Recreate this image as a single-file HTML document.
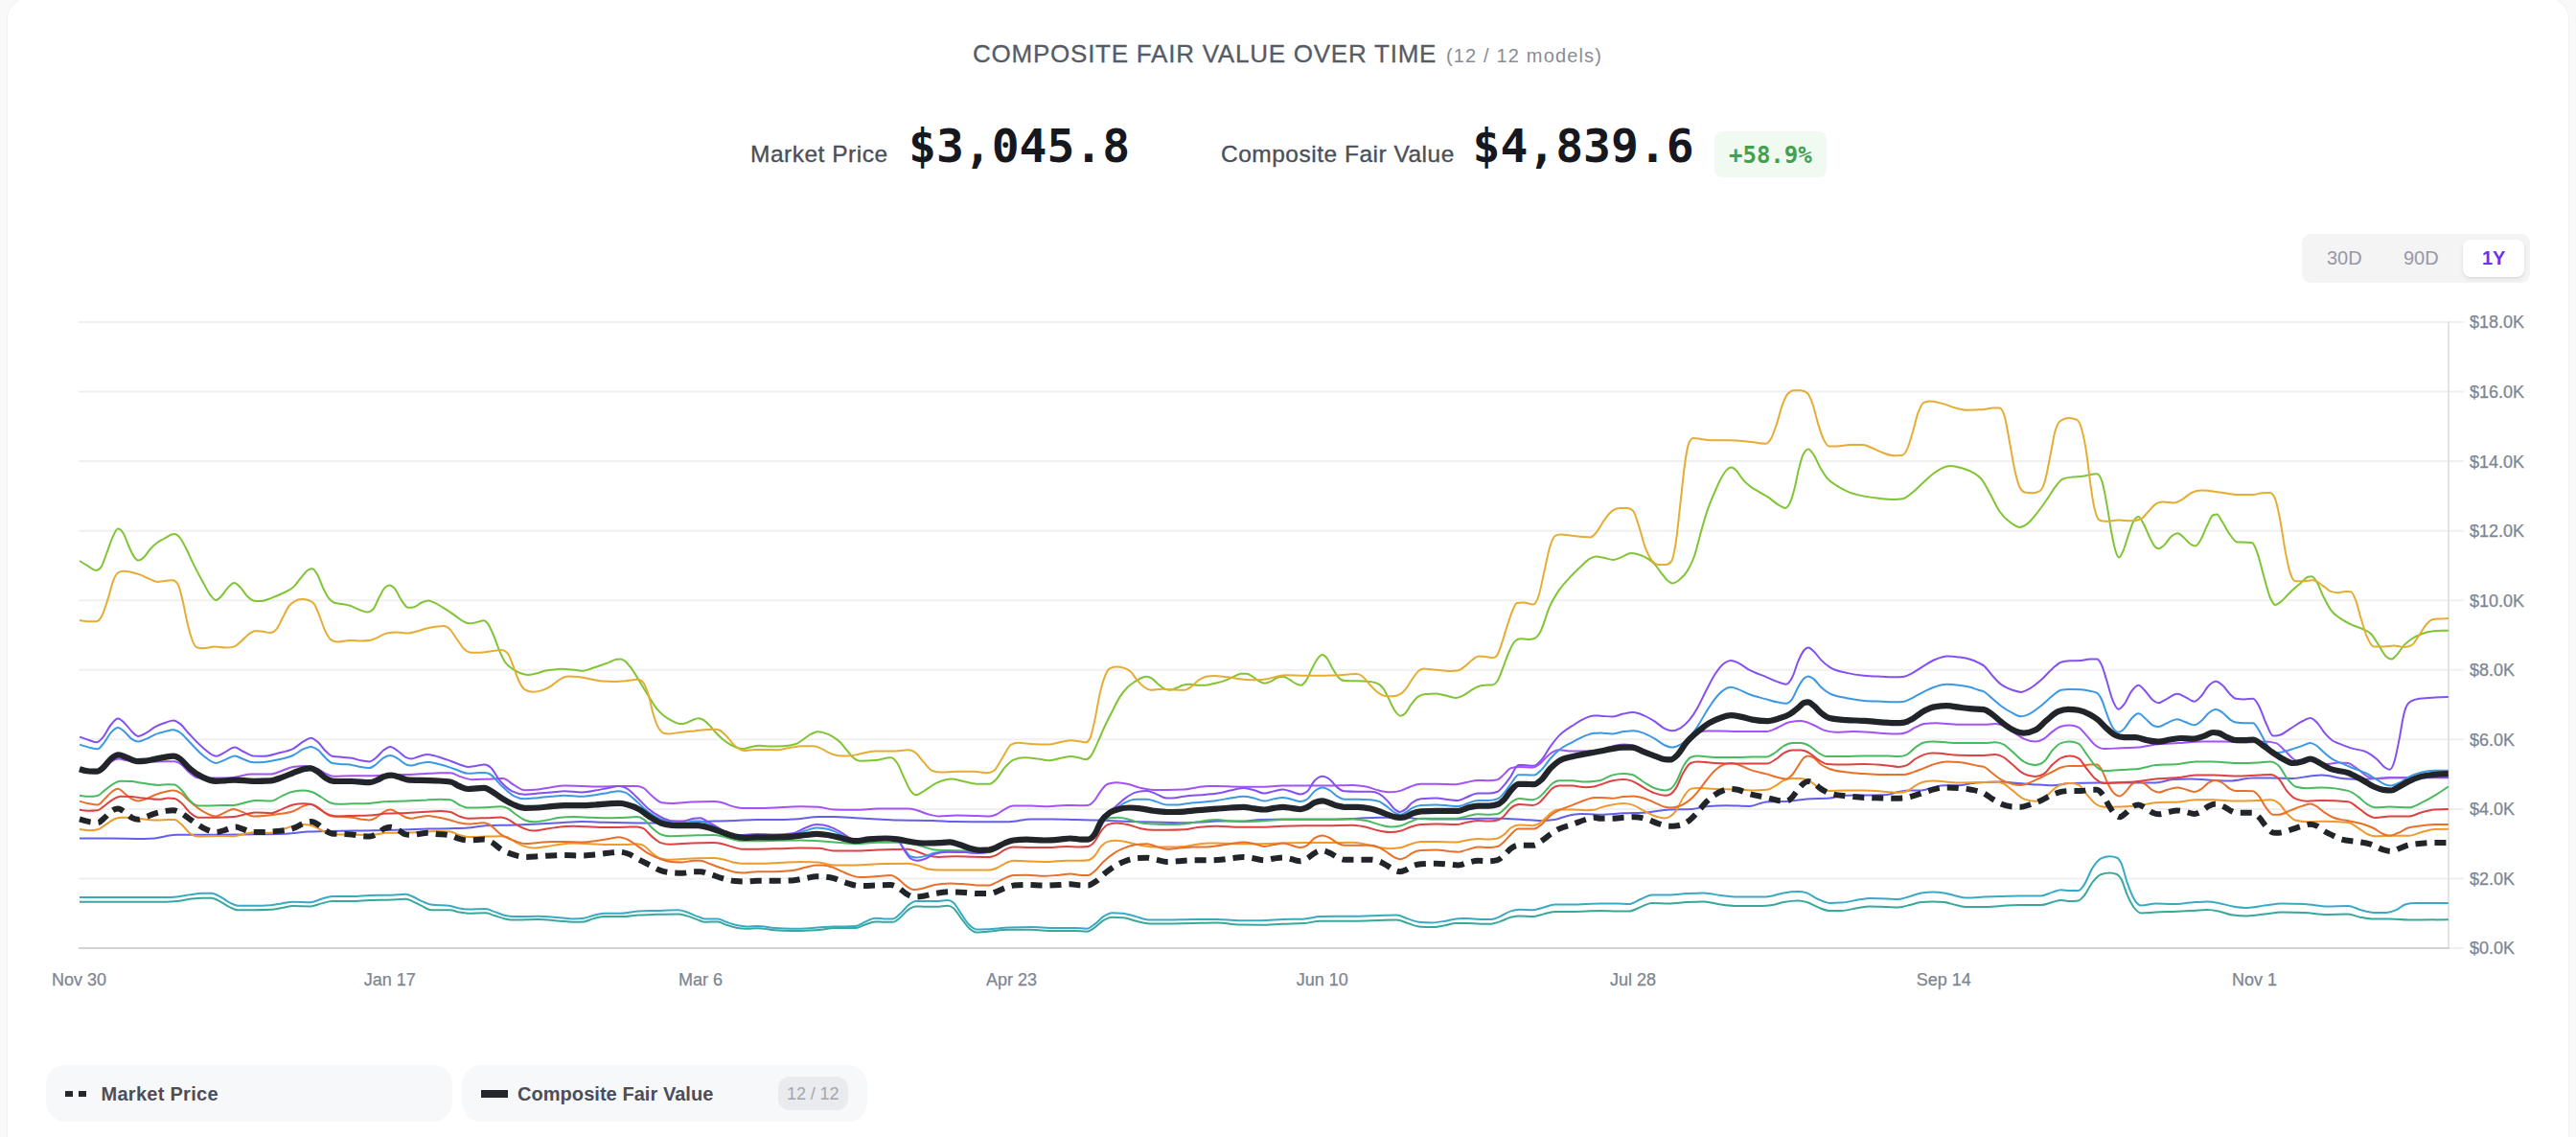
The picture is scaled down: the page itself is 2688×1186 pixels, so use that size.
<!DOCTYPE html><html lang="en"><head><meta charset="utf-8"><title>Composite Fair Value Over Time</title>
<style>
html,body{margin:0;padding:0}
h2,p,button,ul,li{margin:0;padding:0;border:0;background:none;font:inherit;color:inherit;font-weight:400;list-style:none;text-align:left}
body{width:2688px;height:1186px;overflow:hidden;background:#f9f9fa;font-family:"Liberation Sans",Arial,sans-serif;position:relative}
.card{position:absolute;left:8px;top:-2px;width:2672px;height:1300px;background:#fff;border-radius:22px;box-shadow:0 0 0 1px #f2f2f3}
.chart{position:absolute;left:0;top:0}
.t{position:absolute;white-space:nowrap;line-height:1}
.title{left:1015px;top:43px;font-size:26px;color:#555c66;letter-spacing:0.76px;-webkit-text-stroke:0.3px #555c66}
.sub{left:1509px;top:48px;font-size:20px;color:#878d96;letter-spacing:1.16px}
.lbl{font-size:24.5px;color:#4b4f5b;top:148.7px;letter-spacing:0.5px;-webkit-text-stroke:0.35px #4b4f5b}
.big{font-family:"DejaVu Sans Mono","Liberation Mono",monospace;font-weight:700;font-size:48px;color:#17181d;top:128px}
.badge{position:absolute;left:1788.5px;top:137px;width:117.5px;height:47.5px;border-radius:8px;background:#f0faf1}
.pct{font-family:"DejaVu Sans Mono","Liberation Mono",monospace;font-weight:700;font-size:24px;color:#43a050;left:1804px;top:149.5px}
.toggle{position:absolute;left:2402px;top:244px;width:238px;height:51px;border-radius:9px;background:#f4f4f5}
.act{position:absolute;left:2570px;top:250px;width:64px;height:39px;border-radius:8px;background:#fff;box-shadow:0 2px 5px rgba(0,0,0,.08),0 1px 2px rgba(0,0,0,.05)}
.tg{font-size:20px;color:#9898a5;top:259px}
.tga{font-size:20px;color:#6c33e5;font-weight:700;top:259px}
.pill{position:absolute;top:1111px;height:59px;border-radius:20px;background:#f7f8fa}
.lg{font-size:20px;font-weight:700;color:#4b4e5a;top:1131px}
.lg1{letter-spacing:0.28px}
.lg2{letter-spacing:0.05px}
.cnt{position:absolute;left:812px;top:1123px;width:73px;height:35px;border-radius:12px;background:#eaebee}
.cntt{font-size:18px;color:#a3a6af;left:821px;top:1132px;letter-spacing:-0.1px}
.bar{position:absolute;background:#25272d}
</style></head><body>
<main><div class="card"></div>
<svg class="chart" width="2688" height="1186" viewBox="0 0 2688 1186">
<g stroke="#f0f0f0" stroke-width="2" fill="none">
<line x1="82.0" y1="916.4" x2="2571" y2="916.4"/>
<line x1="82.0" y1="843.9" x2="2571" y2="843.9"/>
<line x1="82.0" y1="771.3" x2="2571" y2="771.3"/>
<line x1="82.0" y1="698.8" x2="2571" y2="698.8"/>
<line x1="82.0" y1="626.2" x2="2571" y2="626.2"/>
<line x1="82.0" y1="553.7" x2="2571" y2="553.7"/>
<line x1="82.0" y1="481.1" x2="2571" y2="481.1"/>
<line x1="82.0" y1="408.6" x2="2571" y2="408.6"/>
<line x1="82.0" y1="336.0" x2="2571" y2="336.0"/>
</g>
<g stroke-width="2" fill="none"><line x1="2556" y1="989.0" x2="2571" y2="989.0" stroke="#f0f0f0"/><line x1="2555" y1="335.0" x2="2555" y2="990.0" stroke="#e3e3e3"/><line x1="82.0" y1="989.0" x2="2556" y2="989.0" stroke="#d2d2d2"/></g>
<g fill="none" stroke-linejoin="round" stroke-linecap="butt">
<path d="M83.0,940.8C101.5,940.8,120.1,940.8,138.6,940.8C150.0,940.8,161.5,940.8,172.9,940.8C176.7,940.8,180.5,940.5,184.4,940.1C188.9,939.6,193.5,938.4,198.1,937.8C202.6,937.3,207.2,936.7,211.8,936.7C214.8,936.7,217.9,936.7,220.9,936.7C224.0,936.7,227.0,939.0,230.1,940.6C233.1,942.1,236.2,944.4,239.2,945.8C242.3,947.3,245.3,949.3,248.4,949.3C253.7,949.3,259.1,949.3,264.4,949.3C270.5,949.3,276.6,949.1,282.7,948.8C286.5,948.6,290.3,947.6,294.1,947.0C297.9,946.4,301.8,945.1,305.6,945.1C311.7,945.1,317.8,945.4,323.9,945.4C327.7,945.4,331.5,943.3,335.3,942.4C339.1,941.5,342.9,940.1,346.7,940.1C353.6,940.1,360.5,940.1,367.3,940.1C373.4,940.1,379.5,939.2,385.6,939.0C393.2,938.7,400.9,938.8,408.5,938.5C413.4,938.3,418.4,937.8,423.3,937.8C426.0,937.8,428.7,939.5,431.3,940.6C434.4,941.8,437.4,943.7,440.5,945.1C443.5,946.6,446.6,949.3,449.6,949.3C456.4,949.3,463.2,949.3,470.0,949.3C473.0,949.3,476.1,951.0,479.1,951.5C482.2,952.1,485.2,952.7,488.3,952.7C494.4,952.7,500.5,952.2,506.6,952.2C509.6,952.2,512.7,954.1,515.7,955.0C519.6,956.1,523.4,957.6,527.2,958.4C530.2,959.0,533.3,959.6,536.3,959.6C544.7,959.6,553.1,958.9,561.5,958.9C569.1,958.9,576.7,960.1,584.4,960.7C588.9,961.1,593.5,961.8,598.1,961.8C601.9,961.8,605.7,961.7,609.5,961.4C612.6,961.1,615.6,959.2,618.7,958.4C622.5,957.4,626.3,956.1,630.1,956.1C636.2,956.1,642.3,956.1,648.4,956.1C654.5,956.1,660.6,954.9,666.7,954.5C672.8,954.1,678.9,954.0,685.0,953.8C692.6,953.6,700.2,953.4,707.9,953.4C710.9,953.4,713.9,954.6,717.0,955.4C720.8,956.5,724.6,958.2,728.4,959.6C730.7,960.3,733.0,961.8,735.3,961.8C739.9,961.8,744.4,961.4,749.0,961.4C752.1,961.4,755.1,963.8,758.2,964.8C762.0,966.1,765.8,967.4,769.6,968.0C772.6,968.5,775.7,968.7,778.7,968.7C782.6,968.7,786.4,968.2,790.2,968.2C796.3,968.2,802.4,969.8,808.5,970.3C814.6,970.8,820.7,971.0,826.8,971.0C832.9,971.0,839.0,970.8,845.1,970.5C849.6,970.3,854.2,969.9,858.8,969.4C862.5,969.0,866.3,968.0,870.0,968.0C873.8,968.0,877.6,968.0,881.4,968.0C885.2,968.0,889.1,968.0,892.9,968.0C895.9,968.0,899.0,965.8,902.0,964.8C905.8,963.6,909.6,961.4,913.5,961.4C916.5,961.4,919.6,961.8,922.6,961.8C925.7,961.8,928.7,961.8,931.7,961.8C934.0,961.8,936.3,959.5,938.6,957.7C941.7,955.4,944.7,950.9,947.8,948.8C950.4,947.0,953.1,945.4,955.8,945.4C959.2,945.4,962.6,945.8,966.1,945.8C969.9,945.8,973.7,945.8,977.5,945.8C981.3,945.8,985.1,944.7,988.9,944.7C990.8,944.7,992.7,945.5,994.6,947.0C997.3,949.0,1000.0,953.9,1002.6,957.3C1005.7,961.1,1008.7,966.1,1011.8,968.7C1014.1,970.7,1016.4,972.6,1018.7,972.6C1022.5,972.6,1026.3,972.0,1030.1,971.7C1037.7,971.1,1045.3,969.8,1053.0,969.8C1060.6,969.8,1068.2,969.8,1075.8,969.8C1083.5,969.8,1091.1,971.0,1098.7,971.0C1106.3,971.0,1113.9,971.0,1121.6,971.0C1125.8,971.0,1130.0,971.7,1134.2,971.7C1136.8,971.7,1139.5,969.3,1142.2,967.6C1145.2,965.6,1148.3,962.0,1151.3,960.2C1154.4,958.4,1157.4,956.8,1160.5,956.8C1164.3,956.8,1168.1,957.0,1171.9,957.3C1176.5,957.6,1181.0,959.7,1185.6,960.7C1190.2,961.7,1194.8,963.4,1199.3,963.4C1205.4,963.4,1211.5,963.4,1217.6,963.4C1226.8,963.4,1235.9,963.1,1245.1,963.0C1253.4,962.8,1261.7,962.5,1270.0,962.5C1277.6,962.5,1285.2,964.4,1292.9,964.6C1300.5,964.7,1308.1,964.8,1315.7,964.8C1323.4,964.8,1331.0,964.0,1338.6,963.7C1346.2,963.4,1353.9,963.4,1361.5,963.0C1366.8,962.7,1372.2,960.7,1377.5,960.7C1382.8,960.7,1388.2,960.7,1393.5,960.7C1401.1,960.7,1408.7,960.7,1416.4,960.7C1424.0,960.7,1431.6,960.2,1439.2,960.0C1445.3,959.8,1451.4,959.6,1457.5,959.6C1461.3,959.6,1465.2,961.8,1469.0,963.0C1472.8,964.1,1476.6,966.0,1480.4,966.4C1485.0,966.9,1489.6,967.1,1494.1,967.1C1498.7,967.1,1503.3,966.0,1507.9,965.3C1511.7,964.6,1515.5,963.0,1519.3,963.0C1523.1,963.0,1526.9,963.0,1530.7,963.0C1535.3,963.0,1539.9,963.7,1544.4,963.7C1548.3,963.7,1552.1,963.7,1555.9,963.7C1558.9,963.7,1562.0,962.3,1565.0,961.4C1568.8,960.2,1572.6,957.8,1576.5,956.8C1579.5,956.0,1582.6,955.4,1585.6,955.4C1590.2,955.4,1594.8,956.1,1599.3,956.1C1603.1,956.1,1607.0,954.3,1610.8,953.4C1614.6,952.5,1618.4,950.9,1622.2,950.9C1628.3,950.9,1634.4,950.9,1640.5,950.9C1650.3,950.9,1660.2,950.0,1670.0,950.0C1676.0,950.0,1682.0,950.6,1687.9,950.6C1691.9,950.6,1695.9,950.6,1699.9,950.6C1703.9,950.6,1707.9,947.5,1711.9,946.1C1715.8,944.7,1719.8,941.9,1723.8,941.9C1729.8,941.9,1735.8,942.5,1741.7,942.5C1747.7,942.5,1753.7,941.4,1759.7,941.0C1765.7,940.7,1771.6,940.4,1777.6,940.4C1783.6,940.4,1789.6,942.7,1795.6,943.4C1801.5,944.2,1807.5,944.9,1813.5,944.9C1821.5,944.9,1829.4,944.9,1837.4,944.9C1841.4,944.9,1845.4,944.6,1849.4,944.0C1853.4,943.4,1857.3,941.7,1861.3,941.0C1866.3,940.1,1871.3,939.5,1876.3,939.5C1879.3,939.5,1882.3,940.2,1885.2,941.0C1889.2,942.2,1893.2,944.9,1897.2,946.4C1901.2,947.9,1905.2,950.0,1909.2,950.0C1913.1,950.0,1917.1,950.0,1921.1,950.0C1927.1,950.0,1933.1,947.8,1939.1,947.0C1943.0,946.4,1947.0,945.5,1951.0,945.5C1957.0,945.5,1963.0,945.9,1969.0,946.1C1972.9,946.2,1976.9,946.4,1980.9,946.4C1984.9,946.4,1988.9,944.9,1992.9,944.0C1996.9,943.1,2000.8,941.4,2004.8,941.0C2008.8,940.6,2012.8,940.4,2016.8,940.4C2020.8,940.4,2024.8,940.6,2028.7,941.0C2032.7,941.4,2036.7,943.2,2040.7,944.0C2044.7,944.9,2048.7,946.1,2052.7,946.1C2058.4,946.1,2064.2,946.1,2070.0,946.1C2076.0,946.1,2082.0,945.3,2087.9,944.9C2093.9,944.6,2099.9,944.0,2105.9,944.0C2113.8,944.0,2121.8,944.0,2129.8,944.0C2133.8,944.0,2137.8,942.0,2141.7,941.0C2144.7,940.3,2147.7,938.9,2150.7,938.9C2153.7,938.9,2156.7,940.1,2159.7,940.1C2162.7,940.1,2165.7,939.9,2168.7,939.5C2170.6,939.3,2172.6,936.7,2174.6,934.4C2177.6,931.0,2180.6,923.8,2183.6,920.1C2186.6,916.4,2189.6,913.0,2192.6,912.0C2195.6,911.0,2198.6,910.5,2201.5,910.5C2204.0,910.5,2206.5,911.0,2209.0,912.0C2210.5,912.6,2212.0,914.4,2213.5,917.1C2215.5,920.7,2217.5,928.3,2219.5,932.9C2222.0,938.7,2224.5,943.8,2227.0,947.0C2229.4,950.2,2231.9,952.4,2234.4,952.4C2239.4,952.4,2244.4,951.7,2249.4,951.5C2255.4,951.2,2261.3,951.1,2267.3,950.9C2273.3,950.6,2279.3,950.3,2285.2,950.0C2291.2,949.7,2297.2,949.1,2303.2,949.1C2307.2,949.1,2311.2,949.8,2315.1,950.6C2320.1,951.5,2325.1,953.9,2330.1,954.5C2335.1,955.1,2340.1,955.4,2345.0,955.4C2351.0,955.4,2357.0,954.2,2363.0,953.6C2369.0,952.9,2374.9,951.5,2380.9,951.5C2388.9,951.5,2396.9,951.7,2404.8,952.1C2412.8,952.5,2420.8,953.9,2428.7,953.9C2435.9,953.9,2443.0,953.6,2450.2,953.6C2454.6,953.6,2459.1,956.1,2463.6,956.9C2468.0,957.7,2472.5,958.6,2476.9,958.6C2482.5,958.6,2488.1,958.6,2493.6,958.6C2500.3,958.6,2507.0,959.6,2513.7,959.6C2527.4,959.6,2541.1,959.4,2554.8,959.2" stroke="#38a89d" stroke-width="2.0"/>
<path d="M83.0,936.0C101.5,936.0,120.1,936.0,138.6,936.0C150.0,936.0,161.5,936.0,172.9,936.0C176.7,936.0,180.5,935.8,184.4,935.5C188.9,935.2,193.5,933.9,198.1,933.3C202.6,932.6,207.2,931.7,211.8,931.7C214.8,931.7,217.9,931.7,220.9,931.7C224.0,931.7,227.0,933.9,230.1,935.5C233.1,937.1,236.2,939.7,239.2,941.3C242.3,942.8,245.3,944.7,248.4,944.7C253.7,944.7,259.1,944.7,264.4,944.7C270.5,944.7,276.6,944.5,282.7,944.2C286.5,944.0,290.3,943.0,294.1,942.4C297.9,941.8,301.8,940.8,305.6,940.8C311.7,940.8,317.8,941.3,323.9,941.3C327.7,941.3,331.5,938.9,335.3,937.8C339.1,936.8,342.9,935.1,346.7,935.1C353.6,935.1,360.5,935.1,367.3,935.1C373.4,935.1,379.5,934.1,385.6,933.9C393.2,933.8,400.9,933.9,408.5,933.7C413.4,933.6,418.4,932.8,423.3,932.8C426.0,932.8,428.7,934.4,431.3,935.5C434.4,936.8,437.4,938.8,440.5,940.1C443.5,941.4,446.6,943.1,449.6,943.5C456.4,944.6,463.2,944.1,470.0,945.1C473.0,945.6,476.1,946.9,479.1,947.4C482.2,948.0,485.2,948.6,488.3,948.6C494.4,948.6,500.5,948.1,506.6,948.1C509.6,948.1,512.7,949.9,515.7,950.9C519.6,952.1,523.4,954.1,527.2,955.0C530.2,955.7,533.3,956.1,536.3,956.1C544.7,956.1,553.1,955.7,561.5,955.7C569.1,955.7,576.7,956.7,584.4,957.3C588.9,957.6,593.5,958.4,598.1,958.4C601.9,958.4,605.7,958.2,609.5,957.7C612.6,957.4,615.6,955.8,618.7,955.0C622.5,954.0,626.3,952.7,630.1,952.7C636.2,952.7,642.3,952.7,648.4,952.7C654.5,952.7,660.6,950.7,666.7,950.4C672.8,950.1,678.9,950.1,685.0,949.9C692.6,949.7,700.2,949.3,707.9,949.3C710.9,949.3,713.9,950.6,717.0,951.5C720.8,952.8,724.6,954.8,728.4,956.1C730.7,956.9,733.0,958.4,735.3,958.4C739.9,958.4,744.4,958.4,749.0,958.4C752.1,958.4,755.1,960.8,758.2,961.8C762.0,963.1,765.8,964.5,769.6,965.3C772.6,965.9,775.7,966.4,778.7,966.4C782.6,966.4,786.4,966.0,790.2,966.0C796.3,966.0,802.4,967.6,808.5,968.0C814.6,968.5,820.7,968.7,826.8,968.7C832.9,968.7,839.0,968.5,845.1,968.2C849.6,968.0,854.2,967.4,858.8,967.1C862.5,966.8,866.3,966.4,870.0,966.4C873.8,966.4,877.6,966.4,881.4,966.4C885.2,966.4,889.1,966.3,892.9,966.0C895.9,965.7,899.0,963.1,902.0,961.8C905.8,960.3,909.6,957.7,913.5,957.7C916.5,957.7,919.6,958.4,922.6,958.4C925.7,958.4,928.7,958.4,931.7,958.4C934.0,958.4,936.3,955.7,938.6,953.8C941.7,951.3,944.7,946.6,947.8,944.2C950.4,942.2,953.1,940.1,955.8,940.1C959.2,940.1,962.6,940.1,966.1,940.1C969.9,940.1,973.7,940.1,977.5,940.1C981.3,940.1,985.1,939.0,988.9,939.0C990.8,939.0,992.7,939.7,994.6,941.3C997.3,943.4,1000.0,948.9,1002.6,952.7C1005.7,957.0,1008.7,962.4,1011.8,965.3C1014.1,967.4,1016.4,969.4,1018.7,969.4C1022.5,969.4,1026.3,969.3,1030.1,969.2C1037.7,968.9,1045.3,967.9,1053.0,967.6C1060.6,967.3,1068.2,967.1,1075.8,967.1C1083.5,967.1,1091.1,968.0,1098.7,968.0C1106.3,968.0,1113.9,968.0,1121.6,968.0C1125.8,968.0,1130.0,968.7,1134.2,968.7C1136.8,968.7,1139.5,966.0,1142.2,964.1C1145.2,962.0,1148.3,958.1,1151.3,956.1C1154.4,954.1,1157.4,952.2,1160.5,952.2C1164.3,952.2,1168.1,952.4,1171.9,952.7C1176.5,953.1,1181.0,955.0,1185.6,956.1C1190.2,957.3,1194.8,959.6,1199.3,959.6C1205.4,959.6,1211.5,959.6,1217.6,959.6C1226.8,959.6,1235.9,959.2,1245.1,959.1C1253.4,959.0,1261.7,958.9,1270.0,958.9C1277.6,958.9,1285.2,960.2,1292.9,960.2C1300.5,960.2,1308.1,960.2,1315.7,960.2C1323.4,960.2,1331.0,959.4,1338.6,959.1C1346.2,958.8,1353.9,958.9,1361.5,958.4C1366.8,958.1,1372.2,956.4,1377.5,956.1C1382.8,955.8,1388.2,955.7,1393.5,955.7C1401.1,955.7,1408.7,955.7,1416.4,955.7C1424.0,955.7,1431.6,955.2,1439.2,955.0C1445.3,954.8,1451.4,954.5,1457.5,954.5C1461.3,954.5,1465.2,957.2,1469.0,958.4C1472.8,959.6,1476.6,961.5,1480.4,961.8C1485.0,962.3,1489.6,962.5,1494.1,962.5C1498.7,962.5,1503.3,961.5,1507.9,960.7C1511.7,960.1,1515.5,958.7,1519.3,958.4C1523.1,958.1,1526.9,958.0,1530.7,958.0C1535.3,958.0,1539.9,958.9,1544.4,958.9C1548.3,958.9,1552.1,958.9,1555.9,958.9C1558.9,958.9,1562.0,957.3,1565.0,956.1C1568.8,954.6,1572.6,951.6,1576.5,950.4C1579.5,949.4,1582.6,948.8,1585.6,948.8C1590.2,948.8,1594.8,949.3,1599.3,949.3C1603.1,949.3,1607.0,947.5,1610.8,946.5C1614.6,945.6,1618.4,943.5,1622.2,943.5C1628.3,943.5,1634.4,943.5,1640.5,943.5C1650.3,943.5,1660.2,942.5,1670.0,942.5C1676.0,942.5,1682.0,942.5,1687.9,942.5C1691.9,942.5,1695.9,943.1,1699.9,943.1C1703.9,943.1,1707.9,939.6,1711.9,938.0C1715.8,936.4,1719.8,933.5,1723.8,933.5C1729.8,933.5,1735.8,933.5,1741.7,933.5C1747.7,933.5,1753.7,932.4,1759.7,932.0C1765.7,931.7,1771.6,931.4,1777.6,931.4C1783.6,931.4,1789.6,933.4,1795.6,934.1C1801.5,934.8,1807.5,935.6,1813.5,935.6C1821.5,935.6,1829.4,935.6,1837.4,935.6C1841.4,935.6,1845.4,935.1,1849.4,934.4C1853.4,933.7,1857.3,932.2,1861.3,931.4C1866.3,930.5,1871.3,930.0,1876.3,930.0C1879.3,930.0,1882.3,930.5,1885.2,931.4C1889.2,932.8,1893.2,936.3,1897.2,938.0C1901.2,939.8,1905.2,941.9,1909.2,941.9C1913.1,941.9,1917.1,941.8,1921.1,941.6C1927.1,941.3,1933.1,939.5,1939.1,938.6C1943.0,938.1,1947.0,937.1,1951.0,937.1C1957.0,937.1,1963.0,937.2,1969.0,937.4C1972.9,937.6,1976.9,938.0,1980.9,938.0C1984.9,938.0,1988.9,936.1,1992.9,935.0C1996.9,933.9,2000.8,932.0,2004.8,931.4C2008.8,930.9,2012.8,930.6,2016.8,930.6C2020.8,930.6,2024.8,930.9,2028.7,931.4C2032.7,932.0,2036.7,933.6,2040.7,934.4C2044.7,935.3,2048.7,936.5,2052.7,936.5C2058.4,936.5,2064.2,935.9,2070.0,935.6C2076.0,935.4,2082.0,935.2,2087.9,935.0C2093.9,934.8,2099.9,934.4,2105.9,934.4C2113.8,934.4,2121.8,934.4,2129.8,934.4C2133.8,934.4,2137.8,931.7,2141.7,930.6C2144.7,929.7,2147.7,928.2,2150.7,928.2C2153.7,928.2,2156.7,929.1,2159.7,929.1C2162.7,929.1,2165.7,929.1,2168.7,929.1C2170.6,929.1,2172.6,925.9,2174.6,923.1C2177.6,918.9,2180.6,909.8,2183.6,905.1C2186.6,900.5,2189.6,896.7,2192.6,895.3C2195.6,893.9,2198.6,893.2,2201.5,893.2C2204.0,893.2,2206.5,893.7,2209.0,894.7C2210.5,895.3,2212.0,897.4,2213.5,900.7C2215.5,905.0,2217.5,914.4,2219.5,920.1C2222.0,927.2,2224.5,933.9,2227.0,938.0C2229.4,942.1,2231.9,944.6,2234.4,944.6C2239.4,944.6,2244.4,942.5,2249.4,942.5C2255.4,942.5,2261.3,943.1,2267.3,943.1C2273.3,943.1,2279.3,942.1,2285.2,941.6C2291.2,941.2,2297.2,940.4,2303.2,940.4C2307.2,940.4,2311.2,941.2,2315.1,941.9C2320.1,942.8,2325.1,944.7,2330.1,945.5C2335.1,946.3,2340.1,947.0,2345.0,947.0C2351.0,947.0,2357.0,945.4,2363.0,944.6C2369.0,943.9,2374.9,942.5,2380.9,942.5C2388.9,942.5,2396.9,942.7,2404.8,943.1C2412.8,943.5,2420.8,945.5,2428.7,945.5C2435.9,945.5,2443.0,944.9,2450.2,944.9C2454.6,944.9,2459.1,948.0,2463.6,949.2C2468.0,950.4,2472.5,951.9,2476.9,951.9C2481.4,951.9,2485.8,951.9,2490.3,951.9C2493.6,951.9,2497.0,950.7,2500.3,949.2C2503.7,947.8,2507.0,944.1,2510.3,943.2C2513.7,942.3,2517.0,941.9,2520.4,941.9C2531.8,941.9,2543.3,941.9,2554.8,941.9" stroke="#3aa9c4" stroke-width="2.0"/>
<path d="M83.0,585.0C86.1,587.0,89.2,588.9,92.2,590.7C94.9,592.2,97.6,595.1,100.3,595.1C102.0,595.1,103.7,594.0,105.4,591.7C107.4,588.9,109.4,581.7,111.5,576.5C113.5,571.3,115.5,564.6,117.5,560.3C119.4,556.5,121.2,551.6,123.0,551.6C124.9,551.6,126.8,553.4,128.7,556.3C130.7,559.4,132.7,566.1,134.7,570.5C136.4,574.1,138.1,578.2,139.8,580.6C141.3,582.8,142.9,584.6,144.4,584.6C146.3,584.6,148.1,583.2,149.9,581.6C152.3,579.5,154.6,575.1,157.0,572.5C159.3,569.9,161.7,567.8,164.1,566.0C166.4,564.3,168.8,563.3,171.1,562.0C173.5,560.6,175.9,558.8,178.2,557.9C179.6,557.4,180.9,556.9,182.3,556.9C183.9,556.9,185.6,558.4,187.3,560.3C189.3,562.6,191.4,566.7,193.4,570.5C196.1,575.5,198.8,582.2,201.5,587.6C204.8,594.5,208.2,600.7,211.6,606.9C214.3,611.8,217.0,617.7,219.7,621.0C221.6,623.4,223.5,626.1,225.3,626.1C227.2,626.1,229.0,623.8,230.8,622.0C233.2,619.7,235.5,615.3,237.9,612.9C240.0,610.7,242.2,607.9,244.4,607.9C246.6,607.9,248.8,610.7,251.0,612.9C253.4,615.3,255.7,619.7,258.1,622.0C260.5,624.3,262.8,626.4,265.2,626.7C267.5,627.0,269.9,627.1,272.3,627.1C275.6,627.1,279.0,625.2,282.4,624.1C286.4,622.6,290.5,621.0,294.5,619.0C298.6,617.0,302.6,615.9,306.7,611.9C309.3,609.3,312.0,604.9,314.7,601.8C317.1,599.1,319.5,595.5,321.8,594.3C323.2,593.6,324.5,593.3,325.9,593.3C327.6,593.3,329.2,596.0,330.9,598.8C332.9,602.1,335.0,608.7,337.0,612.9C339.0,617.1,341.0,621.4,343.1,624.1C345.1,626.7,347.1,628.0,349.1,628.7C351.8,629.6,354.5,629.6,357.2,630.1C359.9,630.6,362.6,630.9,365.3,631.7C368.7,632.8,372.0,635.0,375.4,636.2C378.1,637.2,380.8,638.6,383.5,638.6C385.5,638.6,387.6,637.5,389.6,635.2C391.6,632.9,393.6,626.8,395.6,623.0C397.7,619.3,399.7,614.9,401.7,612.9C403.4,611.3,405.1,610.5,406.8,610.5C408.5,610.5,410.1,612.1,411.8,613.9C414.2,616.6,416.5,622.8,418.9,626.1C421.3,629.4,423.6,633.8,426.0,633.8C428.0,633.8,430.0,633.6,432.1,633.2C434.8,632.6,437.4,629.6,440.1,628.5C442.5,627.5,444.9,626.5,447.2,626.5C449.6,626.5,451.9,628.0,454.3,629.1C457.7,630.7,461.0,633.1,464.4,635.2C467.8,637.3,471.2,639.5,474.5,641.9C477.2,643.7,479.9,646.3,482.6,647.7C485.0,649.0,487.3,650.3,489.7,650.3C492.1,650.3,494.4,649.8,496.8,649.3C499.5,648.8,502.2,647.3,504.9,647.3C506.2,647.3,507.6,648.7,508.9,650.3C510.9,652.9,513.0,657.8,515.0,662.5C517.0,667.2,519.0,673.9,521.1,678.7C523.1,683.4,525.1,687.7,527.1,690.8C529.8,694.9,532.5,696.0,535.2,697.9C537.9,699.8,540.6,701.3,543.3,702.3C546.0,703.3,548.7,703.9,551.4,703.9C554.1,703.9,556.8,703.2,559.5,702.5C562.9,701.8,566.2,700.2,569.6,699.5C573.0,698.8,576.3,698.6,579.7,698.3C581.9,698.1,584.2,697.7,586.4,697.7C590.8,697.7,595.2,698.4,599.6,698.8C602.7,699.1,605.8,699.7,608.8,699.7C611.0,699.7,613.2,698.6,615.4,698.0C619.0,696.9,622.5,695.4,626.0,694.2C629.1,693.1,632.2,692.3,635.2,691.1C637.9,690.1,640.5,688.3,643.2,687.8C644.7,687.6,646.2,687.4,647.8,687.4C649.3,687.4,650.9,688.6,652.4,689.8C654.2,691.2,655.9,693.5,657.7,695.7C659.9,698.6,662.1,702.2,664.3,705.6C666.9,709.8,669.6,714.5,672.2,718.8C674.4,722.4,676.6,726.0,678.8,729.4C681.0,732.8,683.2,736.5,685.4,739.3C687.6,742.0,689.8,744.0,692.0,745.9C695.1,748.5,698.2,750.3,701.2,751.8C704.3,753.4,707.4,755.1,710.5,755.1C712.2,755.1,714.0,754.7,715.8,754.2C718.0,753.5,720.2,752.0,722.4,751.2C724.6,750.3,726.8,749.2,729.0,749.2C730.7,749.2,732.5,750.1,734.2,751.2C736.4,752.5,738.6,754.9,740.8,757.1C743.0,759.4,745.2,762.5,747.4,764.8C749.6,767.1,751.8,769.1,754.0,771.0C756.7,773.2,759.3,775.1,762.0,776.7C764.6,778.2,767.2,779.7,769.9,780.2C772.1,780.7,774.3,780.9,776.5,780.9C779.1,780.9,781.8,779.4,784.4,778.9C787.0,778.4,789.7,777.8,792.3,777.8C796.3,777.8,800.2,778.6,804.2,778.6C808.6,778.6,813.0,778.5,817.4,778.2C821.8,778.0,826.2,777.5,830.6,776.0C833.2,775.1,835.9,772.7,838.5,771.0C841.2,769.3,843.8,767.0,846.4,765.7C848.6,764.6,850.8,763.3,853.0,763.3C855.2,763.3,857.4,763.8,859.6,764.4C862.7,765.2,865.8,766.5,868.9,768.3C871.5,769.9,874.1,771.6,876.8,774.3C879.0,776.5,881.2,779.6,883.4,782.2C885.6,784.8,887.8,788.2,890.0,790.1C892.5,792.3,895.0,793.7,897.4,793.7C902.8,793.7,908.1,793.5,913.5,793.1C918.8,792.6,924.1,790.3,929.5,790.3C931.7,790.3,934.0,792.6,936.3,796.0C938.6,799.5,940.9,806.1,943.2,810.9C945.5,815.7,947.8,821.5,950.0,824.6C952.0,827.2,953.9,829.2,955.8,829.2C958.4,829.2,961.1,826.7,963.8,825.3C968.3,822.8,972.9,818.7,977.5,816.6C982.8,814.2,988.2,812.5,993.5,812.5C998.1,812.5,1002.6,814.6,1007.2,815.5C1011.8,816.3,1016.4,817.8,1020.9,817.8C1024.8,817.8,1028.6,817.8,1032.4,817.8C1034.7,817.8,1037.0,815.4,1039.2,813.2C1042.3,810.2,1045.3,804.0,1048.4,800.6C1051.4,797.2,1054.5,793.8,1057.5,792.6C1061.3,791.1,1065.2,790.3,1069.0,790.3C1073.5,790.3,1078.1,790.9,1082.7,791.5C1086.5,791.9,1090.3,793.3,1094.1,793.3C1098.8,793.3,1103.4,791.3,1108.1,790.5C1111.1,789.9,1114.1,788.9,1117.2,788.9C1120.2,788.9,1123.2,789.9,1126.2,790.5C1128.6,791.0,1131.0,792.1,1133.3,792.1C1135.0,792.1,1136.7,790.6,1138.4,788.5C1140.7,785.5,1143.1,779.4,1145.4,774.3C1147.8,769.3,1150.1,763.2,1152.5,758.2C1155.2,752.4,1157.9,747.2,1160.6,742.0C1163.2,736.8,1165.9,731.1,1168.6,726.9C1171.3,722.7,1174.0,719.5,1176.7,716.8C1179.4,714.1,1182.1,712.5,1184.8,710.7C1187.1,709.2,1189.5,707.5,1191.8,706.7C1193.5,706.1,1195.2,705.7,1196.9,705.7C1198.6,705.7,1200.3,706.7,1201.9,707.7C1204.0,709.0,1206.0,711.5,1208.0,713.2C1210.0,714.8,1212.0,716.7,1214.0,717.8C1216.1,718.9,1218.1,719.8,1220.1,719.8C1222.5,719.8,1224.8,718.6,1227.2,717.8C1229.5,717.0,1231.9,715.5,1234.2,714.8C1236.6,714.1,1238.9,713.8,1241.3,713.8C1244.0,713.8,1246.7,714.8,1249.4,714.8C1252.1,714.8,1254.8,714.8,1257.4,714.8C1260.8,714.8,1264.2,713.5,1267.5,712.8C1270.9,712.0,1274.3,711.3,1277.6,710.1C1281.0,709.0,1284.4,707.2,1287.7,705.7C1290.1,704.7,1292.4,702.7,1294.8,702.7C1296.8,702.7,1298.8,702.7,1300.8,702.7C1302.9,702.7,1304.9,704.5,1306.9,705.7C1309.3,707.1,1311.6,709.5,1314.0,710.7C1316.0,711.8,1318.0,712.8,1320.0,712.8C1322.0,712.8,1324.1,711.6,1326.1,710.7C1328.4,709.7,1330.8,707.5,1333.1,706.7C1335.2,706.0,1337.2,705.7,1339.2,705.7C1341.2,705.7,1343.2,707.6,1345.3,708.7C1347.6,710.0,1350.0,712.1,1352.3,713.2C1354.0,713.9,1355.7,714.8,1357.4,714.8C1359.0,714.8,1360.7,713.0,1362.4,710.7C1364.4,708.0,1366.5,702.5,1368.5,698.6C1370.5,694.8,1372.5,690.2,1374.5,687.5C1376.2,685.3,1377.9,683.1,1379.6,683.1C1381.3,683.1,1382.9,684.5,1384.6,686.5C1386.6,689.0,1388.7,694.3,1390.7,697.6C1392.7,701.0,1394.7,704.6,1396.7,706.7C1398.7,708.8,1400.8,710.1,1402.8,710.1C1406.8,710.3,1410.9,710.2,1414.9,710.3C1418.9,710.4,1423.0,710.5,1427.0,710.7C1430.0,710.9,1433.1,711.3,1436.1,712.4C1438.4,713.2,1440.8,714.6,1443.2,717.8C1445.2,720.5,1447.2,725.0,1449.2,728.9C1451.2,732.8,1453.2,738.1,1455.3,741.0C1457.3,744.0,1459.3,746.7,1461.3,746.7C1463.0,746.7,1464.7,745.7,1466.4,744.0C1468.4,742.1,1470.4,737.7,1472.4,735.0C1474.8,731.8,1477.1,728.7,1479.5,726.9C1482.2,724.9,1484.9,724.1,1487.6,723.9C1490.9,723.6,1494.3,723.5,1497.7,723.5C1501.0,723.5,1504.4,724.6,1507.8,725.3C1511.5,726.0,1515.2,727.9,1518.9,727.9C1521.2,727.9,1523.6,726.9,1525.9,725.9C1528.6,724.7,1531.3,722.5,1534.0,720.8C1536.7,719.2,1539.4,717.2,1542.1,716.2C1544.4,715.3,1546.8,715.0,1549.1,714.8C1551.8,714.5,1554.5,714.6,1557.2,714.4C1558.9,714.2,1560.6,713.2,1562.3,710.7C1564.3,707.8,1566.3,701.7,1568.3,696.6C1570.3,691.6,1572.3,685.0,1574.4,680.5C1576.4,675.9,1578.4,671.4,1580.4,669.4C1582.4,667.3,1584.5,666.3,1586.5,666.3C1589.2,666.3,1591.9,666.9,1594.5,666.9C1596.6,666.9,1598.6,666.7,1600.6,666.3C1602.6,665.9,1604.6,663.5,1606.7,660.3C1610.2,654.7,1613.7,640.0,1617.2,632.4C1620.2,625.8,1623.3,621.0,1626.3,616.4C1630.1,610.7,1633.9,606.9,1637.7,602.7C1641.6,598.5,1645.4,594.8,1649.2,591.2C1652.2,588.4,1655.3,585.1,1658.3,583.2C1660.6,581.9,1662.9,580.5,1665.2,580.5C1668.2,580.5,1671.3,581.5,1674.3,582.1C1677.4,582.7,1680.4,583.9,1683.5,583.9C1686.5,583.9,1689.6,582.1,1692.6,580.9C1695.7,579.8,1698.7,577.1,1701.8,577.1C1704.8,577.1,1707.9,577.6,1710.9,578.7C1714.0,579.7,1717.0,581.1,1720.1,583.2C1722.4,584.8,1724.6,586.5,1726.9,588.9C1729.2,591.4,1731.5,595.2,1733.8,598.1C1735.7,600.5,1737.6,603.2,1739.5,605.0C1741.4,606.7,1743.3,608.4,1745.2,608.4C1747.5,608.4,1749.8,606.7,1752.1,605.0C1755.1,602.6,1758.2,599.9,1761.2,594.7C1763.5,590.7,1765.8,586.5,1768.1,579.8C1770.4,573.1,1772.7,562.7,1775.0,554.6C1777.2,546.6,1779.5,538.4,1781.8,531.8C1784.1,525.1,1786.4,520.0,1788.7,514.6C1791.0,509.3,1793.2,504.0,1795.5,499.8C1797.4,496.2,1799.3,492.6,1801.3,490.6C1803.0,488.8,1804.8,487.6,1806.5,487.6C1808.2,487.6,1809.9,489.1,1811.5,490.6C1813.8,492.7,1816.1,497.1,1818.4,499.8C1820.7,502.4,1823.0,504.7,1825.3,506.6C1828.3,509.2,1831.4,510.5,1834.4,512.3C1838.2,514.7,1842.0,516.6,1845.8,519.2C1848.9,521.3,1851.9,524.2,1855.0,526.1C1857.7,527.7,1860.3,529.9,1863.0,529.9C1864.5,529.9,1866.0,528.0,1867.6,524.9C1869.1,521.8,1870.6,516.9,1872.1,511.2C1873.7,505.5,1875.2,496.7,1876.7,490.6C1878.2,484.5,1879.8,477.9,1881.3,474.6C1883.2,470.5,1885.1,468.4,1887.0,468.4C1888.9,468.4,1890.8,471.8,1892.7,474.6C1895.0,478.0,1897.3,484.3,1899.6,488.3C1901.9,492.3,1904.2,495.9,1906.4,498.6C1909.9,502.8,1913.3,504.3,1916.7,506.6C1920.5,509.2,1924.4,511.2,1928.2,512.8C1932.7,514.8,1937.3,515.8,1941.9,516.9C1948.0,518.4,1954.1,519.0,1960.2,519.7C1965.5,520.3,1970.9,521.0,1976.2,521.0C1979.2,521.0,1982.3,520.8,1985.3,520.3C1988.4,519.9,1991.4,516.9,1994.5,514.6C1998.3,511.8,2002.1,507.8,2005.9,504.3C2009.7,500.9,2013.5,496.9,2017.4,494.0C2020.4,491.8,2023.4,489.7,2026.5,488.3C2029.5,487.0,2032.6,486.0,2035.6,486.0C2039.5,486.0,2043.3,487.2,2047.1,488.3C2050.9,489.5,2054.7,490.6,2058.5,492.9C2061.6,494.7,2064.6,496.0,2067.7,499.8C2070.4,503.1,2073.1,508.7,2075.8,513.5C2079.3,519.7,2082.9,528.1,2086.4,533.2C2089.9,538.4,2093.4,541.6,2096.9,544.3C2100.5,547.1,2104.0,549.9,2107.5,549.9C2110.1,549.9,2112.8,548.4,2115.4,546.4C2118.9,543.9,2122.4,539.0,2126.0,534.6C2129.5,530.2,2133.0,525.1,2136.5,520.1C2139.2,516.2,2141.8,511.6,2144.4,508.2C2147.1,504.8,2149.7,500.8,2152.3,499.7C2155.9,498.3,2159.4,498.1,2162.9,497.6C2166.4,497.1,2169.9,497.4,2173.5,496.8C2176.1,496.4,2178.7,495.4,2181.4,495.0C2183.6,494.6,2185.8,494.2,2188.0,494.2C2189.7,494.2,2191.5,496.7,2193.2,501.6C2195.0,506.5,2196.8,517.2,2198.5,526.6C2200.3,536.1,2202.0,549.4,2203.8,558.3C2205.1,565.0,2206.4,571.6,2207.8,575.5C2208.9,578.8,2210.0,581.5,2211.2,581.5C2212.7,581.5,2214.2,577.5,2215.7,574.1C2217.4,570.2,2219.2,563.4,2220.9,558.3C2222.7,553.3,2224.5,547.0,2226.2,543.8C2228.0,540.6,2229.7,539.1,2231.5,539.1C2233.3,539.1,2235.0,543.3,2236.8,546.4C2239.0,550.3,2241.2,556.7,2243.4,560.9C2245.1,564.4,2246.9,568.3,2248.7,570.2C2250.0,571.6,2251.3,572.3,2252.6,572.3C2254.4,572.3,2256.1,570.4,2257.9,568.9C2260.5,566.6,2263.2,561.8,2265.8,559.6C2268.0,557.8,2270.2,556.2,2272.4,556.2C2274.6,556.2,2276.8,559.1,2279.0,560.9C2281.2,562.8,2283.4,566.1,2285.6,567.5C2287.4,568.7,2289.1,569.4,2290.9,569.4C2292.6,569.4,2294.4,566.4,2296.1,563.6C2298.3,560.1,2300.5,553.5,2302.7,549.1C2304.9,544.7,2307.1,538.1,2309.3,537.2C2310.7,536.7,2312.0,536.4,2313.3,536.4C2315.1,536.4,2316.8,541.1,2318.6,543.8C2321.2,547.8,2323.9,553.4,2326.5,557.0C2329.1,560.6,2331.8,565.3,2334.4,565.4C2337.9,565.6,2341.4,565.5,2345.0,565.7C2346.7,565.8,2348.5,565.9,2350.2,566.2C2352.0,566.6,2353.8,572.0,2355.5,576.8C2357.7,582.7,2359.9,592.8,2362.1,600.5C2364.3,608.2,2366.5,617.8,2368.7,623.0C2370.5,627.1,2372.2,630.9,2374.0,630.9C2375.7,630.9,2377.5,629.4,2379.3,628.2C2382.8,625.9,2386.3,621.0,2389.8,617.7C2393.3,614.4,2396.9,611.4,2400.4,608.4C2403.0,606.2,2405.6,602.6,2408.3,601.8C2409.6,601.5,2410.9,601.3,2412.2,601.3C2414.0,601.3,2415.8,604.3,2417.5,607.1C2419.7,610.6,2421.9,617.2,2424.1,621.6C2426.8,627.0,2429.4,632.4,2432.0,636.1C2435.5,641.2,2439.1,642.8,2442.6,645.4C2447.0,648.6,2451.4,650.5,2455.8,652.5C2459.3,654.1,2462.8,654.7,2466.3,656.5C2469.0,657.8,2471.6,658.4,2474.2,661.2C2476.9,664.0,2479.5,669.1,2482.2,673.1C2484.8,677.0,2487.4,682.6,2490.1,685.0C2491.8,686.5,2493.6,687.6,2495.4,687.6C2497.1,687.6,2498.9,685.4,2500.6,683.6C2503.3,681.0,2505.9,675.9,2508.5,673.1C2511.2,670.2,2513.8,668.3,2516.5,666.5C2520.0,664.1,2523.5,662.5,2527.0,661.2C2530.5,659.9,2534.1,659.1,2537.6,658.6C2541.1,658.0,2544.6,657.8,2548.1,657.8C2550.4,657.8,2552.7,657.8,2555.0,657.8" stroke="#7fc534" stroke-width="2.0"/>
<path d="M83.0,646.9C86.1,647.6,89.2,648.3,92.2,648.3C94.9,648.3,97.6,648.3,100.3,648.3C102.4,648.3,104.4,646.1,106.4,642.3C108.4,638.4,110.5,631.3,112.5,625.1C114.5,618.8,116.5,609.6,118.5,604.8C120.2,600.9,121.9,598.1,123.6,597.2C125.3,596.2,127.0,595.7,128.7,595.7C131.4,595.7,134.1,596.2,136.7,596.7C139.8,597.4,142.8,598.3,145.8,599.4C148.9,600.5,151.9,602.2,155.0,603.4C158.0,604.7,161.0,606.9,164.1,606.9C167.1,606.9,170.1,606.1,173.2,605.8C175.5,605.6,177.9,605.2,180.2,605.2C181.9,605.2,183.6,606.5,185.3,608.9C187.0,611.3,188.7,618.3,190.3,625.1C192.0,631.8,193.7,642.3,195.4,649.3C197.1,656.4,198.8,663.2,200.5,667.5C202.1,671.9,203.8,674.7,205.5,675.2C207.5,675.9,209.6,676.2,211.6,676.2C215.6,676.2,219.7,674.6,223.7,674.6C227.8,674.6,231.8,675.6,235.9,675.6C238.6,675.6,241.3,675.3,243.9,674.6C246.6,673.9,249.3,670.8,252.0,668.6C254.7,666.3,257.4,662.8,260.1,661.1C262.5,659.5,264.8,658.0,267.2,658.0C269.6,658.0,271.9,658.5,274.3,658.8C277.0,659.2,279.7,660.1,282.4,660.1C284.4,660.1,286.4,658.8,288.4,656.4C290.5,654.0,292.5,649.0,294.5,645.3C296.9,640.9,299.2,635.2,301.6,632.1C303.6,629.5,305.6,628.2,307.7,627.1C310.0,625.7,312.4,625.1,314.7,625.1C317.4,625.1,320.1,625.5,322.8,626.5C324.5,627.1,326.2,627.7,327.9,630.1C329.6,632.5,331.3,637.2,332.9,641.2C335.0,646.1,337.0,653.1,339.0,657.4C341.0,661.7,343.1,665.7,345.1,667.1C347.4,668.8,349.8,669.6,352.2,669.6C356.5,669.6,360.9,667.9,365.3,667.9C369.4,667.9,373.4,668.6,377.4,668.6C380.1,668.6,382.8,668.4,385.5,668.1C388.2,667.9,390.9,666.2,393.6,665.1C397.0,663.7,400.4,661.1,403.7,660.5C407.1,659.8,410.5,659.4,413.9,659.4C417.9,659.4,421.9,660.5,426.0,660.5C428.7,660.5,431.4,659.5,434.1,658.8C437.4,658.0,440.8,656.7,444.2,655.8C447.6,655.0,450.9,654.3,454.3,653.8C457.3,653.4,460.4,653.0,463.4,653.0C465.4,653.0,467.5,654.5,469.5,656.4C471.8,658.7,474.2,663.3,476.6,666.5C479.3,670.3,481.9,674.9,484.6,677.2C487.0,679.3,489.4,680.7,491.7,680.7C494.8,680.7,497.8,680.7,500.8,680.7C504.9,680.7,508.9,679.8,513.0,679.3C516.3,678.9,519.7,678.1,523.1,678.1C525.1,678.1,527.1,678.9,529.1,680.7C531.2,682.4,533.2,688.9,535.2,693.8C537.2,698.7,539.3,705.8,541.3,710.0C543.3,714.2,545.3,717.8,547.3,719.1C550.0,720.9,552.7,721.7,555.4,721.7C558.8,721.7,562.2,721.2,565.6,720.1C568.9,719.1,572.3,717.3,575.7,715.1C577.5,713.9,579.3,712.2,581.1,710.9C583.3,709.4,585.5,707.6,587.7,706.7C589.9,705.8,592.1,705.4,594.3,705.4C597.4,705.4,600.5,705.7,603.6,706.0C607.5,706.5,611.5,707.6,615.4,708.3C619.8,709.1,624.2,710.3,628.6,710.5C633.0,710.8,637.4,710.9,641.8,710.9C645.4,710.9,648.9,710.6,652.4,710.3C655.0,710.0,657.7,709.5,660.3,709.2C662.1,709.0,663.8,708.7,665.6,708.7C666.9,708.7,668.2,709.2,669.6,710.3C670.9,711.3,672.2,713.2,673.5,716.2C674.8,719.2,676.2,723.5,677.5,728.1C678.8,732.7,680.1,739.3,681.4,743.9C682.8,748.5,684.1,752.7,685.4,755.8C686.7,758.9,688.0,760.9,689.4,762.4C690.7,763.9,692.0,764.8,693.3,765.0C695.1,765.3,696.8,765.4,698.6,765.4C702.1,765.4,705.6,764.4,709.2,764.0C714.4,763.3,719.7,762.9,725.0,762.4C729.4,762.0,733.8,761.4,738.2,761.1C740.8,760.9,743.5,760.7,746.1,760.7C747.9,760.7,749.6,761.1,751.4,762.0C753.6,763.1,755.8,765.4,758.0,767.7C760.2,769.9,762.4,773.4,764.6,775.6C766.8,777.8,769.0,779.9,771.2,781.1C773.0,782.1,774.7,782.9,776.5,782.9C780.0,782.9,783.5,781.9,787.0,781.9C790.6,781.9,794.1,781.9,797.6,781.9C802.0,781.9,806.4,782.2,810.8,782.2C815.2,782.2,819.6,780.6,824.0,780.0C828.4,779.3,832.8,778.2,837.2,778.2C840.7,778.2,844.2,778.2,847.8,778.2C850.0,778.2,852.2,778.8,854.4,779.6C857.0,780.5,859.6,782.5,862.3,783.8C864.9,785.1,867.6,786.5,870.2,787.2C873.3,788.1,876.3,788.5,879.4,788.5C882.9,788.5,886.5,788.3,890.0,787.9C891.7,787.7,893.4,787.2,895.2,786.9C901.3,785.7,907.4,783.5,913.5,783.5C919.6,783.5,925.7,783.5,931.7,783.5C937.1,783.5,942.4,782.3,947.8,782.3C950.0,782.3,952.3,783.1,954.6,784.6C957.7,786.6,960.7,791.6,963.8,794.9C966.8,798.1,969.9,803.0,972.9,804.0C976.0,805.1,979.0,805.6,982.1,805.6C987.4,805.6,992.7,804.7,998.1,804.7C1004.2,804.7,1010.3,804.7,1016.4,804.7C1020.9,804.7,1025.5,806.3,1030.1,806.3C1032.4,806.3,1034.7,805.6,1037.0,804.0C1040.0,802.0,1043.1,794.9,1046.1,790.3C1049.1,785.7,1052.2,778.2,1055.2,776.6C1057.5,775.4,1059.8,774.8,1062.1,774.8C1066.7,774.8,1071.3,775.6,1075.8,775.9C1081.9,776.3,1088.0,776.6,1094.1,776.6C1098.8,776.6,1103.4,774.5,1108.1,773.7C1111.1,773.2,1114.1,772.3,1117.2,772.3C1120.2,772.3,1123.2,772.9,1126.2,773.3C1128.6,773.6,1131.0,774.3,1133.3,774.3C1134.7,774.3,1136.0,773.0,1137.3,770.3C1139.0,766.9,1140.7,758.7,1142.4,751.1C1144.1,743.5,1145.8,732.3,1147.4,724.9C1149.1,717.5,1150.8,711.2,1152.5,706.7C1154.2,702.2,1155.8,698.6,1157.5,697.6C1159.9,696.3,1162.2,695.6,1164.6,695.6C1167.3,695.6,1170.0,695.9,1172.7,696.6C1175.0,697.2,1177.4,698.5,1179.7,700.6C1182.1,702.8,1184.4,707.0,1186.8,709.7C1189.2,712.4,1191.5,715.1,1193.9,716.8C1196.2,718.5,1198.6,719.8,1200.9,719.8C1205.0,719.8,1209.0,718.8,1213.0,718.8C1217.1,718.8,1221.1,719.2,1225.2,719.4C1228.5,719.6,1231.9,719.8,1235.2,719.8C1237.6,719.8,1240.0,718.3,1242.3,716.8C1245.0,715.1,1247.7,711.6,1250.4,709.7C1253.1,707.9,1255.8,706.1,1258.5,705.7C1261.5,705.3,1264.5,705.1,1267.5,705.1C1272.3,705.1,1277.0,705.8,1281.7,706.3C1287.1,706.9,1292.4,708.3,1297.8,708.7C1302.5,709.1,1307.2,709.3,1311.9,709.3C1315.3,709.3,1318.7,708.9,1322.0,708.3C1325.4,707.7,1328.8,706.4,1332.1,705.7C1335.5,705.0,1338.9,704.3,1342.2,704.3C1349.0,704.3,1355.7,704.7,1362.4,704.7C1369.1,704.7,1375.9,704.7,1382.6,704.7C1388.0,704.7,1393.4,704.6,1398.7,704.3C1402.1,704.1,1405.5,703.5,1408.8,703.3C1411.2,703.1,1413.6,703.1,1415.9,703.1C1417.9,703.1,1419.9,704.2,1422.0,705.7C1424.3,707.5,1426.7,711.2,1429.0,713.8C1431.7,716.7,1434.4,719.8,1437.1,721.8C1439.8,723.9,1442.5,725.6,1445.2,725.9C1447.9,726.2,1450.6,726.3,1453.2,726.3C1455.9,726.3,1458.6,725.5,1461.3,723.9C1463.3,722.7,1465.4,720.3,1467.4,717.8C1469.4,715.3,1471.4,711.6,1473.4,708.7C1475.5,705.9,1477.5,702.5,1479.5,700.6C1481.5,698.8,1483.5,697.6,1485.5,697.6C1488.2,697.6,1490.9,698.0,1493.6,698.2C1497.0,698.5,1500.3,698.9,1503.7,699.2C1507.1,699.5,1510.4,700.0,1513.8,700.0C1516.2,700.0,1518.5,699.9,1520.9,699.6C1523.2,699.4,1525.6,697.3,1527.9,695.6C1530.6,693.7,1533.3,690.5,1536.0,688.5C1538.4,686.9,1540.7,684.5,1543.1,684.5C1545.4,684.5,1547.8,684.7,1550.1,684.9C1552.8,685.2,1555.5,686.1,1558.2,686.1C1559.6,686.1,1560.9,685.2,1562.3,683.5C1563.9,681.3,1565.6,675.2,1567.3,670.4C1569.0,665.5,1570.7,659.4,1572.3,654.2C1574.3,648.2,1576.3,641.4,1578.3,637.0C1579.8,633.5,1581.3,629.2,1582.9,629.0C1585.2,628.7,1587.4,628.5,1589.7,628.5C1593.2,628.5,1596.6,630.6,1600.0,630.6C1601.9,630.6,1603.8,626.8,1605.7,621.0C1607.6,615.2,1609.5,604.2,1611.5,595.8C1613.4,587.4,1615.3,576.8,1617.2,570.7C1619.1,564.5,1621.0,559.7,1622.9,558.8C1624.8,557.8,1626.7,557.4,1628.6,557.4C1632.4,557.4,1636.2,558.3,1640.0,558.8C1643.8,559.2,1647.7,559.6,1651.5,559.9C1654.1,560.1,1656.8,560.4,1659.5,560.4C1661.8,560.4,1664.0,557.3,1666.3,554.6C1669.0,551.5,1671.7,545.7,1674.3,542.1C1677.0,538.4,1679.7,534.9,1682.3,532.9C1685.0,530.9,1687.7,529.9,1690.3,529.9C1693.0,529.9,1695.7,529.9,1698.3,529.9C1700.3,529.9,1702.2,530.9,1704.1,532.9C1706.0,534.9,1707.9,542.2,1709.8,547.8C1712.1,554.5,1714.4,564.6,1716.6,570.7C1718.9,576.8,1721.2,581.3,1723.5,584.4C1725.8,587.4,1728.1,588.9,1730.4,588.9C1733.0,588.9,1735.7,588.9,1738.4,588.9C1740.3,588.9,1742.2,587.8,1744.1,585.5C1745.6,583.7,1747.1,575.8,1748.7,566.1C1750.2,556.4,1751.7,540.5,1753.2,527.2C1754.8,513.9,1756.3,496.9,1757.8,486.0C1759.3,475.2,1760.9,465.4,1762.4,462.0C1763.9,458.7,1765.4,457.0,1767.0,457.0C1769.6,457.0,1772.3,457.6,1775.0,457.9C1778.0,458.3,1781.1,459.3,1784.1,459.3C1790.2,459.3,1796.3,459.3,1802.4,459.3C1809.3,459.3,1816.1,459.7,1823.0,460.4C1826.8,460.9,1830.6,461.6,1834.4,462.0C1837.1,462.3,1839.7,462.7,1842.4,462.7C1844.3,462.7,1846.2,460.8,1848.1,457.5C1850.0,454.1,1851.9,448.3,1853.8,442.6C1855.8,436.9,1857.7,428.4,1859.6,423.2C1861.5,417.9,1863.4,413.2,1865.3,411.0C1867.6,408.4,1869.9,407.2,1872.1,407.2C1874.4,407.2,1876.7,407.2,1879.0,407.2C1881.3,407.2,1883.6,408.1,1885.9,410.1C1887.8,411.8,1889.7,416.6,1891.6,422.0C1893.5,427.4,1895.4,436.5,1897.3,442.6C1899.2,448.7,1901.1,454.8,1903.0,458.6C1904.9,462.4,1906.8,465.5,1908.7,465.5C1911.4,465.5,1914.1,465.5,1916.7,465.5C1921.3,465.5,1925.9,463.9,1930.5,463.9C1935.0,463.9,1939.6,463.9,1944.2,463.9C1947.2,463.9,1950.3,466.1,1953.3,467.3C1957.1,468.8,1960.9,471.0,1964.8,472.3C1968.6,473.7,1972.4,475.3,1976.2,475.3C1978.9,475.3,1981.5,475.2,1984.2,475.1C1986.1,475.0,1988.0,472.8,1989.9,468.9C1991.8,465.0,1993.7,458.0,1995.6,451.7C1997.5,445.5,1999.4,436.4,2001.3,431.2C2003.3,425.9,2005.2,421.1,2007.1,420.2C2009.3,419.1,2011.6,418.6,2013.9,418.6C2018.1,418.6,2022.3,419.8,2026.5,420.9C2031.1,422.0,2035.6,424.3,2040.2,425.4C2044.0,426.4,2047.8,427.7,2051.7,427.7C2056.2,427.7,2060.8,427.5,2065.4,427.3C2067.1,427.2,2068.8,427.1,2070.6,426.9C2073.6,426.6,2076.7,425.6,2079.8,425.6C2082.0,425.6,2084.2,425.6,2086.4,425.6C2088.1,425.6,2089.9,428.5,2091.7,434.3C2093.4,440.1,2095.2,451.5,2096.9,460.7C2098.7,469.9,2100.5,481.8,2102.2,489.7C2104.0,497.6,2105.7,504.7,2107.5,508.2C2109.3,511.7,2111.0,513.1,2112.8,513.5C2115.4,514.0,2118.0,514.2,2120.7,514.2C2123.3,514.2,2126.0,513.5,2128.6,512.1C2130.4,511.2,2132.1,507.5,2133.9,501.6C2135.6,495.6,2137.4,485.1,2139.2,476.5C2140.9,467.9,2142.7,456.4,2144.4,450.1C2146.6,442.3,2148.8,439.4,2151.0,438.3C2153.7,436.9,2156.3,436.1,2158.9,436.1C2161.6,436.1,2164.2,436.7,2166.9,437.7C2168.6,438.4,2170.4,441.5,2172.1,447.5C2173.9,453.5,2175.7,462.1,2177.4,473.9C2178.7,482.7,2180.1,496.3,2181.4,505.5C2182.7,514.8,2184.0,523.4,2185.3,529.3C2187.1,537.2,2188.8,541.8,2190.6,542.5C2192.8,543.4,2195.0,543.8,2197.2,543.8C2201.6,543.8,2206.0,542.5,2210.4,542.5C2214.8,542.5,2219.2,543.3,2223.6,543.3C2227.1,543.3,2230.6,542.6,2234.1,541.2C2236.8,540.1,2239.4,535.9,2242.1,533.2C2244.7,530.6,2247.3,526.8,2250.0,525.3C2252.2,524.1,2254.4,523.5,2256.6,523.5C2260.5,523.5,2264.5,524.5,2268.4,524.5C2271.1,524.5,2273.7,522.8,2276.4,521.4C2279.9,519.5,2283.4,515.6,2286.9,514.0C2290.4,512.4,2293.9,511.6,2297.5,511.6C2301.9,511.6,2306.3,512.1,2310.7,512.7C2315.1,513.2,2319.5,514.2,2323.9,514.8C2328.2,515.3,2332.6,516.1,2337.0,516.1C2341.4,516.1,2345.8,516.1,2350.2,516.1C2353.8,516.1,2357.3,514.5,2360.8,514.2C2363.4,514.1,2366.1,514.0,2368.7,514.0C2370.5,514.0,2372.2,516.0,2374.0,520.1C2375.7,524.1,2377.5,533.5,2379.3,542.5C2381.0,551.5,2382.8,564.9,2384.5,574.1C2386.3,583.4,2388.1,592.5,2389.8,597.9C2391.6,603.3,2393.3,606.3,2395.1,606.3C2397.7,606.3,2400.4,606.3,2403.0,606.3C2406.5,606.3,2410.0,605.3,2413.6,605.3C2417.1,605.3,2420.6,608.8,2424.1,611.1C2426.8,612.8,2429.4,616.0,2432.0,616.9C2434.7,617.8,2437.3,618.2,2439.9,618.2C2442.6,618.2,2445.2,616.9,2447.9,616.9C2449.6,616.9,2451.4,617.0,2453.1,617.2C2454.9,617.3,2456.7,622.2,2458.4,626.9C2460.2,631.6,2461.9,639.6,2463.7,645.4C2465.9,652.6,2468.1,660.3,2470.3,665.2C2472.5,670.0,2474.7,674.4,2476.9,674.4C2480.4,674.4,2483.9,674.4,2487.4,674.4C2491.0,674.4,2494.5,673.6,2498.0,673.6C2501.5,673.6,2505.0,674.9,2508.5,674.9C2511.2,674.9,2513.8,674.3,2516.5,673.1C2519.1,671.9,2521.7,666.3,2524.4,662.5C2527.0,658.8,2529.7,653.5,2532.3,650.7C2534.5,648.3,2536.7,646.2,2538.9,645.9C2542.0,645.6,2545.0,645.6,2548.1,645.4C2550.4,645.2,2552.7,645.0,2555.0,644.9" stroke="#e5ad33" stroke-width="2.0"/>
<path d="M83.0,874.5C93.9,874.5,104.8,874.5,115.7,874.5C127.2,874.5,138.6,874.9,150.0,874.9C153.9,874.9,157.7,874.8,161.5,874.5C165.3,874.2,169.1,872.8,172.9,872.2C176.7,871.6,180.5,870.8,184.4,870.8C192.0,870.8,199.6,870.8,207.2,870.8C222.5,870.8,237.7,870.6,253.0,870.4C268.2,870.2,283.5,870.1,298.7,869.7C306.3,869.4,313.9,868.1,321.6,867.6C329.2,867.2,336.8,867.1,344.4,866.9C359.7,866.5,374.9,866.5,390.2,866.2C397.8,866.1,405.4,866.0,413.1,865.8C424.5,865.5,435.9,864.9,447.4,864.6C454.9,864.5,462.5,864.4,470.0,864.2C476.1,864.0,482.2,864.0,488.3,863.5C494.4,863.0,500.5,861.5,506.6,861.2C517.3,860.8,527.9,860.9,538.6,860.5C546.2,860.3,553.9,860.0,561.5,859.6C569.1,859.2,576.7,858.7,584.4,858.2C592.0,857.8,599.6,857.1,607.2,857.1C614.8,857.1,622.5,857.6,630.1,857.8C637.7,858.0,645.3,858.1,653.0,858.2C660.6,858.4,668.2,858.5,675.8,858.5C683.5,858.5,691.1,858.5,698.7,858.5C706.3,858.5,713.9,858.1,721.6,857.8C729.2,857.5,736.8,856.9,744.4,856.6C752.1,856.3,759.7,856.2,767.3,856.0C774.9,855.7,782.6,855.0,790.2,855.0C797.8,855.0,805.4,855.0,813.1,855.0C820.7,855.0,828.3,854.5,835.9,853.9C842.0,853.4,848.1,852.1,854.2,852.1C859.5,852.1,864.7,852.1,870.0,852.1C877.6,852.1,885.2,852.8,892.9,853.2C900.5,853.6,908.1,854.0,915.7,854.4C923.4,854.7,931.0,855.3,938.6,855.5C950.0,855.8,961.5,855.6,972.9,856.0C980.5,856.2,988.2,857.0,995.8,857.1C1007.2,857.2,1018.7,857.3,1030.1,857.3C1037.7,857.3,1045.3,857.3,1053.0,857.3C1060.6,857.3,1068.2,854.4,1075.8,854.4C1083.5,854.4,1091.1,854.4,1098.7,854.4C1106.3,854.4,1113.9,854.8,1121.6,855.0C1129.2,855.2,1136.8,855.2,1144.4,855.5C1152.1,855.8,1159.7,856.3,1167.3,856.6C1174.9,856.9,1182.6,857.1,1190.2,857.3C1197.8,857.5,1205.4,857.6,1213.1,857.8C1220.7,857.9,1228.3,858.2,1235.9,858.2C1243.5,858.2,1251.2,857.7,1258.8,857.3C1262.5,857.1,1266.3,856.6,1270.0,856.6C1277.6,856.6,1285.2,856.6,1292.9,856.6C1300.5,856.6,1308.1,855.4,1315.7,855.0C1323.4,854.7,1331.0,854.4,1338.6,854.4C1353.9,854.4,1369.1,854.4,1384.4,854.4C1395.0,854.4,1405.7,854.0,1416.4,853.7C1424.0,853.4,1431.6,852.8,1439.2,852.8C1447.6,852.8,1456.0,852.8,1464.4,852.8C1468.2,852.8,1472.0,853.4,1475.8,853.7C1483.5,854.1,1491.1,854.4,1498.7,854.4C1506.3,854.4,1513.9,854.4,1521.6,854.4C1529.2,854.4,1536.8,853.7,1544.4,853.7C1552.1,853.7,1559.7,853.7,1567.3,853.7C1574.9,853.7,1582.6,854.6,1590.2,855.0C1596.3,855.4,1602.4,856.0,1608.5,856.0C1613.1,856.0,1617.6,855.6,1622.2,855.0C1626.8,854.4,1631.3,851.9,1635.9,850.9C1640.5,849.9,1645.1,849.1,1649.6,849.1C1652.7,849.1,1655.7,849.2,1658.8,849.3C1662.5,849.4,1666.3,849.8,1670.0,849.8C1678.0,849.8,1685.9,848.7,1693.9,848.3C1701.9,847.9,1709.9,848.0,1717.8,847.4C1725.8,846.8,1733.8,844.9,1741.7,844.5C1749.7,844.1,1757.7,844.3,1765.7,843.9C1771.6,843.6,1777.6,841.3,1783.6,840.9C1789.6,840.5,1795.6,840.3,1801.5,840.3C1809.5,840.3,1817.5,840.9,1825.5,840.9C1831.4,840.9,1837.4,836.7,1843.4,836.4C1851.4,836.0,1859.3,836.2,1867.3,835.8C1873.3,835.5,1879.3,833.8,1885.2,833.4C1893.2,832.8,1901.2,833.1,1909.2,832.5C1914.1,832.1,1919.1,829.9,1924.1,829.8C1931.1,829.6,1938.1,829.6,1945.0,829.5C1953.0,829.4,1961.0,829.3,1969.0,828.9C1972.9,828.7,1976.9,826.7,1980.9,825.9C1984.9,825.2,1988.9,824.4,1992.9,824.4C1996.9,824.4,2000.8,824.4,2004.8,824.4C2008.8,824.4,2012.8,822.3,2016.8,821.4C2020.8,820.6,2024.8,819.3,2028.7,819.3C2033.7,819.3,2038.7,819.3,2043.7,819.3C2048.7,819.3,2053.7,817.5,2058.6,817.0C2062.4,816.5,2066.2,816.3,2070.0,816.1C2076.0,815.7,2082.0,815.5,2087.9,815.5C2093.9,815.5,2099.9,816.5,2105.9,817.0C2111.9,817.4,2117.8,818.0,2123.8,818.4C2129.8,818.8,2135.8,819.3,2141.7,819.3C2147.7,819.3,2153.7,817.2,2159.7,817.0C2169.7,816.6,2179.6,816.4,2189.6,816.4C2199.5,816.4,2209.5,816.4,2219.5,816.4C2229.4,816.4,2239.4,816.4,2249.4,816.4C2255.4,816.4,2261.3,813.5,2267.3,813.1C2273.3,812.7,2279.3,812.5,2285.2,812.5C2291.2,812.5,2297.2,813.1,2303.2,813.4C2311.2,813.8,2319.1,814.6,2327.1,814.6C2335.1,814.6,2343.0,811.6,2351.0,811.6C2357.0,811.6,2363.0,811.6,2369.0,811.6C2376.9,811.6,2384.9,811.9,2392.9,811.9C2398.8,811.9,2404.8,810.1,2410.8,809.5C2414.8,809.1,2418.8,808.6,2422.8,808.6C2430.8,808.6,2438.8,811.6,2446.8,812.2C2453.5,812.6,2460.2,812.8,2466.9,812.8C2475.8,812.8,2484.7,811.2,2493.6,811.2C2502.5,811.2,2511.5,811.2,2520.4,811.2C2531.8,811.2,2543.3,811.2,2554.8,811.2" stroke="#635fe9" stroke-width="2.0"/>
<path d="M83.0,865.1C86.3,865.7,89.6,866.2,92.9,866.2C95.9,866.2,99.0,865.9,102.0,865.3C104.3,864.9,106.6,862.7,108.9,861.2C111.9,859.3,115.0,856.5,118.0,855.0C120.7,853.8,123.4,852.8,126.0,852.8C129.5,852.8,132.9,852.8,136.3,852.8C140.9,852.8,145.5,853.9,150.0,854.4C155.4,854.9,160.7,855.5,166.1,855.5C169.1,855.5,172.2,855.0,175.2,855.0C177.5,855.0,179.8,855.0,182.1,855.0C184.4,855.0,186.6,857.7,188.9,859.6C192.0,862.1,195.0,867.0,198.1,869.2C201.1,871.4,204.2,872.6,207.2,872.6C213.3,872.6,219.4,872.0,225.5,872.0C231.6,872.0,237.7,872.2,243.8,872.2C248.4,872.2,253.0,870.0,257.5,869.2C260.6,868.7,263.6,868.1,266.7,868.1C272.0,868.1,277.4,868.8,282.7,868.8C286.5,868.8,290.3,866.5,294.1,865.3C297.9,864.2,301.8,862.8,305.6,861.9C309.4,861.0,313.2,860.1,317.0,860.1C319.3,860.1,321.6,860.3,323.9,860.8C326.9,861.4,330.0,863.2,333.0,864.6C336.1,866.1,339.1,868.6,342.2,869.2C346.0,870.0,349.8,870.4,353.6,870.4C358.2,870.4,362.7,870.4,367.3,870.4C373.4,870.4,379.5,871.0,385.6,871.0C391.7,871.0,397.8,868.9,403.9,868.8C410.8,868.6,417.6,868.7,424.5,868.5C431.3,868.4,438.2,867.9,445.1,867.6C449.6,867.4,454.2,866.9,458.8,866.9C462.5,866.9,466.3,867.2,470.0,867.6C473.0,868.0,476.1,870.1,479.1,871.0C482.2,872.0,485.2,873.1,488.3,873.1C494.4,873.1,500.5,872.8,506.6,872.6C511.9,872.5,517.3,872.2,522.6,872.2C524.9,872.2,527.2,872.6,529.5,873.3C532.5,874.3,535.6,877.2,538.6,878.8C541.7,880.4,544.7,882.0,547.8,882.9C550.8,883.9,553.9,884.5,556.9,884.5C561.5,884.5,566.1,883.6,570.6,882.9C575.2,882.3,579.8,881.2,584.4,880.7C588.9,880.1,593.5,879.5,598.1,879.5C604.2,879.5,610.3,879.9,616.4,880.2C622.5,880.5,628.6,881.1,634.7,881.1C640.8,881.1,646.9,881.1,653.0,881.1C656.8,881.1,660.6,880.2,664.4,880.2C666.7,880.2,669.0,880.7,671.3,881.8C674.3,883.2,677.4,887.5,680.4,889.8C683.5,892.1,686.5,894.8,689.6,895.5C692.6,896.3,695.7,896.7,698.7,896.7C706.3,896.7,713.9,895.8,721.6,895.5C729.2,895.3,736.8,895.1,744.4,895.1C747.5,895.1,750.5,895.6,753.6,896.2C757.4,896.9,761.2,898.6,765.0,899.4C768.1,900.0,771.1,900.8,774.2,900.8C779.5,900.8,784.8,900.8,790.2,900.8C797.8,900.8,805.4,900.4,813.1,900.1C820.7,899.8,828.3,898.9,835.9,898.9C842.0,898.9,848.1,899.2,854.2,899.6C859.5,900.0,864.7,902.4,870.0,902.4C877.6,902.4,885.2,902.4,892.9,902.4C900.5,902.4,908.1,901.5,915.7,901.2C926.4,900.9,937.1,900.8,947.8,900.8C950.8,900.8,953.9,901.6,956.9,902.4C960.7,903.4,964.5,905.7,968.3,906.5C972.2,907.3,976.0,907.6,979.8,907.6C985.9,907.6,992.0,907.4,998.1,907.4C1004.2,907.4,1010.3,907.6,1016.4,907.6C1021.7,907.6,1027.0,907.6,1032.4,907.6C1034.7,907.6,1037.0,906.7,1039.2,905.8C1042.3,904.6,1045.3,902.1,1048.4,900.8C1051.4,899.4,1054.5,897.8,1057.5,897.8C1063.6,897.8,1069.7,898.3,1075.8,898.5C1081.9,898.7,1088.0,898.9,1094.1,898.9C1100.2,898.9,1106.3,897.8,1112.4,897.8C1117.0,897.8,1121.6,897.8,1126.1,897.8C1129.2,897.8,1132.2,897.7,1135.3,897.3C1137.6,897.1,1139.9,895.2,1142.2,892.8C1144.4,890.4,1146.7,885.4,1149.0,882.9C1151.3,880.5,1153.6,878.5,1155.9,877.9C1158.9,877.1,1162.0,876.8,1165.0,876.8C1168.8,876.8,1172.6,877.6,1176.5,878.4C1181.0,879.2,1185.6,880.9,1190.2,881.8C1194.8,882.7,1199.3,883.6,1203.9,883.6C1208.5,883.6,1213.1,883.6,1217.6,883.6C1223.7,883.6,1229.8,883.4,1235.9,882.9C1240.5,882.6,1245.1,881.2,1249.6,880.7C1253.5,880.2,1257.3,879.5,1261.1,879.5C1264.1,879.5,1267.0,879.5,1270.0,879.5C1277.6,879.5,1285.2,880.2,1292.9,880.2C1300.5,880.2,1308.1,880.2,1315.7,880.2C1323.4,880.2,1331.0,879.7,1338.6,879.5C1346.2,879.3,1353.9,879.1,1361.5,879.1C1369.1,879.1,1376.7,879.1,1384.4,879.1C1393.5,879.1,1402.6,878.8,1411.8,878.8C1416.4,878.8,1420.9,879.8,1425.5,880.7C1430.1,881.5,1434.7,883.3,1439.2,884.1C1443.1,884.7,1446.9,885.2,1450.7,885.2C1454.5,885.2,1458.3,884.8,1462.1,884.1C1465.2,883.5,1468.2,881.6,1471.3,880.7C1475.1,879.5,1478.9,877.9,1482.7,877.9C1488.0,877.9,1493.4,877.9,1498.7,877.9C1505.6,877.9,1512.4,878.4,1519.3,878.4C1523.1,878.4,1526.9,877.1,1530.7,876.5C1534.5,876.0,1538.3,874.9,1542.2,874.9C1546.0,874.9,1549.8,875.6,1553.6,875.6C1556.6,875.6,1559.7,875.2,1562.7,874.5C1565.0,873.9,1567.3,872.2,1569.6,870.4C1571.9,868.5,1574.2,865.0,1576.5,863.5C1579.5,861.5,1582.6,860.5,1585.6,860.5C1590.2,860.5,1594.8,861.2,1599.3,861.2C1601.6,861.2,1603.9,860.3,1606.2,858.9C1608.5,857.5,1610.8,854.8,1613.1,852.8C1615.3,850.7,1617.6,848.2,1619.9,846.8C1622.2,845.4,1624.5,844.5,1626.8,844.5C1631.3,844.5,1635.9,844.5,1640.5,844.5C1645.1,844.5,1649.6,845.2,1654.2,845.2C1657.3,845.2,1660.3,845.1,1663.4,844.7C1665.6,844.5,1667.8,843.1,1670.0,842.4C1674.0,841.1,1678.0,840.1,1682.0,839.4C1685.9,838.6,1689.9,837.9,1693.9,837.9C1696.9,837.9,1699.9,838.4,1702.9,839.4C1706.9,840.6,1710.9,843.4,1714.8,845.4C1718.8,847.3,1722.8,850.0,1726.8,851.3C1730.3,852.5,1733.8,853.4,1737.3,853.4C1739.3,853.4,1741.3,852.7,1743.2,851.3C1745.2,850.0,1747.2,848.1,1749.2,845.4C1751.7,841.9,1754.2,835.0,1756.7,831.3C1759.2,827.6,1761.7,823.5,1764.2,822.9C1766.7,822.3,1769.2,822.0,1771.6,822.0C1777.6,822.0,1783.6,822.7,1789.6,822.9C1797.6,823.2,1805.5,823.2,1813.5,823.5C1818.5,823.8,1823.5,824.4,1828.4,824.4C1833.4,824.4,1838.4,824.2,1843.4,823.8C1846.4,823.6,1849.4,821.6,1852.4,819.9C1855.4,818.3,1858.3,815.3,1861.3,814.0C1864.3,812.6,1867.3,811.9,1870.3,811.9C1873.3,811.9,1876.3,811.9,1879.3,811.9C1882.3,811.9,1885.2,813.0,1888.2,814.6C1891.2,816.2,1894.2,819.7,1897.2,821.4C1900.2,823.2,1903.2,825.0,1906.2,825.0C1912.2,825.0,1918.1,824.4,1924.1,824.4C1931.1,824.4,1938.1,824.4,1945.0,824.4C1953.0,824.4,1961.0,825.4,1969.0,825.9C1972.9,826.2,1976.9,826.8,1980.9,826.8C1983.9,826.8,1986.9,826.3,1989.9,825.3C1992.9,824.3,1995.9,821.0,1998.8,819.3C2001.8,817.7,2004.8,816.1,2007.8,815.5C2010.8,814.9,2013.8,814.6,2016.8,814.6C2025.8,814.6,2034.7,816.4,2043.7,816.4C2052.5,816.4,2061.2,816.3,2070.0,816.1C2074.0,816.0,2078.0,815.5,2082.0,815.5C2084.9,815.5,2087.9,816.2,2090.9,817.5C2093.9,818.9,2096.9,822.2,2099.9,824.4C2103.9,827.5,2107.9,831.8,2111.9,833.4C2115.8,835.0,2119.8,835.8,2123.8,835.8C2126.8,835.8,2129.8,834.7,2132.8,832.8C2135.8,830.9,2138.8,826.8,2141.7,824.4C2144.7,822.0,2147.7,819.4,2150.7,818.4C2153.7,817.4,2156.7,817.0,2159.7,817.0C2162.7,817.0,2165.7,817.4,2168.7,818.4C2171.6,819.4,2174.6,825.6,2177.6,828.9C2180.6,832.2,2183.6,836.3,2186.6,838.5C2189.6,840.6,2192.6,841.8,2195.6,841.8C2201.5,841.8,2207.5,841.7,2213.5,841.5C2219.5,841.3,2225.5,841.0,2231.4,840.3C2237.4,839.6,2243.4,837.7,2249.4,837.3C2257.3,836.7,2265.3,837.0,2273.3,836.4C2279.3,835.9,2285.2,834.3,2291.2,834.3C2297.2,834.3,2303.2,834.3,2309.2,834.3C2317.1,834.3,2325.1,835.5,2333.1,835.5C2341.1,835.5,2349.0,835.2,2357.0,834.9C2361.0,834.7,2365.0,834.3,2369.0,834.3C2371.9,834.3,2374.9,835.5,2377.9,837.9C2380.9,840.3,2383.9,846.2,2386.9,849.2C2389.9,852.2,2392.9,855.1,2395.9,855.8C2399.8,856.8,2403.8,857.3,2407.8,857.3C2412.8,857.3,2417.8,856.7,2422.8,856.7C2431.9,856.7,2441.0,857.1,2450.2,858.0C2453.5,858.3,2456.9,861.3,2460.2,863.3C2463.6,865.3,2466.9,868.5,2470.2,870.0C2473.0,871.3,2475.8,872.3,2478.6,872.3C2483.6,872.3,2488.6,871.7,2493.6,871.7C2500.3,871.7,2507.0,871.7,2513.7,871.7C2518.1,871.7,2522.6,869.1,2527.1,868.0C2531.5,866.9,2536.0,865.2,2540.4,865.0C2545.2,864.8,2550.0,864.7,2554.8,864.7" stroke="#ee9a2d" stroke-width="2.0"/>
<path d="M83.0,835.6C86.3,836.6,89.6,837.7,92.9,838.3C95.9,838.9,99.0,839.5,102.0,839.5C104.3,839.5,106.6,835.8,108.9,833.8C111.5,831.3,114.2,827.7,116.9,825.8C118.9,824.3,121.0,822.8,123.1,822.8C125.6,822.8,128.1,826.2,130.6,828.1C132.9,829.7,135.2,832.1,137.5,833.3C139.8,834.5,142.0,835.4,144.3,835.4C147.0,835.4,149.7,834.2,152.3,833.3C155.4,832.3,158.4,830.4,161.5,829.2C165.3,827.7,169.1,826.6,172.9,825.8C175.6,825.2,178.3,824.6,180.9,824.6C183.2,824.6,185.5,825.6,187.8,826.9C191.2,828.8,194.6,833.2,198.1,836.1C202.6,839.8,207.2,843.8,211.8,846.3C216.4,848.9,220.9,851.4,225.5,851.4C228.6,851.4,231.6,848.7,234.7,847.5C237.7,846.3,240.8,844.1,243.8,844.1C246.9,844.1,249.9,846.0,253.0,847.0C256.8,848.4,260.6,851.4,264.4,851.4C268.2,851.4,272.0,851.2,275.8,850.9C280.4,850.6,285.0,850.0,289.6,849.3C294.9,848.5,300.2,848.3,305.6,846.3C309.4,844.9,313.2,841.9,317.0,840.6C319.5,839.8,322.0,838.8,324.5,838.8C327.0,838.8,329.4,840.7,331.9,842.2C334.5,843.9,337.2,847.0,339.9,848.6C342.2,850.0,344.4,851.4,346.7,851.6C350.5,851.9,354.4,851.8,358.2,852.1C361.2,852.2,364.3,852.4,367.3,852.8C370.4,853.1,373.4,853.9,376.5,854.4C379.5,854.8,382.6,855.5,385.6,855.5C387.9,855.5,390.2,854.0,392.5,852.8C395.1,851.3,397.8,848.2,400.5,846.8C402.8,845.6,405.0,844.5,407.3,844.5C410.0,844.5,412.7,846.6,415.3,847.9C418.0,849.3,420.7,851.6,423.3,852.5C425.3,853.2,427.2,853.7,429.1,853.7C432.1,853.7,435.2,852.5,438.2,852.1C440.9,851.6,443.5,850.9,446.2,850.9C449.6,850.9,453.1,851.9,456.5,852.5C461.0,853.3,465.5,854.3,470.0,855.5C473.0,856.3,476.1,857.6,479.1,858.2C482.2,858.9,485.2,859.6,488.3,859.6C491.3,859.6,494.4,859.2,497.4,858.9C500.1,858.7,502.8,858.2,505.4,858.2C507.4,858.2,509.3,859.5,511.2,860.5C515.0,862.6,518.8,867.8,522.6,870.4C527.2,873.5,531.7,875.1,536.3,876.8C540.1,878.2,543.9,880.0,547.8,880.0C552.3,880.0,556.9,879.4,561.5,879.1C566.1,878.7,570.6,877.9,575.2,877.9C579.8,877.9,584.4,877.9,588.9,877.9C595.0,877.9,601.1,878.4,607.2,878.4C611.8,878.4,616.4,877.8,620.9,877.2C625.5,876.6,630.1,875.6,634.7,874.9C638.5,874.4,642.3,873.3,646.1,873.3C648.4,873.3,650.7,874.1,653.0,874.9C656.8,876.3,660.6,879.3,664.4,881.8C668.2,884.3,672.0,887.5,675.8,889.8C680.4,892.5,685.0,894.6,689.6,896.2C693.4,897.5,697.2,898.6,701.0,898.9C704.8,899.3,708.6,899.4,712.4,899.4C716.2,899.4,720.0,897.8,723.9,897.8C726.1,897.8,728.4,897.8,730.7,897.8C733.8,897.8,736.8,899.7,739.9,900.8C744.4,902.3,749.0,904.3,753.6,905.8C758.2,907.3,762.7,909.0,767.3,909.7C770.4,910.2,773.4,910.4,776.5,910.4C781.0,910.4,785.6,909.2,790.2,909.2C796.3,909.2,802.4,909.2,808.5,909.2C814.6,909.2,820.7,908.9,826.8,908.1C831.3,907.5,835.9,905.7,840.5,904.7C844.3,903.8,848.1,902.4,851.9,902.4C854.2,902.4,856.5,902.4,858.8,902.4C862.5,902.4,866.3,903.8,870.0,905.1C873.0,906.2,876.1,907.9,879.1,909.2C882.2,910.6,885.2,912.2,888.3,913.1C891.3,914.1,894.4,915.0,897.4,915.0C902.8,915.0,908.1,914.6,913.5,914.3C918.8,914.0,924.1,913.1,929.5,913.1C931.7,913.1,934.0,914.7,936.3,916.1C939.4,918.0,942.4,922.1,945.5,924.1C948.1,925.9,950.8,928.0,953.5,928.0C956.1,928.0,958.8,927.6,961.5,927.1C966.1,926.2,970.6,923.9,975.2,923.0C980.5,921.9,985.9,921.4,991.2,921.4C996.5,921.4,1001.9,921.9,1007.2,922.3C1011.8,922.6,1016.4,923.4,1020.9,923.4C1024.8,923.4,1028.6,923.4,1032.4,923.4C1034.7,923.4,1037.0,921.7,1039.2,920.7C1042.3,919.3,1045.3,917.4,1048.4,916.1C1051.4,914.8,1054.5,913.3,1057.5,913.1C1062.1,912.8,1066.7,912.7,1071.3,912.7C1077.4,912.7,1083.5,913.8,1089.6,913.8C1094.9,913.8,1100.2,913.1,1105.6,912.7C1109.4,912.3,1113.2,911.5,1117.0,911.5C1120.8,911.5,1124.6,913.1,1128.4,913.1C1130.7,913.1,1133.0,913.1,1135.3,913.1C1137.6,913.1,1139.9,910.7,1142.2,908.8C1145.2,906.3,1148.3,901.9,1151.3,898.9C1155.1,895.3,1158.9,892.3,1162.7,889.8C1166.6,887.3,1170.4,885.5,1174.2,884.1C1178.0,882.6,1181.8,881.7,1185.6,881.1C1189.4,880.5,1193.2,880.2,1197.0,880.2C1200.1,880.2,1203.1,882.1,1206.2,882.9C1210.0,884.0,1213.8,885.7,1217.6,885.7C1221.4,885.7,1225.3,885.1,1229.1,884.8C1234.4,884.4,1239.7,883.8,1245.1,883.6C1249.6,883.5,1254.2,883.5,1258.8,883.4C1262.5,883.3,1266.3,882.7,1270.0,882.3C1274.6,881.7,1279.1,880.8,1283.7,880.2C1288.3,879.5,1292.9,878.4,1297.4,878.4C1301.3,878.4,1305.1,879.4,1308.9,880.2C1312.3,880.9,1315.7,882.9,1319.2,882.9C1322.6,882.9,1326.0,881.7,1329.5,881.1C1332.5,880.6,1335.6,879.5,1338.6,879.5C1341.7,879.5,1344.7,881.0,1347.8,881.8C1350.8,882.6,1353.9,884.1,1356.9,884.1C1359.2,884.1,1361.5,883.2,1363.8,881.8C1366.4,880.2,1369.1,876.0,1371.8,874.2C1374.4,872.5,1377.1,871.5,1379.8,871.5C1382.4,871.5,1385.1,872.9,1387.8,874.2C1390.4,875.6,1393.1,878.2,1395.8,879.5C1398.1,880.6,1400.4,881.8,1402.6,881.8C1407.2,881.8,1411.8,881.8,1416.4,881.8C1420.9,881.8,1425.5,881.8,1430.1,881.8C1433.1,881.8,1436.2,882.7,1439.2,884.1C1442.3,885.4,1445.3,887.8,1448.4,889.8C1450.7,891.3,1453.0,893.3,1455.2,894.4C1457.2,895.3,1459.1,896.2,1461.0,896.2C1462.9,896.2,1464.8,895.3,1466.7,894.4C1469.0,893.3,1471.3,891.0,1473.5,889.8C1476.6,888.2,1479.6,887.3,1482.7,887.1C1488.0,886.6,1493.4,886.4,1498.7,886.4C1503.3,886.4,1507.9,887.6,1512.4,888.0C1515.5,888.2,1518.5,888.7,1521.6,888.7C1524.6,888.7,1527.7,887.1,1530.7,886.4C1534.5,885.4,1538.3,883.6,1542.2,883.6C1546.0,883.6,1549.8,884.1,1553.6,884.1C1556.6,884.1,1559.7,883.7,1562.7,882.9C1565.0,882.4,1567.3,880.0,1569.6,877.9C1571.9,875.8,1574.2,872.5,1576.5,870.4C1579.1,867.9,1581.8,864.6,1584.5,864.6C1587.1,864.6,1589.8,864.6,1592.5,864.6C1595.1,864.6,1597.8,864.6,1600.5,864.6C1603.1,864.6,1605.8,862.1,1608.5,860.1C1611.5,857.7,1614.6,853.4,1617.6,850.9C1620.7,848.4,1623.7,846.8,1626.8,845.2C1631.3,842.8,1635.9,841.7,1640.5,839.9C1645.1,838.2,1649.6,835.9,1654.2,834.5C1657.3,833.5,1660.3,832.0,1663.4,831.9C1665.6,831.9,1667.8,831.9,1670.0,831.9C1674.0,831.9,1678.0,832.8,1682.0,832.8C1685.9,832.8,1689.9,831.4,1693.9,831.0C1697.4,830.7,1700.9,830.4,1704.4,830.4C1707.9,830.4,1711.4,831.5,1714.8,832.5C1718.8,833.7,1722.8,835.6,1726.8,837.3C1730.3,838.7,1733.8,841.2,1737.3,841.8C1739.8,842.2,1742.2,842.4,1744.7,842.4C1747.7,842.4,1750.7,841.5,1753.7,840.3C1756.7,839.0,1759.7,837.3,1762.7,834.9C1765.7,832.5,1768.7,829.4,1771.6,825.9C1774.6,822.4,1777.6,817.7,1780.6,814.0C1783.6,810.2,1786.6,806.2,1789.6,803.5C1792.6,800.8,1795.6,798.7,1798.6,797.5C1801.0,796.5,1803.5,796.0,1806.0,796.0C1808.5,796.0,1811.0,796.8,1813.5,797.5C1817.5,798.7,1821.5,801.2,1825.5,802.6C1831.4,804.8,1837.4,805.7,1843.4,807.4C1847.4,808.5,1851.4,810.1,1855.4,811.0C1858.1,811.6,1860.9,812.5,1863.7,812.5C1865.9,812.5,1868.1,810.4,1870.3,808.0C1872.3,805.8,1874.3,801.9,1876.3,799.0C1878.3,796.1,1880.3,792.4,1882.3,790.6C1883.8,789.3,1885.2,788.6,1886.7,788.6C1888.7,788.6,1890.7,789.4,1892.7,790.6C1895.2,792.1,1897.7,795.7,1900.2,797.5C1903.2,799.7,1906.2,800.8,1909.2,802.0C1915.1,804.4,1921.1,804.7,1927.1,805.6C1933.1,806.4,1939.1,806.7,1945.0,807.1C1951.0,807.5,1957.0,808.0,1963.0,808.0C1968.0,808.0,1972.9,808.0,1977.9,808.0C1980.9,808.0,1983.9,808.0,1986.9,808.0C1989.9,808.0,1992.9,806.5,1995.9,805.6C1999.8,804.3,2003.8,802.6,2007.8,801.1C2011.8,799.6,2015.8,797.7,2019.8,796.6C2023.8,795.5,2027.7,794.5,2031.7,794.5C2035.7,794.5,2039.7,794.7,2043.7,795.1C2047.7,795.5,2051.7,796.1,2055.7,796.9C2058.6,797.5,2061.6,798.4,2064.6,799.0C2066.4,799.4,2068.2,799.3,2070.0,799.9C2073.0,800.9,2076.0,804.3,2079.0,806.5C2082.0,808.7,2084.9,811.3,2087.9,813.1C2091.9,815.4,2095.9,816.9,2099.9,817.8C2102.9,818.6,2105.9,819.0,2108.9,819.0C2111.9,819.0,2114.8,817.4,2117.8,816.4C2121.8,814.9,2125.8,812.9,2129.8,811.0C2133.8,809.1,2137.8,807.0,2141.7,805.0C2144.7,803.5,2147.7,801.5,2150.7,800.5C2153.7,799.5,2156.7,799.0,2159.7,799.0C2163.7,799.0,2167.7,799.0,2171.6,799.0C2174.6,799.0,2177.6,797.5,2180.6,797.5C2183.1,797.5,2185.6,797.5,2188.1,797.5C2189.6,797.5,2191.1,799.7,2192.6,802.0C2194.6,805.1,2196.6,811.5,2198.6,815.5C2200.5,819.4,2202.5,823.5,2204.5,825.9C2207.0,828.9,2209.5,830.4,2212.0,830.4C2214.0,830.4,2216.0,827.9,2218.0,825.9C2220.0,823.9,2222.0,820.3,2224.0,818.4C2226.5,816.2,2228.9,814.9,2231.4,814.9C2233.9,814.9,2236.4,816.9,2238.9,818.4C2241.4,820.0,2243.9,823.1,2246.4,824.4C2248.6,825.6,2250.8,826.5,2253.0,826.5C2255.7,826.5,2258.5,824.6,2261.3,823.8C2264.8,822.8,2268.3,821.4,2271.8,821.4C2274.8,821.4,2277.8,822.8,2280.8,823.5C2283.8,824.3,2286.7,825.9,2289.7,825.9C2292.2,825.9,2294.7,824.5,2297.2,822.9C2299.7,821.3,2302.2,817.8,2304.7,816.4C2307.2,814.9,2309.7,814.0,2312.2,814.0C2314.6,814.0,2317.1,815.5,2319.6,817.0C2322.1,818.4,2324.6,821.6,2327.1,822.9C2329.1,824.0,2331.1,825.0,2333.1,825.0C2336.1,825.0,2339.1,825.0,2342.0,825.0C2345.0,825.0,2348.0,825.1,2351.0,825.3C2353.0,825.5,2355.0,828.0,2357.0,830.4C2359.5,833.4,2362.0,839.1,2364.5,842.4C2367.0,845.6,2369.5,849.8,2371.9,849.8C2373.9,849.8,2375.9,849.8,2377.9,849.8C2381.9,849.8,2385.9,846.8,2389.9,845.4C2393.9,843.9,2397.9,842.1,2401.8,840.9C2404.8,839.9,2407.8,838.5,2410.8,838.5C2412.8,838.5,2414.8,839.8,2416.8,840.9C2419.8,842.5,2422.8,845.7,2425.8,847.7C2428.7,849.7,2431.7,851.6,2434.7,852.8C2438.8,854.5,2442.8,854.7,2446.8,855.6C2452.4,856.8,2458.0,857.3,2463.6,859.0C2468.0,860.3,2472.5,861.7,2476.9,864.0C2480.3,865.7,2483.6,868.7,2487.0,870.0C2489.2,870.9,2491.4,871.7,2493.6,871.7C2496.4,871.7,2499.2,870.1,2502.0,869.0C2505.9,867.5,2509.8,864.5,2513.7,863.3C2518.1,862.0,2522.6,861.9,2527.1,861.3C2531.5,860.8,2536.0,860.0,2540.4,860.0C2545.2,860.0,2550.0,860.0,2554.8,860.0" stroke="#e8702a" stroke-width="2.0"/>
<path d="M83.0,844.7C86.3,845.2,89.6,845.7,92.9,845.7C95.9,845.7,99.0,845.5,102.0,845.2C104.3,845.0,106.6,842.2,108.9,840.6C111.9,838.5,115.0,835.4,118.0,833.8C120.7,832.3,123.4,830.8,126.0,830.8C129.5,830.8,132.9,830.9,136.3,831.0C140.9,831.2,145.5,832.2,150.0,832.6C155.4,833.1,160.7,833.8,166.1,833.8C169.1,833.8,172.2,832.6,175.2,832.6C177.5,832.6,179.8,832.8,182.1,833.1C184.4,833.4,186.6,835.3,188.9,837.2C192.0,839.7,195.0,844.9,198.1,847.5C201.1,850.1,204.2,852.8,207.2,852.8C213.3,852.8,219.4,852.8,225.5,852.8C231.6,852.8,237.7,852.5,243.8,852.1C248.4,851.7,253.0,850.0,257.5,849.1C260.6,848.5,263.6,847.5,266.7,847.5C272.0,847.5,277.4,848.2,282.7,848.2C286.5,848.2,290.3,845.5,294.1,844.1C297.9,842.6,301.8,840.2,305.6,839.5C309.4,838.7,313.2,838.3,317.0,838.3C320.0,838.3,323.1,838.7,326.1,839.5C329.2,840.2,332.2,843.4,335.3,845.2C338.3,847.0,341.4,849.5,344.4,850.2C347.5,851.0,350.5,851.4,353.6,851.4C358.2,851.4,362.7,851.1,367.3,850.9C373.4,850.7,379.5,850.8,385.6,850.5C391.7,850.2,397.8,849.0,403.9,848.6C410.8,848.2,417.6,848.3,424.5,847.9C431.3,847.6,438.2,847.2,445.1,846.8C449.6,846.5,454.2,845.9,458.8,845.9C462.5,845.9,466.3,846.3,470.0,847.0C473.0,847.7,476.1,850.3,479.1,851.4C482.2,852.5,485.2,853.7,488.3,853.7C494.4,853.7,500.5,853.4,506.6,853.2C511.9,853.0,517.3,852.5,522.6,852.5C524.9,852.5,527.2,853.4,529.5,854.4C532.5,855.6,535.6,858.4,538.6,860.1C541.7,861.8,544.7,863.6,547.8,864.6C550.8,865.7,553.9,866.5,556.9,866.5C561.5,866.5,566.1,865.3,570.6,864.6C575.2,864.0,579.8,862.8,584.4,862.4C588.9,861.9,593.5,861.7,598.1,861.7C604.2,861.7,610.3,862.1,616.4,862.4C622.5,862.6,628.6,863.0,634.7,863.0C640.8,863.0,646.9,863.0,653.0,862.8C656.8,862.7,660.6,862.4,664.4,862.4C666.7,862.4,669.0,863.0,671.3,864.2C674.3,865.8,677.4,870.2,680.4,872.6C683.5,875.1,686.5,878.0,689.6,879.1C692.6,880.1,695.7,880.7,698.7,880.7C706.3,880.7,713.9,879.8,721.6,879.5C729.2,879.2,736.8,879.1,744.4,879.1C747.5,879.1,750.5,879.6,753.6,880.2C757.4,881.0,761.2,882.6,765.0,883.6C768.1,884.4,771.1,885.7,774.2,885.7C779.5,885.7,784.8,885.7,790.2,885.7C797.8,885.7,805.4,885.4,813.1,885.2C820.7,885.0,828.3,884.5,835.9,884.5C842.0,884.5,848.1,884.6,854.2,884.8C859.5,884.9,864.7,887.5,870.0,887.5C877.6,887.5,885.2,887.5,892.9,887.5C900.5,887.5,908.1,886.7,915.7,886.4C926.4,886.0,937.1,885.7,947.8,885.7C950.8,885.7,953.9,887.2,956.9,888.2C960.7,889.4,964.5,891.6,968.3,892.5C972.2,893.5,976.0,893.9,979.8,893.9C985.9,893.9,992.0,893.2,998.1,893.2C1004.2,893.2,1010.3,893.6,1016.4,893.7C1021.7,893.8,1027.0,893.9,1032.4,893.9C1034.7,893.9,1037.0,893.0,1039.2,892.1C1042.3,890.8,1045.3,887.8,1048.4,886.4C1051.4,885.0,1054.5,883.6,1057.5,883.6C1063.6,883.6,1069.7,884.1,1075.8,884.1C1081.9,884.1,1088.0,884.1,1094.1,884.1C1100.2,884.1,1106.3,882.9,1112.4,882.9C1117.0,882.9,1121.6,883.4,1126.1,883.4C1129.2,883.4,1132.2,883.2,1135.3,882.9C1137.6,882.7,1139.9,880.6,1142.2,877.9C1144.4,875.2,1146.7,869.9,1149.0,866.9C1151.3,864.0,1153.6,860.9,1155.9,860.1C1158.9,859.0,1162.0,858.5,1165.0,858.5C1168.8,858.5,1172.6,859.3,1176.5,860.1C1181.0,861.0,1185.6,863.2,1190.2,864.2C1194.8,865.1,1199.3,865.8,1203.9,865.8C1208.5,865.8,1213.1,865.8,1217.6,865.8C1223.7,865.8,1229.8,865.6,1235.9,865.3C1240.5,865.1,1245.1,863.6,1249.6,863.0C1253.5,862.5,1257.3,862.1,1261.1,861.9C1264.1,861.7,1267.0,861.7,1270.0,861.7C1277.6,861.7,1285.2,862.8,1292.9,862.8C1300.5,862.8,1308.1,862.8,1315.7,862.8C1323.4,862.8,1331.0,861.9,1338.6,861.7C1346.2,861.4,1353.9,861.2,1361.5,861.2C1369.1,861.2,1376.7,861.2,1384.4,861.2C1393.5,861.2,1402.6,860.8,1411.8,860.8C1416.4,860.8,1420.9,861.9,1425.5,862.8C1430.1,863.8,1434.7,865.6,1439.2,866.5C1443.1,867.2,1446.9,868.1,1450.7,868.1C1454.5,868.1,1458.3,867.5,1462.1,866.5C1465.2,865.6,1468.2,863.8,1471.3,862.8C1475.1,861.6,1478.9,860.3,1482.7,860.1C1488.0,859.8,1493.4,859.6,1498.7,859.6C1505.6,859.6,1512.4,860.1,1519.3,860.1C1523.1,860.1,1526.9,858.5,1530.7,857.8C1534.5,857.1,1538.3,856.0,1542.2,856.0C1546.0,856.0,1549.8,856.6,1553.6,856.6C1556.6,856.6,1559.7,856.3,1562.7,855.5C1565.0,854.9,1567.3,853.0,1569.6,850.9C1571.9,848.8,1574.2,844.9,1576.5,842.9C1579.5,840.3,1582.6,839.0,1585.6,839.0C1590.2,839.0,1594.8,839.9,1599.3,839.9C1601.6,839.9,1603.9,838.9,1606.2,837.2C1608.5,835.5,1610.8,832.4,1613.1,829.9C1615.3,827.4,1617.6,824.0,1619.9,822.3C1622.2,820.6,1624.5,819.6,1626.8,819.6C1631.3,819.6,1635.9,819.6,1640.5,819.6C1645.1,819.6,1649.6,821.2,1654.2,821.2C1657.3,821.2,1660.3,821.0,1663.4,820.5C1665.6,820.2,1667.8,819.1,1670.0,818.4C1674.0,817.2,1678.0,815.5,1682.0,814.6C1685.9,813.7,1689.9,813.1,1693.9,813.1C1696.9,813.1,1699.9,813.6,1702.9,814.6C1706.9,815.9,1710.9,819.3,1714.8,821.4C1718.8,823.6,1722.8,826.0,1726.8,827.4C1730.3,828.7,1733.8,829.8,1737.3,829.8C1739.3,829.8,1741.3,829.3,1743.2,828.3C1745.2,827.3,1747.2,824.6,1749.2,821.4C1751.7,817.5,1754.2,809.8,1756.7,805.6C1759.2,801.4,1761.7,797.0,1764.2,796.0C1766.7,795.0,1769.2,794.5,1771.6,794.5C1777.6,794.5,1783.6,795.7,1789.6,796.0C1797.6,796.4,1805.5,796.6,1813.5,796.6C1818.5,796.6,1823.5,796.6,1828.4,796.6C1833.4,796.6,1838.4,796.6,1843.4,796.6C1846.4,796.6,1849.4,794.3,1852.4,792.4C1855.4,790.6,1858.3,787.2,1861.3,785.6C1864.3,783.9,1867.3,782.6,1870.3,782.6C1873.3,782.6,1876.3,782.6,1879.3,782.6C1882.3,782.6,1885.2,783.9,1888.2,785.6C1891.2,787.2,1894.2,790.5,1897.2,792.4C1900.2,794.3,1903.2,796.7,1906.2,796.9C1912.2,797.3,1918.1,797.5,1924.1,797.5C1931.1,797.5,1938.1,796.9,1945.0,796.9C1953.0,796.9,1961.0,797.6,1969.0,798.4C1972.9,798.8,1976.9,799.9,1980.9,799.9C1983.9,799.9,1986.9,799.3,1989.9,798.1C1992.9,796.9,1995.9,793.4,1998.8,791.5C2001.8,789.7,2004.8,788.1,2007.8,787.1C2010.8,786.1,2013.8,785.6,2016.8,785.6C2025.8,785.6,2034.7,787.4,2043.7,787.7C2052.5,787.9,2061.2,788.0,2070.0,788.0C2074.0,788.0,2078.0,787.1,2082.0,787.1C2084.9,787.1,2087.9,788.3,2090.9,790.0C2093.9,791.8,2096.9,795.1,2099.9,797.5C2103.9,800.8,2107.9,805.1,2111.9,807.1C2115.8,809.1,2119.8,810.1,2123.8,810.1C2126.8,810.1,2129.8,809.1,2132.8,807.1C2135.8,805.1,2138.8,800.3,2141.7,797.5C2144.7,794.8,2147.7,792.0,2150.7,790.6C2153.7,789.2,2156.7,788.6,2159.7,788.6C2162.7,788.6,2165.7,789.3,2168.7,790.9C2171.6,792.5,2174.6,798.4,2177.6,802.0C2180.6,805.6,2183.6,810.0,2186.6,812.5C2189.6,815.0,2192.6,817.0,2195.6,817.0C2201.5,817.0,2207.5,816.4,2213.5,816.1C2219.5,815.7,2225.5,815.5,2231.4,814.9C2237.4,814.3,2243.4,813.1,2249.4,812.5C2257.3,811.6,2265.3,811.8,2273.3,811.0C2279.3,810.4,2285.2,808.6,2291.2,808.6C2297.2,808.6,2303.2,808.6,2309.2,808.6C2317.1,808.6,2325.1,809.5,2333.1,809.5C2341.1,809.5,2349.0,808.9,2357.0,808.6C2361.0,808.4,2365.0,808.0,2369.0,808.0C2371.9,808.0,2374.9,809.5,2377.9,812.5C2380.9,815.5,2383.9,822.4,2386.9,825.9C2389.9,829.4,2392.9,832.2,2395.9,833.4C2399.8,835.0,2403.8,835.8,2407.8,835.8C2412.8,835.8,2417.8,834.9,2422.8,834.9C2431.9,834.9,2441.0,835.3,2450.2,836.2C2453.5,836.6,2456.9,840.0,2460.2,842.3C2463.6,844.5,2466.9,848.1,2470.2,849.9C2473.0,851.5,2475.8,853.0,2478.6,853.0C2483.6,853.0,2488.6,851.6,2493.6,851.6C2500.3,851.6,2507.0,851.6,2513.7,851.6C2518.1,851.6,2522.6,848.4,2527.1,847.3C2531.5,846.1,2536.0,845.0,2540.4,844.6C2545.2,844.2,2550.0,844.0,2554.8,843.9" stroke="#de4141" stroke-width="2.0"/>
<path d="M83.0,829.7C86.3,830.2,89.6,830.8,92.9,830.8C95.9,830.8,99.0,830.5,102.0,829.9C104.3,829.4,106.6,826.4,108.9,824.6C111.9,822.3,115.0,819.4,118.0,817.8C120.7,816.3,123.4,814.8,126.0,814.8C129.5,814.8,132.9,814.9,136.3,815.0C140.9,815.2,145.5,816.5,150.0,817.1C155.4,817.8,160.7,818.9,166.1,818.9C169.1,818.9,172.2,818.2,175.2,818.2C177.5,818.2,179.8,818.3,182.1,818.4C184.4,818.6,186.6,821.3,188.9,823.5C192.0,826.4,195.0,832.1,198.1,834.9C201.1,837.8,204.2,840.6,207.2,840.6C213.3,840.6,219.4,840.3,225.5,840.2C231.6,840.1,237.7,840.1,243.8,839.9C248.4,839.8,253.0,837.7,257.5,836.7C260.6,836.1,263.6,834.9,266.7,834.9C272.0,834.9,277.4,835.6,282.7,835.6C286.5,835.6,290.3,832.0,294.1,830.3C297.9,828.7,301.8,826.5,305.6,825.8C309.4,825.0,313.2,824.6,317.0,824.6C320.0,824.6,323.1,825.2,326.1,826.2C329.2,827.3,332.2,829.7,335.3,831.5C338.3,833.3,341.4,836.1,344.4,837.2C347.5,838.3,350.5,838.8,353.6,838.8C358.2,838.8,362.7,838.5,367.3,838.3C373.4,838.2,379.5,838.2,385.6,837.9C391.7,837.6,397.8,836.3,403.9,836.1C410.8,835.7,417.6,835.9,424.5,835.6C431.3,835.3,438.2,834.8,445.1,834.5C449.6,834.2,454.2,833.8,458.8,833.8C462.5,833.8,466.3,833.9,470.0,834.2C473.0,834.5,476.1,838.1,479.1,839.5C482.2,840.9,485.2,842.5,488.3,842.5C494.4,842.5,500.5,842.4,506.6,842.2C511.9,842.1,517.3,841.3,522.6,841.3C524.9,841.3,527.2,841.9,529.5,842.9C532.5,844.3,535.6,847.7,538.6,849.8C541.7,851.9,544.7,854.3,547.8,855.5C550.8,856.7,553.9,857.3,556.9,857.3C561.5,857.3,566.1,856.3,570.6,855.5C575.2,854.7,579.8,853.2,584.4,852.8C588.9,852.3,593.5,852.1,598.1,852.1C604.2,852.1,610.3,852.6,616.4,852.8C622.5,852.9,628.6,853.2,634.7,853.2C640.8,853.2,646.9,853.0,653.0,852.8C656.8,852.6,660.6,852.1,664.4,852.1C666.7,852.1,669.0,852.9,671.3,854.4C674.3,856.2,677.4,860.8,680.4,863.5C683.5,866.2,686.5,869.1,689.6,870.4C692.6,871.6,695.7,872.2,698.7,872.2C706.3,872.2,713.9,871.7,721.6,871.5C729.2,871.3,736.8,871.0,744.4,871.0C747.5,871.0,750.5,871.6,753.6,872.2C757.4,873.0,761.2,874.7,765.0,875.6C768.1,876.3,771.1,877.2,774.2,877.2C779.5,877.2,784.8,877.2,790.2,877.2C797.8,877.2,805.4,876.9,813.1,876.8C820.7,876.6,828.3,876.5,835.9,876.5C842.0,876.5,848.1,876.9,854.2,877.2C859.5,877.5,864.7,878.0,870.0,878.4C877.6,878.9,885.2,880.0,892.9,880.0C900.5,880.0,908.1,878.8,915.7,878.8C922.6,878.8,929.5,878.8,936.3,878.8C940.1,878.8,943.9,879.1,947.8,879.5C950.8,879.9,953.9,880.6,956.9,881.3C960.0,882.1,963.0,883.2,966.1,884.1C969.1,884.9,972.2,886.1,975.2,886.4C979.8,886.8,984.4,886.9,988.9,887.1C995.0,887.3,1001.1,887.3,1007.2,887.5C1014.8,887.8,1022.5,888.7,1030.1,888.7C1033.1,888.7,1036.2,887.7,1039.2,886.4C1042.3,885.0,1045.3,882.2,1048.4,880.7C1051.4,879.1,1054.5,877.4,1057.5,877.2C1063.6,876.9,1069.7,876.8,1075.8,876.8C1081.9,876.8,1088.0,877.2,1094.1,877.2C1100.2,877.2,1106.3,876.1,1112.4,876.1C1117.0,876.1,1121.6,876.3,1126.1,876.3C1129.2,876.3,1132.2,876.2,1135.3,876.1C1137.6,876.0,1139.9,873.2,1142.2,870.4C1144.4,867.5,1146.7,861.7,1149.0,858.9C1152.1,855.2,1155.1,853.5,1158.2,853.2C1161.2,852.9,1164.3,852.8,1167.3,852.8C1171.1,852.8,1174.9,854.1,1178.7,855.0C1182.6,856.0,1186.4,857.5,1190.2,858.2C1194.8,859.1,1199.3,859.3,1203.9,859.6C1208.5,859.9,1213.1,860.1,1217.6,860.1C1223.7,860.1,1229.8,859.9,1235.9,859.6C1240.5,859.4,1245.1,858.1,1249.6,857.3C1253.5,856.7,1257.3,855.9,1261.1,855.5C1264.1,855.2,1267.0,855.0,1270.0,855.0C1274.6,855.0,1279.1,856.3,1283.7,856.6C1288.3,857.0,1292.9,857.3,1297.4,857.3C1303.5,857.3,1309.6,857.0,1315.7,856.6C1323.4,856.2,1331.0,855.0,1338.6,855.0C1346.2,855.0,1353.9,855.0,1361.5,855.0C1369.1,855.0,1376.7,855.0,1384.4,855.0C1393.5,855.0,1402.6,854.4,1411.8,854.4C1416.4,854.4,1420.9,855.0,1425.5,856.0C1430.1,856.9,1434.7,858.9,1439.2,860.1C1443.1,861.0,1446.9,862.4,1450.7,862.4C1454.5,862.4,1458.3,862.0,1462.1,861.2C1465.2,860.6,1468.2,858.5,1471.3,857.3C1475.1,855.9,1478.9,853.7,1482.7,853.7C1488.0,853.7,1493.4,853.7,1498.7,853.7C1505.6,853.7,1512.4,853.7,1519.3,853.7C1523.1,853.7,1526.9,852.1,1530.7,851.4C1534.5,850.7,1538.3,849.3,1542.2,849.3C1546.0,849.3,1549.8,849.8,1553.6,849.8C1556.6,849.8,1559.7,849.5,1562.7,849.1C1565.0,848.7,1567.3,846.0,1569.6,844.1C1571.9,842.1,1574.2,838.9,1576.5,837.2C1579.5,834.9,1582.6,833.1,1585.6,833.1C1590.2,833.1,1594.8,834.2,1599.3,834.2C1601.6,834.2,1603.9,833.1,1606.2,831.5C1608.5,829.9,1610.8,827.0,1613.1,824.6C1615.3,822.3,1617.6,819.0,1619.9,817.3C1622.2,815.6,1624.5,814.3,1626.8,814.3C1631.3,814.3,1635.9,814.3,1640.5,814.3C1645.1,814.3,1649.6,815.5,1654.2,815.5C1657.3,815.5,1660.3,815.3,1663.4,815.0C1665.6,814.8,1667.8,814.5,1670.0,814.0C1674.0,812.9,1678.0,809.6,1682.0,808.6C1685.9,807.6,1689.9,807.1,1693.9,807.1C1696.9,807.1,1699.9,807.4,1702.9,808.0C1706.9,808.8,1710.9,813.1,1714.8,815.5C1718.8,817.8,1722.8,820.8,1726.8,822.3C1730.3,823.6,1733.8,824.4,1737.3,824.4C1739.3,824.4,1741.3,823.9,1743.2,822.9C1745.2,821.9,1747.2,818.8,1749.2,815.5C1751.7,811.3,1754.2,803.2,1756.7,799.0C1759.2,794.8,1761.7,791.0,1764.2,790.0C1766.7,789.0,1769.2,788.6,1771.6,788.6C1777.6,788.6,1783.6,790.0,1789.6,790.0C1797.6,790.0,1805.5,790.0,1813.5,790.0C1818.5,790.0,1823.5,789.4,1828.4,789.4C1833.4,789.4,1838.4,789.4,1843.4,789.4C1846.4,789.4,1849.4,786.9,1852.4,785.0C1855.4,783.1,1858.3,779.7,1861.3,778.1C1864.3,776.4,1867.3,775.1,1870.3,775.1C1873.3,775.1,1876.3,775.1,1879.3,775.1C1882.3,775.1,1885.2,776.4,1888.2,778.1C1891.2,779.7,1894.2,783.1,1897.2,785.0C1900.2,786.8,1903.2,789.1,1906.2,789.1C1912.2,789.1,1918.1,789.1,1924.1,789.1C1931.1,789.1,1938.1,788.6,1945.0,788.6C1953.0,788.6,1961.0,788.6,1969.0,788.6C1972.9,788.6,1976.9,789.1,1980.9,789.1C1983.9,789.1,1986.9,788.5,1989.9,787.1C1992.9,785.7,1995.9,781.7,1998.8,779.6C2001.8,777.5,2004.8,775.1,2007.8,774.5C2010.8,773.9,2013.8,773.6,2016.8,773.6C2025.8,773.6,2034.7,775.1,2043.7,775.1C2052.5,775.1,2061.2,775.1,2070.0,775.1C2074.0,775.1,2078.0,774.2,2082.0,774.2C2084.9,774.2,2087.9,775.0,2090.9,776.6C2093.9,778.2,2096.9,781.5,2099.9,784.1C2103.9,787.5,2107.9,792.2,2111.9,794.5C2115.8,796.9,2119.8,798.1,2123.8,798.1C2126.8,798.1,2129.8,796.9,2132.8,794.5C2135.8,792.1,2138.8,785.8,2141.7,782.6C2144.7,779.3,2147.7,776.1,2150.7,775.1C2153.7,774.1,2156.7,773.6,2159.7,773.6C2162.7,773.6,2165.7,774.3,2168.7,775.7C2171.6,777.1,2174.6,783.2,2177.6,787.1C2180.6,790.9,2183.6,796.2,2186.6,799.0C2189.6,801.9,2192.6,804.1,2195.6,804.1C2201.5,804.1,2207.5,803.2,2213.5,802.9C2219.5,802.6,2225.5,802.6,2231.4,802.0C2237.4,801.4,2243.4,798.7,2249.4,798.1C2257.3,797.3,2265.3,797.7,2273.3,796.9C2279.3,796.3,2285.2,794.5,2291.2,794.5C2297.2,794.5,2303.2,794.5,2309.2,794.5C2317.1,794.5,2325.1,796.0,2333.1,796.0C2341.1,796.0,2349.0,795.8,2357.0,795.4C2361.0,795.2,2365.0,794.5,2369.0,794.5C2371.9,794.5,2374.9,796.0,2377.9,799.0C2380.9,802.0,2383.9,808.8,2386.9,812.5C2389.9,816.1,2392.9,820.1,2395.9,820.8C2399.8,821.8,2403.8,822.3,2407.8,822.3C2412.8,822.3,2417.8,821.4,2422.8,821.4C2431.9,821.4,2441.0,822.6,2450.2,824.9C2453.5,825.7,2456.9,828.2,2460.2,830.6C2463.6,832.9,2466.9,836.9,2470.2,838.9C2473.0,840.6,2475.8,842.3,2478.6,842.3C2483.6,842.3,2488.6,841.6,2493.6,841.6C2500.3,841.6,2507.0,842.3,2513.7,842.3C2518.1,842.3,2522.6,839.3,2527.1,837.2C2531.5,835.2,2536.0,832.6,2540.4,829.9C2545.2,827.0,2550.0,823.8,2554.8,820.5" stroke="#4aba5f" stroke-width="2.0"/>
<path d="M83.0,801.7C86.3,802.7,89.6,803.7,92.9,804.0C95.5,804.3,98.2,804.5,100.9,804.5C103.2,804.5,105.4,802.7,107.7,801.3C110.4,799.6,113.1,796.5,115.7,794.9C118.4,793.2,121.1,791.5,123.7,791.5C126.4,791.5,129.1,792.6,131.7,793.1C135.6,793.8,139.4,794.9,143.2,794.9C149.3,794.9,155.4,794.6,161.5,794.4C165.3,794.3,169.1,794.2,172.9,794.2C176.0,794.2,179.0,794.2,182.1,794.2C184.4,794.2,186.6,795.6,188.9,797.2C192.0,799.2,195.0,803.9,198.1,806.3C201.1,808.7,204.2,811.6,207.2,811.6C213.3,811.6,219.4,811.6,225.5,811.6C231.6,811.6,237.7,811.4,243.8,810.9C249.9,810.4,256.0,807.5,262.1,807.5C269.0,807.5,275.8,807.5,282.7,807.5C286.5,807.5,290.3,805.3,294.1,804.0C297.9,802.8,301.8,800.4,305.6,799.9C310.1,799.3,314.7,799.0,319.3,799.0C323.1,799.0,326.9,800.1,330.7,801.7C333.8,803.0,336.8,805.6,339.9,807.0C342.5,808.2,345.2,809.8,347.9,809.8C354.4,809.8,360.8,809.3,367.3,809.3C374.9,809.3,382.6,809.3,390.2,809.3C396.3,809.3,402.4,807.9,408.5,807.9C414.6,807.9,420.7,807.9,426.8,807.9C433.6,807.9,440.5,807.1,447.4,806.8C451.2,806.6,455.0,806.3,458.8,806.3C462.5,806.3,466.3,806.3,470.0,806.3C473.8,806.3,477.6,809.3,481.4,810.4C485.2,811.6,489.1,813.2,492.9,813.2C497.4,813.2,502.0,812.9,506.6,812.7C512.7,812.5,518.8,812.0,524.9,812.0C528.7,812.0,532.5,816.9,536.3,818.9C540.1,820.9,543.9,824.2,547.8,824.2C552.3,824.2,556.9,823.9,561.5,823.5C566.1,823.0,570.6,821.8,575.2,821.2C579.8,820.5,584.4,819.6,588.9,819.6C595.0,819.6,601.1,819.9,607.2,820.0C614.8,820.2,622.5,820.5,630.1,820.5C634.7,820.5,639.2,820.0,643.8,820.0C650.7,820.0,657.5,820.0,664.4,820.0C666.7,820.0,669.0,820.7,671.3,821.9C674.3,823.5,677.4,827.9,680.4,830.3C683.8,833.1,687.3,836.7,690.7,837.2C694.1,837.7,697.6,837.9,701.0,837.9C707.9,837.9,714.7,836.8,721.6,836.5C729.2,836.2,736.8,836.1,744.4,836.1C747.5,836.1,750.5,836.5,753.6,837.2C757.4,838.1,761.2,840.3,765.0,841.3C768.1,842.1,771.1,842.9,774.2,842.9C779.5,842.9,784.8,842.9,790.2,842.9C797.8,842.9,805.4,842.5,813.1,842.2C820.7,842.0,828.3,841.3,835.9,841.3C842.0,841.3,848.1,841.5,854.2,841.8C859.5,842.0,864.7,844.4,870.0,844.5C877.6,844.7,885.2,844.7,892.9,844.7C900.5,844.7,908.1,843.7,915.7,843.6C926.4,843.4,937.1,843.4,947.8,843.4C950.8,843.4,953.9,844.4,956.9,845.2C960.7,846.2,964.5,848.3,968.3,849.3C972.2,850.3,976.0,851.4,979.8,851.4C985.9,851.4,992.0,850.5,998.1,850.5C1004.2,850.5,1010.3,850.8,1016.4,850.9C1021.7,851.1,1027.0,851.4,1032.4,851.4C1034.7,851.4,1037.0,850.7,1039.2,849.8C1042.3,848.6,1045.3,845.6,1048.4,844.1C1051.4,842.5,1054.5,840.6,1057.5,840.6C1063.6,840.6,1069.7,840.6,1075.8,840.6C1081.9,840.6,1088.0,841.3,1094.1,841.3C1100.2,841.3,1106.3,839.9,1112.4,839.9C1117.0,839.9,1121.6,840.2,1126.1,840.2C1129.2,840.2,1132.2,840.1,1135.3,839.9C1137.6,839.8,1139.9,837.5,1142.2,834.9C1144.4,832.4,1146.7,827.5,1149.0,824.6C1151.3,821.8,1153.6,818.6,1155.9,817.8C1158.9,816.7,1162.0,816.2,1165.0,816.2C1168.8,816.2,1172.6,816.9,1176.5,817.8C1181.0,818.7,1185.6,820.8,1190.2,821.9C1194.8,822.9,1199.3,823.9,1203.9,823.9C1208.5,823.9,1213.1,823.9,1217.6,823.9C1223.7,823.9,1229.8,823.8,1235.9,823.5C1240.5,823.2,1245.1,821.8,1249.6,821.2C1253.5,820.7,1257.3,820.0,1261.1,820.0C1264.1,820.0,1267.0,820.0,1270.0,820.0C1277.6,820.0,1285.2,820.7,1292.9,820.7C1300.5,820.7,1308.1,820.7,1315.7,820.7C1323.4,820.7,1331.0,819.6,1338.6,819.6C1346.2,819.6,1353.9,819.6,1361.5,819.6C1369.1,819.6,1376.7,819.6,1384.4,819.6C1393.5,819.6,1402.6,818.9,1411.8,818.9C1416.4,818.9,1420.9,819.6,1425.5,820.5C1430.1,821.5,1434.7,823.6,1439.2,824.6C1443.1,825.4,1446.9,826.2,1450.7,826.2C1454.5,826.2,1458.3,825.7,1462.1,824.6C1465.2,823.8,1468.2,821.8,1471.3,820.7C1475.1,819.4,1478.9,817.8,1482.7,817.8C1488.0,817.8,1493.4,817.8,1498.7,817.8C1505.6,817.8,1512.4,818.2,1519.3,818.2C1523.1,818.2,1526.9,816.7,1530.7,815.9C1534.5,815.2,1538.3,813.9,1542.2,813.9C1546.0,813.9,1549.8,814.3,1553.6,814.3C1556.6,814.3,1559.7,813.9,1562.7,813.2C1565.0,812.6,1567.3,809.4,1569.6,807.5C1571.9,805.5,1574.2,802.0,1576.5,801.3C1579.5,800.4,1582.6,799.9,1585.6,799.9C1590.2,799.9,1594.8,800.6,1599.3,800.6C1601.6,800.6,1603.9,798.9,1606.2,797.2C1608.5,795.5,1610.8,792.4,1613.1,790.3C1615.3,788.2,1617.6,785.9,1619.9,784.6C1622.2,783.3,1624.5,782.3,1626.8,782.3C1631.3,782.3,1635.9,783.5,1640.5,783.5C1645.1,783.5,1649.6,783.5,1654.2,783.5C1659.5,783.5,1664.7,783.2,1670.0,782.6C1674.0,782.1,1678.0,779.7,1682.0,778.7C1685.9,777.7,1689.9,776.6,1693.9,776.6C1696.9,776.6,1699.9,776.8,1702.9,777.2C1706.9,777.7,1710.9,780.3,1714.8,782.0C1718.8,783.6,1722.8,785.5,1726.8,787.1C1730.3,788.4,1733.8,790.6,1737.3,790.6C1739.3,790.6,1741.3,790.6,1743.2,790.6C1745.7,790.6,1748.2,787.9,1750.7,785.6C1753.7,782.8,1756.7,777.7,1759.7,774.5C1763.7,770.3,1767.7,766.5,1771.6,764.6C1774.6,763.2,1777.6,762.5,1780.6,762.5C1785.6,762.5,1790.6,762.5,1795.6,762.5C1801.5,762.5,1807.5,763.1,1813.5,763.1C1823.5,763.1,1833.4,763.1,1843.4,763.1C1847.4,763.1,1851.4,760.3,1855.4,758.7C1859.3,757.0,1863.3,754.1,1867.3,753.3C1871.3,752.5,1875.3,752.1,1879.3,752.1C1883.3,752.1,1887.2,754.1,1891.2,755.7C1895.2,757.3,1899.2,760.3,1903.2,761.6C1907.2,763.0,1911.2,763.7,1915.1,763.7C1921.1,763.7,1927.1,763.1,1933.1,763.1C1939.1,763.1,1945.0,763.4,1951.0,763.7C1957.0,764.1,1963.0,764.9,1969.0,765.2C1972.9,765.4,1976.9,765.5,1980.9,765.5C1983.9,765.5,1986.9,764.9,1989.9,763.7C1992.9,762.6,1995.9,760.1,1998.8,758.7C2001.8,757.2,2004.8,755.5,2007.8,755.1C2011.8,754.5,2015.8,754.2,2019.8,754.2C2027.7,754.2,2035.7,755.7,2043.7,755.7C2052.5,755.7,2061.2,755.7,2070.0,755.7C2074.0,755.7,2078.0,755.1,2082.0,755.1C2084.9,755.1,2087.9,755.8,2090.9,757.2C2093.9,758.5,2096.9,761.2,2099.9,763.1C2103.9,765.7,2107.9,768.9,2111.9,770.6C2115.8,772.4,2119.8,773.6,2123.8,773.6C2126.8,773.6,2129.8,772.4,2132.8,770.6C2135.8,768.9,2138.8,765.3,2141.7,763.1C2144.7,761.0,2147.7,758.6,2150.7,757.8C2153.7,757.0,2156.7,756.6,2159.7,756.6C2162.7,756.6,2165.7,757.3,2168.7,758.7C2171.6,760.0,2174.6,764.5,2177.6,767.6C2180.6,770.8,2183.6,775.2,2186.6,777.5C2189.6,779.7,2192.6,781.1,2195.6,781.1C2201.5,781.1,2207.5,780.4,2213.5,780.2C2219.5,779.9,2225.5,780.0,2231.4,779.6C2237.4,779.2,2243.4,777.3,2249.4,776.6C2257.3,775.6,2265.3,775.6,2273.3,775.1C2281.3,774.6,2289.2,773.6,2297.2,773.6C2305.2,773.6,2313.1,773.6,2321.1,773.6C2329.1,773.6,2337.1,774.2,2345.0,774.2C2351.0,774.2,2357.0,773.6,2363.0,773.6C2367.0,773.6,2370.9,774.1,2374.9,775.1C2377.9,775.8,2380.9,779.8,2383.9,782.6C2386.9,785.3,2389.9,789.3,2392.9,791.5C2395.9,793.8,2398.8,796.0,2401.8,796.0C2404.8,796.0,2407.8,793.9,2410.8,793.9C2413.8,793.9,2416.8,795.5,2419.8,796.0C2422.8,796.5,2425.8,796.9,2428.7,796.9C2432.5,796.9,2436.4,795.5,2440.2,795.5C2443.5,795.5,2446.8,795.7,2450.2,796.1C2453.5,796.6,2456.9,799.9,2460.2,802.2C2463.6,804.4,2466.9,808.2,2470.2,809.8C2473.0,811.2,2475.8,812.2,2478.6,812.2C2483.6,812.2,2488.6,811.2,2493.6,811.2C2500.3,811.2,2507.0,811.2,2513.7,811.2C2527.4,811.2,2541.1,810.8,2554.8,810.5" stroke="#a253f3" stroke-width="2.0"/>
<path d="M83.0,776.6C86.3,777.7,89.6,778.8,92.9,779.6C95.9,780.3,99.0,781.2,102.0,781.2C104.3,781.2,106.6,777.0,108.9,774.3C111.5,771.1,114.2,765.5,116.9,762.9C118.9,760.9,121.0,759.0,123.1,759.0C125.6,759.0,128.1,761.9,130.6,764.0C132.9,765.9,135.2,769.3,137.5,770.9C139.8,772.5,142.0,773.6,144.3,773.6C147.0,773.6,149.7,772.0,152.3,770.9C155.4,769.6,158.4,767.6,161.5,766.3C165.3,764.7,169.1,763.8,172.9,762.9C175.6,762.2,178.3,761.3,180.9,761.3C183.2,761.3,185.5,762.6,187.8,764.0C191.2,766.2,194.6,770.9,198.1,774.3C202.6,778.9,207.2,784.4,211.8,788.0C216.4,791.6,220.9,796.0,225.5,796.0C228.6,796.0,231.6,793.8,234.7,792.6C238.1,791.3,241.5,788.5,245.0,788.5C247.6,788.5,250.3,790.5,253.0,791.5C256.8,792.8,260.6,795.3,264.4,795.3C268.2,795.3,272.0,795.2,275.8,794.9C280.4,794.5,285.0,793.6,289.6,792.6C294.9,791.4,300.2,790.5,305.6,788.0C309.4,786.2,313.2,782.8,317.0,781.2C319.5,780.1,322.0,778.9,324.5,778.9C327.0,778.9,329.4,780.5,331.9,782.3C334.5,784.3,337.2,788.4,339.9,790.8C342.2,792.8,344.4,795.6,346.7,796.0C350.5,796.8,354.4,796.8,358.2,797.2C361.2,797.4,364.3,797.4,367.3,797.9C370.4,798.3,373.4,799.6,376.5,800.1C379.5,800.7,382.6,801.1,385.6,801.1C387.9,801.1,390.2,798.8,392.5,797.2C395.1,795.3,397.8,791.8,400.5,790.3C402.8,789.0,405.0,788.0,407.3,788.0C410.0,788.0,412.7,789.9,415.3,791.5C418.0,793.0,420.7,796.0,423.3,797.2C425.3,798.0,427.2,798.5,429.1,798.5C432.1,798.5,435.2,796.9,438.2,796.3C440.9,795.7,443.5,794.9,446.2,794.9C449.6,794.9,453.1,795.9,456.5,796.7C461.0,797.7,465.5,799.1,470.0,800.6C473.0,801.6,476.1,803.0,479.1,804.0C482.2,805.1,485.2,806.8,488.3,806.8C491.3,806.8,494.4,806.5,497.4,806.3C500.1,806.2,502.8,805.9,505.4,805.9C507.4,805.9,509.3,806.5,511.2,807.5C515.0,809.4,518.8,815.4,522.6,818.9C527.2,823.1,531.7,828.0,536.3,830.3C540.1,832.3,543.9,833.3,547.8,833.3C552.3,833.3,556.9,832.6,561.5,832.2C566.1,831.7,570.6,831.2,575.2,830.8C579.8,830.4,584.4,829.7,588.9,829.7C595.0,829.7,601.1,830.8,607.2,830.8C611.8,830.8,616.4,829.8,620.9,829.2C625.5,828.5,630.1,827.6,634.7,826.9C638.5,826.3,642.3,825.3,646.1,825.3C648.4,825.3,650.7,825.9,653.0,826.9C656.8,828.6,660.6,832.8,664.4,836.1C668.2,839.3,672.0,843.5,675.8,846.3C680.4,849.8,685.0,852.5,689.6,854.4C693.4,855.9,697.2,856.7,701.0,857.3C704.8,857.9,708.6,858.2,712.4,858.2C716.2,858.2,720.0,856.6,723.9,856.6C726.1,856.6,728.4,856.6,730.7,856.6C733.8,856.6,736.8,858.8,739.9,860.1C744.4,862.0,749.0,864.9,753.6,866.9C758.2,868.9,762.7,872.2,767.3,872.2C774.9,872.2,782.6,871.5,790.2,871.5C796.3,871.5,802.4,872.2,808.5,872.2C814.6,872.2,820.7,871.8,826.8,871.0C831.3,870.5,835.9,867.8,840.5,866.5C844.3,865.4,848.1,863.5,851.9,863.5C854.2,863.5,856.5,863.7,858.8,864.0C862.5,864.5,866.3,865.5,870.0,866.9C873.0,868.1,876.1,870.0,879.1,871.5C882.2,873.0,885.2,874.8,888.3,876.1C890.6,877.0,892.9,878.4,895.2,878.4C899.0,878.4,902.8,877.5,906.6,877.2C912.7,876.7,918.8,876.1,924.9,876.1C928.7,876.1,932.5,876.3,936.3,876.8C938.6,877.0,940.9,882.5,943.2,885.2C945.5,888.0,947.8,892.3,950.0,893.2C952.0,894.0,953.9,894.4,955.8,894.4C959.2,894.4,962.6,893.6,966.1,892.8C969.1,892.0,972.2,890.5,975.2,889.8C979.8,888.7,984.4,888.2,988.9,888.2C995.0,888.2,1001.1,888.4,1007.2,888.7C1011.8,888.9,1016.4,889.8,1020.9,889.8C1024.8,889.8,1028.6,889.6,1032.4,889.1C1034.7,888.8,1037.0,887.1,1039.2,885.9C1042.3,884.3,1045.3,882.1,1048.4,880.7C1051.4,879.2,1054.5,877.9,1057.5,877.4C1062.1,876.8,1066.7,876.5,1071.3,876.5C1077.4,876.5,1083.5,877.2,1089.6,877.2C1094.9,877.2,1100.2,876.7,1105.6,876.3C1109.4,876.0,1113.2,875.2,1117.0,875.2C1120.8,875.2,1124.6,876.1,1128.4,876.1C1130.7,876.1,1133.0,876.1,1135.3,876.1C1137.6,876.1,1139.9,874.7,1142.2,872.6C1146.0,869.2,1149.8,859.2,1153.6,854.4C1157.4,849.5,1161.2,846.7,1165.0,843.6C1168.1,841.1,1171.1,838.8,1174.2,837.2C1178.0,835.2,1181.8,833.8,1185.6,833.8C1189.4,833.8,1193.2,833.8,1197.0,833.8C1200.1,833.8,1203.1,835.2,1206.2,836.1C1210.0,837.1,1213.8,839.5,1217.6,839.5C1220.7,839.5,1223.7,839.5,1226.8,839.5C1231.3,839.5,1235.9,838.3,1240.5,837.9C1245.1,837.4,1249.6,837.2,1254.2,836.7C1259.5,836.2,1264.7,835.7,1270.0,834.9C1274.6,834.3,1279.1,833.3,1283.7,832.6C1288.3,831.9,1292.9,830.8,1297.4,830.8C1301.3,830.8,1305.1,831.8,1308.9,832.6C1312.3,833.4,1315.7,835.6,1319.2,835.6C1322.6,835.6,1326.0,833.9,1329.5,833.3C1332.5,832.7,1335.6,831.9,1338.6,831.9C1341.7,831.9,1344.7,833.1,1347.8,833.8C1350.8,834.5,1353.9,836.1,1356.9,836.1C1359.2,836.1,1361.5,835.3,1363.8,833.8C1366.4,832.0,1369.1,827.3,1371.8,825.3C1374.4,823.3,1377.1,821.6,1379.8,821.6C1382.4,821.6,1385.1,823.1,1387.8,824.6C1390.4,826.1,1393.1,829.2,1395.8,830.8C1398.1,832.1,1400.4,833.8,1402.6,833.8C1407.2,833.8,1411.8,833.8,1416.4,833.8C1420.9,833.8,1425.5,833.9,1430.1,834.2C1433.1,834.4,1436.2,834.8,1439.2,836.1C1442.3,837.3,1445.3,840.0,1448.4,842.2C1450.7,843.9,1453.0,846.2,1455.2,847.5C1457.2,848.6,1459.1,849.8,1461.0,849.8C1462.9,849.8,1464.8,848.5,1466.7,847.5C1469.0,846.3,1471.3,844.1,1473.5,842.9C1476.6,841.3,1479.6,840.1,1482.7,839.9C1488.0,839.6,1493.4,839.5,1498.7,839.5C1503.3,839.5,1507.9,840.3,1512.4,840.6C1515.5,840.8,1518.5,841.1,1521.6,841.1C1524.6,841.1,1527.7,839.3,1530.7,838.3C1534.5,837.2,1538.3,834.9,1542.2,834.9C1546.0,834.9,1549.8,834.9,1553.6,834.9C1556.6,834.9,1559.7,834.4,1562.7,833.3C1565.0,832.5,1567.3,829.5,1569.6,826.9C1571.9,824.3,1574.2,820.7,1576.5,817.8C1579.1,814.4,1581.8,808.2,1584.5,808.2C1587.1,808.2,1589.8,808.2,1592.5,808.2C1595.1,808.2,1597.8,808.6,1600.5,808.6C1603.1,808.6,1605.8,805.5,1608.5,802.9C1611.5,800.0,1614.6,794.9,1617.6,791.5C1620.7,788.0,1623.7,784.9,1626.8,782.3C1631.3,778.5,1635.9,776.8,1640.5,774.3C1645.1,771.8,1649.6,769.2,1654.2,767.4C1657.3,766.3,1660.3,764.8,1663.4,764.7C1665.6,764.7,1667.8,764.6,1670.0,764.6C1674.0,764.6,1678.0,765.5,1682.0,765.5C1685.9,765.5,1689.9,763.7,1693.9,763.1C1697.4,762.7,1700.9,762.2,1704.4,762.2C1707.9,762.2,1711.4,763.4,1714.8,764.6C1718.8,766.0,1722.8,768.3,1726.8,770.6C1730.3,772.6,1733.8,776.0,1737.3,777.5C1739.8,778.6,1742.2,779.6,1744.7,779.6C1747.7,779.6,1750.7,778.3,1753.7,776.6C1756.7,774.8,1759.7,772.4,1762.7,769.1C1765.7,765.9,1768.7,761.6,1771.6,757.2C1774.6,752.7,1777.6,746.9,1780.6,742.2C1783.6,737.5,1786.6,732.5,1789.6,728.8C1792.6,725.0,1795.6,721.8,1798.6,719.8C1801.0,718.1,1803.5,716.8,1806.0,716.8C1808.5,716.8,1811.0,718.0,1813.5,718.9C1817.5,720.3,1821.5,722.7,1825.5,724.3C1831.4,726.6,1837.4,727.7,1843.4,729.4C1847.4,730.5,1851.4,731.9,1855.4,732.6C1858.1,733.2,1860.9,733.8,1863.7,733.8C1865.9,733.8,1868.1,731.9,1870.3,728.8C1872.3,725.9,1874.3,720.3,1876.3,716.8C1878.3,713.3,1880.3,709.7,1882.3,707.8C1883.8,706.4,1885.2,705.4,1886.7,705.4C1888.7,705.4,1890.7,706.9,1892.7,708.4C1895.2,710.4,1897.7,714.4,1900.2,716.8C1903.2,719.6,1906.2,721.8,1909.2,723.4C1915.1,726.6,1921.1,726.9,1927.1,728.2C1933.1,729.4,1939.1,730.3,1945.0,730.9C1951.0,731.4,1957.0,731.5,1963.0,731.7C1968.0,732.0,1972.9,732.3,1977.9,732.3C1980.9,732.3,1983.9,732.1,1986.9,731.7C1989.9,731.4,1992.9,729.3,1995.9,727.9C1999.8,725.9,2003.8,723.2,2007.8,721.3C2011.8,719.3,2015.8,717.4,2019.8,716.2C2023.8,715.0,2027.7,713.8,2031.7,713.8C2035.7,713.8,2039.7,714.2,2043.7,714.7C2047.7,715.2,2051.7,715.7,2055.7,716.8C2058.6,717.6,2061.6,718.9,2064.6,719.8C2066.4,720.3,2068.2,720.4,2070.0,721.3C2073.0,722.7,2076.0,726.3,2079.0,728.8C2082.0,731.3,2084.9,734.0,2087.9,736.2C2091.9,739.2,2095.9,741.7,2099.9,743.7C2102.9,745.2,2105.9,747.3,2108.9,747.3C2111.9,747.3,2114.8,746.0,2117.8,744.6C2121.8,742.7,2125.8,739.4,2129.8,736.2C2133.8,733.1,2137.8,728.8,2141.7,725.8C2144.7,723.5,2147.7,720.4,2150.7,719.8C2153.7,719.2,2156.7,718.9,2159.7,718.9C2163.7,718.9,2167.7,719.0,2171.6,719.2C2174.6,719.3,2177.6,720.0,2180.6,720.7C2183.1,721.3,2185.6,721.4,2188.1,722.8C2189.6,723.6,2191.1,725.9,2192.6,728.8C2194.6,732.6,2196.6,740.2,2198.6,745.2C2200.5,750.2,2202.5,755.6,2204.5,758.7C2206.5,761.7,2208.5,763.7,2210.5,763.7C2212.5,763.7,2214.5,762.1,2216.5,760.1C2219.0,757.8,2221.5,752.3,2224.0,749.7C2226.5,747.0,2228.9,744.3,2231.4,744.3C2233.9,744.3,2236.4,747.6,2238.9,749.7C2241.4,751.7,2243.9,755.3,2246.4,756.6C2248.4,757.6,2250.4,758.1,2252.4,758.1C2255.4,758.1,2258.3,755.4,2261.3,754.2C2264.8,752.8,2268.3,750.3,2271.8,750.3C2274.8,750.3,2277.8,752.3,2280.8,753.3C2283.8,754.3,2286.7,756.3,2289.7,756.3C2292.2,756.3,2294.7,753.9,2297.2,751.8C2299.7,749.7,2302.2,745.7,2304.7,743.7C2307.2,741.8,2309.7,740.1,2312.2,740.1C2314.6,740.1,2317.1,742.0,2319.6,743.7C2322.1,745.5,2324.6,748.9,2327.1,750.6C2329.1,752.0,2331.1,753.3,2333.1,753.6C2336.1,754.0,2339.1,754.2,2342.0,754.2C2345.0,754.2,2348.0,754.2,2351.0,754.2C2353.0,754.2,2355.0,758.7,2357.0,761.6C2359.5,765.4,2362.0,771.4,2364.5,775.1C2367.0,778.8,2369.5,783.3,2371.9,784.1C2373.9,784.7,2375.9,785.0,2377.9,785.0C2381.9,785.0,2385.9,783.1,2389.9,782.0C2393.9,780.8,2397.9,779.4,2401.8,778.1C2404.8,777.1,2407.8,775.1,2410.8,775.1C2412.8,775.1,2414.8,776.3,2416.8,777.5C2419.8,779.3,2422.8,783.1,2425.8,785.6C2428.7,788.1,2431.7,790.8,2434.7,792.4C2436.5,793.5,2438.3,794.0,2440.2,794.8C2444.6,796.7,2449.1,798.6,2453.5,800.5C2459.1,802.8,2464.7,804.2,2470.2,807.2C2473.6,808.9,2476.9,811.2,2480.3,813.2C2483.1,814.9,2485.8,817.1,2488.6,818.2C2490.9,819.0,2493.1,819.5,2495.3,819.5C2498.1,819.5,2500.9,817.8,2503.7,816.5C2507.0,815.0,2510.3,812.2,2513.7,810.5C2518.1,808.3,2522.6,806.6,2527.1,805.5C2531.5,804.4,2536.0,803.8,2540.4,803.8C2545.2,803.8,2550.0,803.8,2554.8,803.8" stroke="#3c98e4" stroke-width="2.0"/>
<path d="M83.0,768.6C86.3,769.8,89.6,771.0,92.9,772.0C95.5,772.9,98.2,774.3,100.9,774.3C103.2,774.3,105.4,771.3,107.7,768.6C110.4,765.5,113.1,759.2,115.7,756.0C118.2,753.1,120.6,749.6,123.1,749.6C125.6,749.6,128.1,752.5,130.6,754.9C132.9,757.0,135.2,760.7,137.5,762.9C139.8,765.0,142.0,767.9,144.3,767.9C147.0,767.9,149.7,766.1,152.3,764.7C155.4,763.1,158.4,760.0,161.5,758.3C165.3,756.1,169.1,755.0,172.9,753.7C175.6,752.8,178.3,751.4,180.9,751.4C183.2,751.4,185.5,753.2,187.8,754.9C191.2,757.4,194.6,762.7,198.1,766.3C202.6,771.2,207.2,776.3,211.8,780.0C216.4,783.8,220.9,788.7,225.5,788.7C228.6,788.7,231.6,786.0,234.7,784.6C238.1,783.0,241.5,779.6,245.0,779.6C247.6,779.6,250.3,782.2,253.0,783.5C256.8,785.2,260.6,788.3,264.4,788.5C268.2,788.6,272.0,788.7,275.8,788.7C280.4,788.7,285.0,786.9,289.6,785.7C294.9,784.4,300.2,784.0,305.6,781.2C309.4,779.2,313.2,775.3,317.0,773.2C319.5,771.8,322.0,769.7,324.5,769.7C327.0,769.7,329.4,772.2,331.9,774.3C334.5,776.6,337.2,780.9,339.9,783.5C342.2,785.6,344.4,788.3,346.7,788.7C350.5,789.5,354.4,789.5,358.2,789.9C361.2,790.2,364.3,790.2,367.3,790.8C370.4,791.3,373.4,792.7,376.5,793.3C379.5,793.9,382.6,794.4,385.6,794.4C387.9,794.4,390.2,792.1,392.5,790.3C395.1,788.2,397.8,784.3,400.5,782.3C402.8,780.6,405.0,778.9,407.3,778.9C410.0,778.9,412.7,781.6,415.3,783.5C418.0,785.3,420.7,788.5,423.3,789.9C425.3,790.8,427.2,791.5,429.1,791.5C432.1,791.5,435.2,789.5,438.2,788.7C440.9,788.0,443.5,786.9,446.2,786.9C449.6,786.9,453.1,788.2,456.5,789.2C461.0,790.4,465.5,792.1,470.0,793.7C473.0,794.8,476.1,796.1,479.1,797.2C482.2,798.2,485.2,799.9,488.3,799.9C491.3,799.9,494.4,799.2,497.4,798.8C500.1,798.4,502.8,797.6,505.4,797.6C507.4,797.6,509.3,798.5,511.2,799.9C515.0,802.7,518.8,811.3,522.6,815.5C526.4,819.7,530.2,823.0,534.0,825.1C538.6,827.5,543.2,828.7,547.8,828.7C552.3,828.7,556.9,828.0,561.5,827.6C566.1,827.2,570.6,826.8,575.2,826.4C579.8,826.1,584.4,825.3,588.9,825.3C595.0,825.3,601.1,826.4,607.2,826.4C611.8,826.4,616.4,825.4,620.9,824.6C625.5,823.9,630.1,822.7,634.7,821.9C638.5,821.2,642.3,820.0,646.1,820.0C648.4,820.0,650.7,820.8,653.0,821.9C656.8,823.7,660.6,828.0,664.4,831.5C668.2,835.0,672.0,839.7,675.8,842.9C680.4,846.8,685.0,849.8,689.6,852.1C693.4,854.0,697.2,855.9,701.0,856.2C704.8,856.5,708.6,856.6,712.4,856.6C716.2,856.6,720.0,854.2,723.9,853.7C726.1,853.4,728.4,853.2,730.7,853.2C733.8,853.2,736.8,856.2,739.9,857.8C744.4,860.2,749.0,863.5,753.6,865.8C758.2,868.1,762.7,871.5,767.3,871.5C774.9,871.5,782.6,869.9,790.2,869.9C796.3,869.9,802.4,870.4,808.5,870.4C814.6,870.4,820.7,870.0,826.8,869.2C831.3,868.6,835.9,865.1,840.5,863.5C844.3,862.2,848.1,860.1,851.9,860.1C854.2,860.1,856.5,860.2,858.8,860.5C862.5,861.0,866.3,862.5,870.0,864.2C873.0,865.6,876.1,867.4,879.1,869.2C882.2,871.0,885.2,873.5,888.3,874.9C890.6,876.0,892.9,877.2,895.2,877.2C899.0,877.2,902.8,876.6,906.6,876.3C912.7,875.9,918.8,875.4,924.9,875.4C928.7,875.4,932.5,875.6,936.3,876.1C938.6,876.4,940.9,883.1,943.2,886.4C945.5,889.6,947.8,894.0,950.0,895.5C952.3,897.0,954.6,897.8,956.9,897.8C960.0,897.8,963.0,896.7,966.1,895.5C969.1,894.4,972.2,892.0,975.2,890.9C979.8,889.4,984.4,888.7,988.9,888.7C995.0,888.7,1001.1,888.9,1007.2,889.1C1011.8,889.3,1016.4,889.8,1020.9,889.8C1024.8,889.8,1028.6,889.4,1032.4,888.7C1034.7,888.2,1037.0,886.4,1039.2,885.2C1042.3,883.6,1045.3,881.4,1048.4,880.0C1051.4,878.6,1054.5,877.2,1057.5,876.8C1062.1,876.2,1066.7,875.8,1071.3,875.8C1077.4,875.8,1083.5,876.5,1089.6,876.5C1094.9,876.5,1100.2,876.1,1105.6,875.6C1109.4,875.3,1113.2,874.5,1117.0,874.5C1120.8,874.5,1124.6,875.4,1128.4,875.4C1130.7,875.4,1133.0,875.4,1135.3,875.4C1137.6,875.4,1139.9,873.8,1142.2,871.5C1146.0,867.7,1149.8,857.2,1153.6,852.1C1157.4,846.9,1161.2,844.2,1165.0,840.6C1168.1,837.8,1171.1,834.8,1174.2,832.6C1178.0,829.9,1181.8,827.4,1185.6,826.4C1189.4,825.5,1193.2,825.1,1197.0,825.1C1200.1,825.1,1203.1,827.0,1206.2,828.1C1210.0,829.4,1213.8,832.6,1217.6,832.6C1220.7,832.6,1223.7,832.5,1226.8,832.2C1231.3,831.7,1235.9,830.3,1240.5,829.9C1245.1,829.4,1249.6,829.5,1254.2,829.2C1259.5,828.8,1264.7,828.5,1270.0,827.6C1274.6,826.8,1279.1,825.6,1283.7,824.6C1288.3,823.7,1292.9,821.9,1297.4,821.9C1301.3,821.9,1305.1,823.1,1308.9,824.2C1312.3,825.1,1315.7,827.6,1319.2,827.6C1322.6,827.6,1326.0,826.0,1329.5,825.3C1332.5,824.7,1335.6,823.5,1338.6,823.5C1341.7,823.5,1344.7,824.9,1347.8,825.8C1350.8,826.6,1353.9,828.5,1356.9,828.5C1359.2,828.5,1361.5,827.6,1363.8,825.8C1366.4,823.6,1369.1,817.0,1371.8,814.3C1374.4,811.7,1377.1,809.8,1379.8,809.8C1382.4,809.8,1385.1,811.2,1387.8,813.2C1390.4,815.2,1393.1,819.6,1395.8,821.6C1398.1,823.4,1400.4,825.2,1402.6,825.3C1407.2,825.6,1411.8,825.8,1416.4,825.8C1420.9,825.8,1425.5,825.8,1430.1,825.8C1433.1,825.8,1436.2,826.5,1439.2,828.1C1442.3,829.6,1445.3,832.9,1448.4,836.1C1450.7,838.4,1453.0,842.2,1455.2,844.1C1457.2,845.6,1459.1,847.0,1461.0,847.0C1462.9,847.0,1464.8,845.5,1466.7,844.1C1469.0,842.4,1471.3,838.9,1473.5,837.2C1476.6,834.9,1479.6,833.6,1482.7,833.3C1488.0,832.9,1493.4,832.6,1498.7,832.6C1503.3,832.6,1507.9,833.8,1512.4,834.2C1515.5,834.5,1518.5,834.9,1521.6,834.9C1524.6,834.9,1527.7,832.6,1530.7,831.5C1534.5,830.1,1538.3,827.6,1542.2,827.6C1546.0,827.6,1549.8,827.6,1553.6,827.6C1556.6,827.6,1559.7,827.0,1562.7,825.8C1565.0,824.8,1567.3,821.6,1569.6,818.9C1571.9,816.2,1574.2,813.0,1576.5,809.8C1579.1,806.0,1581.8,797.9,1584.5,797.9C1587.1,797.9,1589.8,798.2,1592.5,798.3C1595.1,798.5,1597.8,798.8,1600.5,798.8C1603.1,798.8,1605.8,795.6,1608.5,792.6C1611.5,789.2,1614.6,783.1,1617.6,778.9C1620.7,774.7,1623.7,770.6,1626.8,767.4C1631.3,762.6,1635.9,760.2,1640.5,757.2C1645.1,754.1,1649.6,751.0,1654.2,749.1C1657.3,747.9,1660.3,746.4,1663.4,746.4C1665.6,746.4,1667.8,746.6,1670.0,746.7C1674.0,746.9,1678.0,747.6,1682.0,747.6C1685.9,747.6,1689.9,745.4,1693.9,744.6C1697.4,743.9,1700.9,743.1,1704.4,743.1C1707.9,743.1,1711.4,744.7,1714.8,746.1C1718.8,747.7,1722.8,750.1,1726.8,752.7C1730.3,754.9,1733.8,758.5,1737.3,760.1C1739.8,761.3,1742.2,762.2,1744.7,762.2C1747.7,762.2,1750.7,761.1,1753.7,759.3C1756.7,757.4,1759.7,754.8,1762.7,751.2C1765.7,747.6,1768.7,743.0,1771.6,737.7C1774.6,732.5,1777.6,725.5,1780.6,719.8C1783.6,714.1,1786.6,707.9,1789.6,703.3C1792.6,698.8,1795.6,694.7,1798.6,692.3C1801.0,690.3,1803.5,689.0,1806.0,689.0C1808.5,689.0,1811.0,690.3,1813.5,691.4C1817.5,693.1,1821.5,696.7,1825.5,698.9C1831.4,702.1,1837.4,703.8,1843.4,706.3C1847.4,708.0,1851.4,710.1,1855.4,711.4C1858.1,712.4,1860.9,713.8,1863.7,713.8C1865.9,713.8,1868.1,710.7,1870.3,706.3C1872.3,702.4,1874.3,694.5,1876.3,689.9C1878.3,685.3,1880.3,680.9,1882.3,678.5C1883.8,676.7,1885.2,675.5,1886.7,675.5C1888.7,675.5,1890.7,677.6,1892.7,679.4C1895.2,681.7,1897.7,685.8,1900.2,688.4C1903.2,691.5,1906.2,693.9,1909.2,695.9C1915.1,699.9,1921.1,700.4,1927.1,701.9C1933.1,703.3,1939.1,704.2,1945.0,704.8C1951.0,705.4,1957.0,705.5,1963.0,705.7C1968.0,706.0,1972.9,706.3,1977.9,706.3C1980.9,706.3,1983.9,706.1,1986.9,705.7C1989.9,705.3,1992.9,703.4,1995.9,701.9C1999.8,699.8,2003.8,696.7,2007.8,694.4C2011.8,692.0,2015.8,689.4,2019.8,687.8C2023.8,686.2,2027.7,684.5,2031.7,684.5C2035.7,684.5,2039.7,684.9,2043.7,685.4C2047.7,686.0,2051.7,686.5,2055.7,687.8C2058.6,688.7,2061.6,689.9,2064.6,691.4C2066.4,692.3,2068.2,693.0,2070.0,694.4C2073.0,696.7,2076.0,701.6,2079.0,704.8C2082.0,708.1,2084.9,711.5,2087.9,713.8C2091.9,716.9,2095.9,718.4,2099.9,719.8C2102.9,720.8,2105.9,721.9,2108.9,721.9C2111.9,721.9,2114.8,719.9,2117.8,718.3C2121.8,716.1,2125.8,712.8,2129.8,709.3C2133.8,705.8,2137.8,700.7,2141.7,697.4C2144.7,694.8,2147.7,691.8,2150.7,690.8C2153.7,689.8,2156.7,689.4,2159.7,689.3C2163.7,689.1,2167.7,689.2,2171.6,689.0C2174.6,688.8,2177.6,687.5,2180.6,687.5C2183.1,687.5,2185.6,687.5,2188.1,687.5C2189.6,687.5,2191.1,689.9,2192.6,692.9C2194.6,696.8,2196.6,704.6,2198.6,710.8C2200.5,717.1,2202.5,725.4,2204.5,730.3C2206.5,735.1,2208.5,739.8,2210.5,739.8C2212.5,739.8,2214.5,737.3,2216.5,734.7C2219.0,731.6,2221.5,724.6,2224.0,721.3C2226.5,717.9,2228.9,714.7,2231.4,714.7C2233.9,714.7,2236.4,718.7,2238.9,721.3C2241.4,723.9,2243.9,728.2,2246.4,730.3C2248.4,731.9,2250.4,733.2,2252.4,733.2C2255.4,733.2,2258.3,730.2,2261.3,728.8C2264.8,727.0,2268.3,723.7,2271.8,723.7C2274.8,723.7,2277.8,725.9,2280.8,727.3C2283.8,728.6,2286.7,731.7,2289.7,731.7C2292.2,731.7,2294.7,728.5,2297.2,725.8C2299.7,723.0,2302.2,717.8,2304.7,715.3C2307.2,712.8,2309.7,710.8,2312.2,710.8C2314.6,710.8,2317.1,713.1,2319.6,715.3C2322.1,717.5,2324.6,721.9,2327.1,724.3C2329.1,726.2,2331.1,728.5,2333.1,728.8C2336.1,729.2,2339.1,729.4,2342.0,729.4C2345.0,729.4,2348.0,728.8,2351.0,728.8C2353.0,728.8,2355.0,732.7,2357.0,736.2C2359.5,740.6,2362.0,748.9,2364.5,754.2C2367.0,759.4,2369.5,767.6,2371.9,767.6C2373.9,767.6,2375.9,767.4,2377.9,767.0C2381.9,766.2,2385.9,762.5,2389.9,760.1C2393.9,757.8,2397.9,754.7,2401.8,752.7C2404.8,751.2,2407.8,749.1,2410.8,749.1C2412.8,749.1,2414.8,750.9,2416.8,752.7C2419.8,755.3,2422.8,761.2,2425.8,764.6C2428.7,768.0,2431.7,771.1,2434.7,773.0C2436.5,774.1,2438.3,774.6,2440.2,775.4C2444.6,777.3,2449.1,779.0,2453.5,780.4C2459.1,782.2,2464.7,781.9,2470.2,784.8C2473.6,786.5,2476.9,789.2,2480.3,792.1C2483.1,794.6,2485.8,798.6,2488.6,800.5C2490.3,801.6,2492.0,802.8,2493.6,802.8C2495.3,802.8,2497.0,799.2,2498.6,793.8C2500.3,788.4,2502.0,778.8,2503.7,770.4C2505.3,762.0,2507.0,749.9,2508.7,743.7C2510.3,737.4,2512.0,734.6,2513.7,733.0C2515.9,730.7,2518.1,730.2,2520.4,729.6C2524.8,728.5,2529.3,728.4,2533.7,728.0C2540.8,727.3,2547.8,727.1,2554.8,727.0" stroke="#8450f2" stroke-width="2.0"/>
<path d="M83.0,802.2C86.3,803.3,89.6,804.3,92.9,804.5C95.5,804.6,98.2,804.7,100.9,804.7C103.2,804.7,105.4,802.6,107.7,800.6C110.4,798.3,113.1,793.7,115.7,791.5C118.4,789.2,121.1,787.3,123.7,787.3C126.4,787.3,129.1,788.9,131.7,789.9C135.6,791.2,139.4,794.2,143.2,794.2C146.2,794.2,149.3,794.0,152.3,793.7C155.4,793.4,158.4,792.5,161.5,791.9C165.3,791.2,169.1,790.2,172.9,789.6C175.6,789.2,178.3,788.7,180.9,788.7C183.2,788.7,185.5,790.0,187.8,791.5C191.2,793.7,194.6,798.8,198.1,801.7C202.6,805.7,207.2,808.7,211.8,810.9C216.4,813.1,220.9,814.8,225.5,814.8C228.6,814.8,231.6,814.5,234.7,814.3C238.1,814.1,241.5,813.6,245.0,813.6C251.4,813.6,257.9,814.8,264.4,814.8C270.5,814.8,276.6,814.6,282.7,814.3C286.5,814.1,290.3,812.2,294.1,810.9C297.9,809.6,301.8,807.8,305.6,806.3C309.4,804.9,313.2,803.0,317.0,802.2C319.3,801.7,321.6,801.3,323.9,801.3C326.5,801.3,329.2,803.5,331.9,805.2C334.5,806.9,337.2,810.0,339.9,811.6C342.5,813.2,345.2,814.7,347.9,814.8C351.3,814.9,354.7,815.0,358.2,815.0C361.2,815.0,364.3,815.0,367.3,815.0C373.4,815.0,379.5,816.2,385.6,816.2C388.7,816.2,391.7,814.5,394.8,813.2C397.0,812.2,399.3,810.5,401.6,809.8C403.9,809.0,406.2,808.6,408.5,808.6C411.5,808.6,414.6,810.1,417.6,810.9C420.7,811.7,423.7,813.5,426.8,813.6C430.6,813.8,434.4,813.8,438.2,813.9C443.5,814.0,448.9,814.1,454.2,814.3C459.5,814.6,464.7,814.7,470.0,815.5C473.0,815.9,476.1,818.8,479.1,820.0C482.2,821.3,485.2,823.0,488.3,823.0C491.3,823.0,494.4,822.5,497.4,822.3C500.1,822.2,502.8,821.9,505.4,821.9C508.1,821.9,510.8,824.3,513.5,825.8C517.3,827.9,521.1,831.0,524.9,833.3C528.7,835.6,532.5,837.9,536.3,839.5C540.1,841.1,543.9,842.9,547.8,842.9C552.3,842.9,556.9,842.8,561.5,842.5C566.1,842.2,570.6,841.5,575.2,841.1C579.8,840.7,584.4,840.2,588.9,840.2C595.0,840.2,601.1,840.2,607.2,840.2C611.8,840.2,616.4,839.8,620.9,839.5C625.5,839.2,630.1,838.6,634.7,838.3C638.5,838.1,642.3,837.9,646.1,837.9C649.1,837.9,652.2,838.6,655.2,839.5C659.1,840.5,662.9,842.0,666.7,844.1C670.5,846.2,674.3,849.7,678.1,852.1C681.9,854.5,685.7,857.0,689.6,858.5C693.4,859.9,697.2,860.4,701.0,860.8C704.8,861.1,708.6,861.2,712.4,861.2C717.8,861.2,723.1,861.2,728.4,861.2C732.2,861.2,736.1,862.5,739.9,863.5C744.4,864.7,749.0,866.5,753.6,868.1C758.2,869.6,762.7,871.7,767.3,872.6C770.4,873.3,773.4,873.8,776.5,873.8C781.0,873.8,785.6,873.3,790.2,873.3C796.3,873.3,802.4,873.3,808.5,873.3C814.6,873.3,820.7,873.1,826.8,872.6C831.3,872.3,835.9,871.5,840.5,871.0C844.3,870.6,848.1,869.9,851.9,869.9C854.2,869.9,856.5,870.1,858.8,870.4C862.5,870.7,866.3,871.4,870.0,872.2C873.0,872.8,876.1,873.8,879.1,874.5C883.7,875.5,888.3,877.2,892.9,877.2C897.4,877.2,902.0,875.8,906.6,875.4C912.7,874.8,918.8,874.5,924.9,874.5C928.7,874.5,932.5,874.9,936.3,875.4C940.9,876.0,945.5,877.2,950.0,877.9C955.4,878.7,960.7,879.5,966.1,879.5C970.6,879.5,975.2,879.3,979.8,879.1C983.6,878.9,987.4,878.4,991.2,878.4C994.3,878.4,997.3,879.7,1000.4,880.7C1004.2,881.8,1008.0,883.7,1011.8,884.8C1015.6,885.8,1019.4,886.8,1023.2,886.8C1026.3,886.8,1029.3,886.7,1032.4,886.4C1034.7,886.1,1037.0,885.0,1039.2,884.1C1042.3,882.8,1045.3,880.8,1048.4,879.5C1051.4,878.3,1054.5,876.9,1057.5,876.5C1062.1,875.9,1066.7,875.6,1071.3,875.6C1077.4,875.6,1083.5,876.5,1089.6,876.5C1094.9,876.5,1100.2,876.1,1105.6,875.6C1109.4,875.3,1113.2,874.5,1117.0,874.5C1120.8,874.5,1124.6,875.6,1128.4,875.6C1130.7,875.6,1133.0,875.6,1135.3,875.6C1137.6,875.6,1139.9,873.5,1142.2,870.4C1144.4,867.2,1146.7,860.2,1149.0,856.6C1152.1,851.8,1155.1,849.6,1158.2,847.5C1161.2,845.4,1164.3,844.9,1167.3,844.1C1171.1,843.0,1174.9,842.5,1178.7,842.5C1182.6,842.5,1186.4,842.9,1190.2,843.4C1194.8,843.9,1199.3,845.1,1203.9,845.7C1208.5,846.3,1213.1,847.0,1217.6,847.0C1222.2,847.0,1226.8,847.0,1231.3,846.8C1237.4,846.6,1243.5,845.7,1249.6,845.2C1256.4,844.6,1263.2,844.2,1270.0,843.6C1274.6,843.2,1279.1,842.8,1283.7,842.5C1288.3,842.2,1292.9,841.8,1297.4,841.8C1301.3,841.8,1305.1,842.9,1308.9,843.4C1312.3,843.8,1315.7,844.5,1319.2,844.5C1322.6,844.5,1326.0,843.4,1329.5,842.9C1332.5,842.5,1335.6,841.8,1338.6,841.8C1341.7,841.8,1344.7,842.5,1347.8,842.9C1350.8,843.3,1353.9,844.1,1356.9,844.1C1359.2,844.1,1361.5,843.2,1363.8,842.2C1366.4,841.1,1369.1,838.3,1371.8,837.2C1374.4,836.1,1377.1,835.4,1379.8,835.4C1382.4,835.4,1385.1,836.8,1387.8,837.7C1390.4,838.5,1393.1,839.9,1395.8,840.6C1398.1,841.2,1400.4,841.8,1402.6,841.8C1407.2,841.8,1411.8,841.8,1416.4,841.8C1420.9,841.8,1425.5,842.5,1430.1,843.6C1433.1,844.3,1436.2,845.3,1439.2,846.3C1442.3,847.4,1445.3,848.7,1448.4,849.8C1450.7,850.6,1453.0,851.6,1455.2,852.1C1457.2,852.5,1459.1,852.8,1461.0,852.8C1462.9,852.8,1464.8,852.5,1466.7,852.1C1469.0,851.5,1471.3,849.5,1473.5,848.6C1476.6,847.4,1479.6,846.5,1482.7,846.3C1488.0,846.0,1493.4,845.9,1498.7,845.9C1503.3,845.9,1507.9,845.9,1512.4,845.9C1515.5,845.9,1518.5,845.9,1521.6,845.9C1524.6,845.9,1527.7,843.7,1530.7,842.9C1534.5,841.9,1538.3,840.6,1542.2,840.6C1546.0,840.6,1549.8,840.6,1553.6,840.6C1556.6,840.6,1559.7,840.1,1562.7,839.0C1565.0,838.2,1567.3,836.2,1569.6,833.8C1571.9,831.4,1574.2,827.2,1576.5,824.6C1579.1,821.6,1581.8,817.8,1584.5,817.8C1587.1,817.8,1589.8,817.8,1592.5,817.8C1595.1,817.8,1597.8,818.2,1600.5,818.2C1603.1,818.2,1605.8,815.6,1608.5,813.2C1611.5,810.4,1614.6,805.0,1617.6,801.7C1620.7,798.5,1623.7,795.8,1626.8,793.7C1631.3,790.7,1635.9,790.4,1640.5,789.2C1645.1,788.0,1649.6,787.3,1654.2,786.4C1659.5,785.4,1664.7,784.5,1670.0,783.5C1674.0,782.7,1678.0,781.7,1682.0,781.1C1685.9,780.4,1689.9,779.6,1693.9,779.6C1696.9,779.6,1699.9,779.6,1702.9,779.6C1706.9,779.6,1710.9,782.6,1714.8,784.1C1718.8,785.6,1722.8,787.1,1726.8,788.6C1730.3,789.8,1733.8,791.8,1737.3,792.1C1739.3,792.3,1741.3,792.4,1743.2,792.4C1745.7,792.4,1748.2,789.6,1750.7,787.1C1753.7,784.0,1756.7,778.1,1759.7,774.5C1763.7,769.7,1767.7,766.5,1771.6,763.1C1775.6,759.8,1779.6,756.6,1783.6,754.2C1787.6,751.8,1791.6,750.2,1795.6,748.8C1799.0,747.6,1802.5,746.1,1806.0,746.1C1809.5,746.1,1813.0,746.9,1816.5,747.6C1820.5,748.4,1824.5,749.9,1828.4,750.6C1833.4,751.5,1838.4,752.1,1843.4,752.1C1847.4,752.1,1851.4,750.8,1855.4,749.7C1859.3,748.5,1863.3,747.6,1867.3,745.2C1870.3,743.4,1873.3,740.8,1876.3,738.3C1878.3,736.7,1880.3,734.0,1882.3,733.2C1883.8,732.6,1885.2,732.3,1886.7,732.3C1888.7,732.3,1890.7,734.6,1892.7,736.2C1895.2,738.2,1897.7,741.7,1900.2,743.7C1903.2,746.2,1906.2,748.4,1909.2,749.1C1915.1,750.5,1921.1,750.8,1927.1,751.2C1933.1,751.6,1939.1,751.4,1945.0,751.8C1951.0,752.1,1957.0,752.9,1963.0,753.3C1968.0,753.6,1972.9,754.2,1977.9,754.2C1980.9,754.2,1983.9,754.0,1986.9,753.6C1989.9,753.2,1992.9,751.3,1995.9,749.7C1999.8,747.5,2003.8,743.7,2007.8,741.6C2011.8,739.5,2015.8,737.7,2019.8,737.1C2023.8,736.5,2027.7,736.2,2031.7,736.2C2035.7,736.2,2039.7,737.2,2043.7,737.7C2047.7,738.2,2051.7,738.8,2055.7,739.2C2060.4,739.7,2065.2,739.5,2070.0,740.1C2073.0,740.5,2076.0,743.1,2079.0,745.2C2082.0,747.3,2084.9,750.4,2087.9,752.7C2091.9,755.8,2095.9,759.1,2099.9,761.0C2103.9,763.0,2107.9,764.6,2111.9,764.6C2115.8,764.6,2119.8,763.6,2123.8,761.6C2127.8,759.7,2131.8,754.4,2135.8,751.2C2139.8,747.9,2143.7,744.0,2147.7,742.2C2151.2,740.6,2154.7,739.8,2158.2,739.8C2161.7,739.8,2165.2,740.1,2168.7,740.7C2172.6,741.4,2176.6,743.0,2180.6,745.2C2183.6,746.8,2186.6,748.7,2189.6,751.2C2192.6,753.7,2195.6,757.5,2198.6,760.1C2201.5,762.8,2204.5,765.6,2207.5,767.0C2210.5,768.4,2213.5,769.1,2216.5,769.1C2220.5,769.1,2224.5,769.1,2228.4,769.1C2232.4,769.1,2236.4,771.4,2240.4,772.1C2244.4,772.9,2248.4,773.6,2252.4,773.6C2256.3,773.6,2260.3,772.1,2264.3,771.5C2268.3,770.9,2272.3,770.0,2276.3,770.0C2280.3,770.0,2284.3,770.6,2288.2,770.6C2292.2,770.6,2296.2,769.0,2300.2,767.6C2303.2,766.6,2306.2,764.0,2309.2,764.0C2311.2,764.0,2313.1,764.2,2315.1,764.6C2318.1,765.2,2321.1,767.9,2324.1,769.1C2327.1,770.4,2330.1,772.1,2333.1,772.1C2336.1,772.1,2339.1,772.1,2342.0,772.1C2345.0,772.1,2348.0,771.5,2351.0,771.5C2354.0,771.5,2357.0,774.6,2360.0,776.6C2363.0,778.5,2366.0,781.1,2369.0,783.2C2372.9,785.9,2376.9,788.8,2380.9,790.9C2384.9,793.1,2388.9,796.0,2392.9,796.0C2395.9,796.0,2398.8,795.3,2401.8,794.5C2404.8,793.8,2407.8,791.5,2410.8,791.5C2413.8,791.5,2416.8,794.0,2419.8,795.4C2423.8,797.4,2427.7,800.3,2431.7,802.0C2437.9,804.6,2444.0,803.8,2450.2,806.2C2454.6,807.9,2459.1,810.5,2463.6,812.8C2468.0,815.2,2472.5,818.6,2476.9,820.5C2480.3,822.0,2483.6,823.3,2487.0,823.9C2489.7,824.3,2492.5,824.5,2495.3,824.5C2498.1,824.5,2500.9,822.0,2503.7,820.5C2507.0,818.8,2510.3,816.5,2513.7,814.9C2518.1,812.7,2522.6,811.0,2527.1,809.8C2531.5,808.7,2536.0,808.2,2540.4,807.8C2545.2,807.4,2550.0,807.3,2554.8,807.2" stroke="#212529" stroke-width="6.2"/>
<path d="M83.0,854.4C86.3,855.4,89.6,856.4,92.9,857.1C95.9,857.7,99.0,858.2,102.0,858.2C104.3,858.2,106.6,855.1,108.9,853.2C111.5,851.0,114.2,847.3,116.9,845.7C118.9,844.4,121.0,843.4,123.1,843.4C125.6,843.4,128.1,845.8,130.6,847.5C132.9,849.0,135.2,851.5,137.5,852.8C139.8,854.0,142.0,854.8,144.3,854.8C147.0,854.8,149.7,853.0,152.3,852.1C155.4,851.0,158.4,849.6,161.5,848.6C165.3,847.4,169.1,846.5,172.9,845.9C175.6,845.5,178.3,845.2,180.9,845.2C183.2,845.2,185.5,846.4,187.8,847.5C191.2,849.1,194.6,852.1,198.1,854.4C202.6,857.4,207.2,861.2,211.8,863.5C216.4,865.8,220.9,868.1,225.5,868.1C228.6,868.1,231.6,866.6,234.7,865.8C238.5,864.7,242.3,862.4,246.1,862.4C248.4,862.4,250.7,863.9,253.0,864.6C256.8,865.9,260.6,868.1,264.4,868.1C268.2,868.1,272.0,868.1,275.8,868.1C280.4,868.1,285.0,867.5,289.6,866.9C294.9,866.3,300.2,866.0,305.6,864.2C309.4,862.9,313.2,860.2,317.0,858.9C319.7,858.1,322.3,857.1,325.0,857.1C327.3,857.1,329.6,858.7,331.9,860.1C334.5,861.7,337.2,864.9,339.9,866.5C342.5,868.1,345.2,869.6,347.9,869.7C351.3,869.8,354.7,869.8,358.2,869.9C361.2,870.0,364.3,870.1,367.3,870.4C370.4,870.7,373.4,871.6,376.5,872.0C379.5,872.3,382.6,872.6,385.6,872.6C387.9,872.6,390.2,871.5,392.5,870.4C395.1,869.0,397.8,865.9,400.5,864.6C402.8,863.6,405.0,862.8,407.3,862.8C410.0,862.8,412.7,864.5,415.3,865.8C418.0,867.0,420.7,869.7,423.3,870.4C425.3,870.8,427.2,871.0,429.1,871.0C432.1,871.0,435.2,870.1,438.2,869.7C440.9,869.3,443.5,868.8,446.2,868.8C449.6,868.8,453.1,869.5,456.5,869.9C461.0,870.4,465.5,870.4,470.0,871.5C473.0,872.2,476.1,874.1,479.1,874.9C482.2,875.8,485.2,876.5,488.3,876.5C491.3,876.5,494.4,876.3,497.4,876.1C500.1,875.9,502.8,875.4,505.4,875.4C508.1,875.4,510.8,877.3,513.5,878.8C516.5,880.6,519.6,883.8,522.6,885.7C526.4,888.1,530.2,889.6,534.0,890.9C538.6,892.5,543.2,893.9,547.8,893.9C552.3,893.9,556.9,893.5,561.5,893.2C566.1,893.0,570.6,892.7,575.2,892.5C579.8,892.4,584.4,892.1,588.9,892.1C595.0,892.1,601.1,892.5,607.2,892.5C611.8,892.5,616.4,892.1,620.9,891.6C625.5,891.2,630.1,890.3,634.7,889.8C638.5,889.4,642.3,888.7,646.1,888.7C649.1,888.7,652.2,889.4,655.2,890.5C659.1,891.8,662.9,894.7,666.7,896.7C670.5,898.6,674.3,900.5,678.1,902.4C681.9,904.3,685.7,906.8,689.6,908.1C693.4,909.4,697.2,910.1,701.0,910.4C704.8,910.7,708.6,910.8,712.4,910.8C716.2,910.8,720.0,909.2,723.9,909.2C726.1,909.2,728.4,909.2,730.7,909.2C733.8,909.2,736.8,910.7,739.9,911.5C744.4,912.8,749.0,914.8,753.6,916.1C758.2,917.4,762.7,918.6,767.3,919.1C770.4,919.4,773.4,919.5,776.5,919.5C781.0,919.5,785.6,918.8,790.2,918.8C796.3,918.8,802.4,918.8,808.5,918.8C814.6,918.8,820.7,918.7,826.8,918.4C831.3,918.2,835.9,916.8,840.5,916.1C844.3,915.5,848.1,914.3,851.9,914.3C854.2,914.3,856.5,914.3,858.8,914.5C862.5,914.7,866.3,915.1,870.0,916.1C873.0,916.9,876.1,918.5,879.1,919.5C882.2,920.6,885.2,921.7,888.3,922.5C891.3,923.3,894.4,924.1,897.4,924.1C902.8,924.1,908.1,923.8,913.5,923.6C918.8,923.5,924.1,923.0,929.5,923.0C931.7,923.0,934.0,924.1,936.3,925.2C939.4,926.8,942.4,930.3,945.5,932.1C948.1,933.7,950.8,935.5,953.5,935.5C956.1,935.5,958.8,935.4,961.5,935.1C966.1,934.6,970.6,932.9,975.2,932.1C980.5,931.2,985.9,930.3,991.2,930.3C996.5,930.3,1001.9,930.6,1007.2,931.0C1011.8,931.3,1016.4,932.1,1020.9,932.1C1024.8,932.1,1028.6,932.1,1032.4,932.1C1034.7,932.1,1037.0,931.0,1039.2,930.3C1042.3,929.3,1045.3,927.5,1048.4,926.4C1051.4,925.3,1054.5,924.0,1057.5,923.6C1062.1,923.2,1066.7,923.0,1071.3,923.0C1077.4,923.0,1083.5,923.6,1089.6,923.6C1094.9,923.6,1100.2,923.2,1105.6,923.0C1109.4,922.8,1113.2,922.3,1117.0,922.3C1120.8,922.3,1124.6,923.4,1128.4,923.4C1130.7,923.4,1133.0,923.4,1135.3,923.4C1138.0,923.4,1140.6,921.3,1143.3,919.5C1146.7,917.3,1150.2,913.1,1153.6,910.4C1157.4,907.3,1161.2,904.6,1165.0,902.4C1168.8,900.2,1172.6,898.6,1176.5,897.3C1180.3,896.1,1184.1,895.3,1187.9,895.1C1190.9,894.9,1194.0,894.8,1197.0,894.8C1200.1,894.8,1203.1,896.1,1206.2,896.7C1210.0,897.4,1213.8,898.9,1217.6,898.9C1221.4,898.9,1225.3,898.5,1229.1,898.3C1234.4,897.9,1239.7,897.3,1245.1,897.3C1249.6,897.3,1254.2,897.3,1258.8,897.3C1262.5,897.3,1266.3,897.3,1270.0,897.1C1274.6,896.9,1279.1,896.1,1283.7,895.5C1288.3,895.0,1292.9,893.9,1297.4,893.9C1301.3,893.9,1305.1,894.9,1308.9,895.5C1312.3,896.1,1315.7,897.3,1319.2,897.3C1322.6,897.3,1326.0,896.0,1329.5,895.5C1332.5,895.1,1335.6,894.4,1338.6,894.4C1341.7,894.4,1344.7,895.6,1347.8,896.2C1350.8,896.9,1353.9,898.3,1356.9,898.3C1359.2,898.3,1361.5,896.8,1363.8,895.5C1366.4,894.1,1369.1,891.2,1371.8,889.8C1374.4,888.4,1377.1,887.1,1379.8,887.1C1382.4,887.1,1385.1,888.6,1387.8,889.8C1390.4,891.0,1393.1,893.2,1395.8,894.4C1398.1,895.4,1400.4,896.7,1402.6,896.7C1407.2,896.7,1411.8,896.7,1416.4,896.7C1420.9,896.7,1425.5,896.7,1430.1,896.7C1433.1,896.7,1436.2,897.3,1439.2,898.5C1442.3,899.6,1445.3,901.8,1448.4,903.5C1450.7,904.8,1453.0,906.7,1455.2,907.6C1457.2,908.4,1459.1,909.2,1461.0,909.2C1462.9,909.2,1464.8,908.4,1466.7,907.6C1469.0,906.7,1471.3,904.6,1473.5,903.5C1476.6,902.1,1479.6,901.4,1482.7,901.2C1488.0,900.9,1493.4,900.8,1498.7,900.8C1503.3,900.8,1507.9,901.4,1512.4,901.7C1515.5,901.9,1518.5,902.4,1521.6,902.4C1524.6,902.4,1527.7,900.8,1530.7,900.1C1534.5,899.2,1538.3,897.8,1542.2,897.8C1546.0,897.8,1549.8,898.3,1553.6,898.3C1556.6,898.3,1559.7,897.9,1562.7,897.1C1565.0,896.5,1567.3,894.1,1569.6,892.1C1571.9,890.1,1574.2,886.9,1576.5,885.2C1579.1,883.3,1581.8,881.8,1584.5,881.8C1587.1,881.8,1589.8,881.8,1592.5,881.8C1595.1,881.8,1597.8,881.8,1600.5,881.8C1603.1,881.8,1605.8,879.0,1608.5,877.2C1611.5,875.2,1614.6,872.5,1617.6,870.4C1620.7,868.3,1623.7,866.2,1626.8,864.6C1631.3,862.3,1635.9,861.7,1640.5,860.1C1645.1,858.5,1649.6,856.4,1654.2,855.0C1657.3,854.1,1660.3,852.8,1663.4,852.8C1665.6,852.8,1667.8,853.7,1670.0,853.7C1674.0,853.7,1678.0,853.7,1682.0,853.7C1685.9,853.7,1689.9,853.1,1693.9,852.8C1697.9,852.6,1701.9,852.2,1705.9,852.2C1709.9,852.2,1713.8,853.2,1717.8,854.3C1721.8,855.4,1725.8,857.6,1729.8,858.8C1733.8,860.0,1737.8,861.8,1741.7,861.8C1744.7,861.8,1747.7,861.6,1750.7,861.2C1754.7,860.7,1758.7,858.9,1762.7,855.8C1765.7,853.5,1768.7,850.1,1771.6,846.8C1774.6,843.6,1777.6,839.4,1780.6,836.4C1783.6,833.4,1786.6,830.9,1789.6,828.9C1792.6,826.9,1795.6,825.4,1798.6,824.4C1801.0,823.6,1803.5,822.9,1806.0,822.9C1808.5,822.9,1811.0,823.3,1813.5,823.8C1817.5,824.7,1821.5,826.8,1825.5,828.0C1831.4,829.8,1837.4,830.5,1843.4,831.9C1847.4,832.8,1851.4,834.4,1855.4,834.9C1858.3,835.3,1861.3,835.5,1864.3,835.5C1866.3,835.5,1868.3,833.3,1870.3,831.3C1872.3,829.3,1874.3,825.9,1876.3,823.5C1878.3,821.1,1880.3,818.4,1882.3,817.0C1883.8,815.8,1885.2,814.9,1886.7,814.9C1888.7,814.9,1890.7,815.9,1892.7,817.0C1895.2,818.3,1897.7,821.3,1900.2,822.9C1903.2,824.9,1906.2,826.4,1909.2,827.4C1915.1,829.4,1921.1,829.7,1927.1,830.4C1933.1,831.2,1939.1,831.5,1945.0,831.9C1951.0,832.2,1957.0,832.3,1963.0,832.5C1968.0,832.6,1972.9,832.8,1977.9,832.8C1980.9,832.8,1983.9,832.7,1986.9,832.5C1989.9,832.3,1992.9,831.2,1995.9,830.4C1999.8,829.3,2003.8,827.8,2007.8,826.5C2011.8,825.3,2015.8,823.8,2019.8,822.9C2023.8,822.1,2027.7,821.4,2031.7,821.4C2035.7,821.4,2039.7,821.7,2043.7,822.0C2047.7,822.4,2051.7,822.8,2055.7,823.5C2060.4,824.4,2065.2,825.0,2070.0,827.4C2073.0,829.0,2076.0,831.5,2079.0,833.4C2082.0,835.2,2084.9,837.2,2087.9,838.5C2091.9,840.2,2095.9,841.2,2099.9,841.5C2102.9,841.7,2105.9,841.8,2108.9,841.8C2111.9,841.8,2114.8,840.3,2117.8,839.4C2121.8,838.1,2125.8,836.6,2129.8,834.9C2133.8,833.1,2137.8,830.5,2141.7,828.9C2144.7,827.7,2147.7,826.5,2150.7,825.9C2153.7,825.3,2156.7,825.0,2159.7,825.0C2163.7,825.0,2167.7,825.0,2171.6,825.0C2174.6,825.0,2177.6,823.8,2180.6,823.8C2183.1,823.8,2185.6,823.8,2188.1,823.8C2190.1,823.8,2192.1,826.3,2194.1,828.9C2196.1,831.5,2198.1,836.1,2200.0,839.4C2202.0,842.6,2204.0,846.2,2206.0,848.3C2208.0,850.5,2210.0,852.2,2212.0,852.2C2214.0,852.2,2216.0,850.0,2218.0,848.3C2220.0,846.7,2222.0,843.8,2224.0,842.4C2226.5,840.5,2228.9,839.4,2231.4,839.4C2233.9,839.4,2236.4,841.6,2238.9,843.0C2241.4,844.4,2243.9,846.7,2246.4,847.7C2248.6,848.7,2250.8,849.2,2253.0,849.2C2255.7,849.2,2258.5,848.0,2261.3,847.4C2264.8,846.7,2268.3,845.4,2271.8,845.4C2274.8,845.4,2277.8,846.2,2280.8,846.8C2283.8,847.4,2286.7,848.9,2289.7,848.9C2292.2,848.9,2294.7,847.6,2297.2,846.2C2299.7,844.9,2302.2,842.2,2304.7,840.9C2307.2,839.6,2309.7,838.5,2312.2,838.5C2314.6,838.5,2317.1,839.7,2319.6,840.9C2322.1,842.0,2324.6,844.1,2327.1,845.4C2329.1,846.3,2331.1,847.7,2333.1,847.7C2336.1,847.7,2339.1,847.7,2342.0,847.7C2345.0,847.7,2348.0,847.7,2351.0,847.7C2353.0,847.7,2355.0,850.3,2357.0,852.2C2359.5,854.7,2362.0,859.1,2364.5,861.8C2367.0,864.5,2369.5,868.1,2371.9,868.4C2373.9,868.6,2375.9,868.7,2377.9,868.7C2381.9,868.7,2385.9,866.8,2389.9,865.7C2393.9,864.5,2397.9,862.9,2401.8,861.8C2404.8,861.0,2407.8,859.7,2410.8,859.7C2412.8,859.7,2414.8,860.4,2416.8,861.2C2419.8,862.4,2422.8,865.4,2425.8,867.2C2428.7,868.9,2431.7,870.2,2434.7,871.7C2437.6,873.1,2440.6,874.9,2443.5,875.7C2449.1,877.2,2454.6,877.1,2460.2,878.0C2464.7,878.8,2469.1,879.3,2473.6,880.7C2478.0,882.1,2482.5,885.1,2487.0,886.4C2489.7,887.2,2492.5,888.0,2495.3,888.0C2498.1,888.0,2500.9,886.1,2503.7,885.0C2507.0,883.8,2510.3,882.2,2513.7,881.4C2518.1,880.2,2522.6,880.1,2527.1,879.7C2531.5,879.3,2536.0,879.0,2540.4,879.0C2545.2,879.0,2550.0,879.0,2554.8,879.0" stroke="#212529" stroke-width="6.0" stroke-dasharray="12 8"/>
</g>
<g font-family="'Liberation Sans', Arial, sans-serif" font-size="18" fill="#7d8591" stroke="#7d8591" stroke-width="0.25">
<text x="2577" y="995.4">$0.0K</text>
<text x="2577" y="922.8">$2.0K</text>
<text x="2577" y="850.3">$4.0K</text>
<text x="2577" y="777.7">$6.0K</text>
<text x="2577" y="705.2">$8.0K</text>
<text x="2577" y="632.6">$10.0K</text>
<text x="2577" y="560.1">$12.0K</text>
<text x="2577" y="487.5">$14.0K</text>
<text x="2577" y="415.0">$16.0K</text>
<text x="2577" y="342.4">$18.0K</text>
<text x="82.5" y="1028" text-anchor="middle">Nov 30</text>
<text x="406.8" y="1028" text-anchor="middle">Jan 17</text>
<text x="731.1" y="1028" text-anchor="middle">Mar 6</text>
<text x="1055.4" y="1028" text-anchor="middle">Apr 23</text>
<text x="1379.7" y="1028" text-anchor="middle">Jun 10</text>
<text x="1704.0" y="1028" text-anchor="middle">Jul 28</text>
<text x="2028.3" y="1028" text-anchor="middle">Sep 14</text>
<text x="2352.6" y="1028" text-anchor="middle">Nov 1</text>
</g>
</svg>
<header><h2 class="t title">COMPOSITE FAIR VALUE OVER TIME</h2>
<span class="t sub">(12 / 12 models)</span>
<div class="t lbl" style="left:783px">Market Price</div>
<div class="t big" style="left:948px">$3,045.8</div>
<div class="t lbl" style="left:1274px">Composite Fair Value</div>
<div class="t big" style="left:1536.5px">$4,839.6</div>
<div class="badge"></div><div class="t pct">+58.9%</div></header>
<nav aria-label="Time range"><div class="toggle"></div><div class="act"></div>
<button type="button" class="t tg" style="left:2428px">30D</button><button type="button" class="t tg" style="left:2508px">90D</button><button type="button" class="t tga" style="left:2590px" aria-pressed="true">1Y</button></nav>
<footer aria-label="Legend"><div class="pill" style="left:48px;width:424px"></div><div class="pill" style="left:482px;width:423px"></div>
<div class="bar" style="left:68px;top:1138px;width:8px;height:6px"></div><div class="bar" style="left:82px;top:1138px;width:8px;height:6px"></div>
<div class="t lg lg1" style="left:105.5px">Market Price</div>
<div class="bar" style="left:502px;top:1137px;width:28px;height:8px"></div>
<div class="t lg lg2" style="left:540px">Composite Fair Value</div>
<div class="cnt"></div><div class="t cntt">12 / 12</div></footer></main>
</body></html>
